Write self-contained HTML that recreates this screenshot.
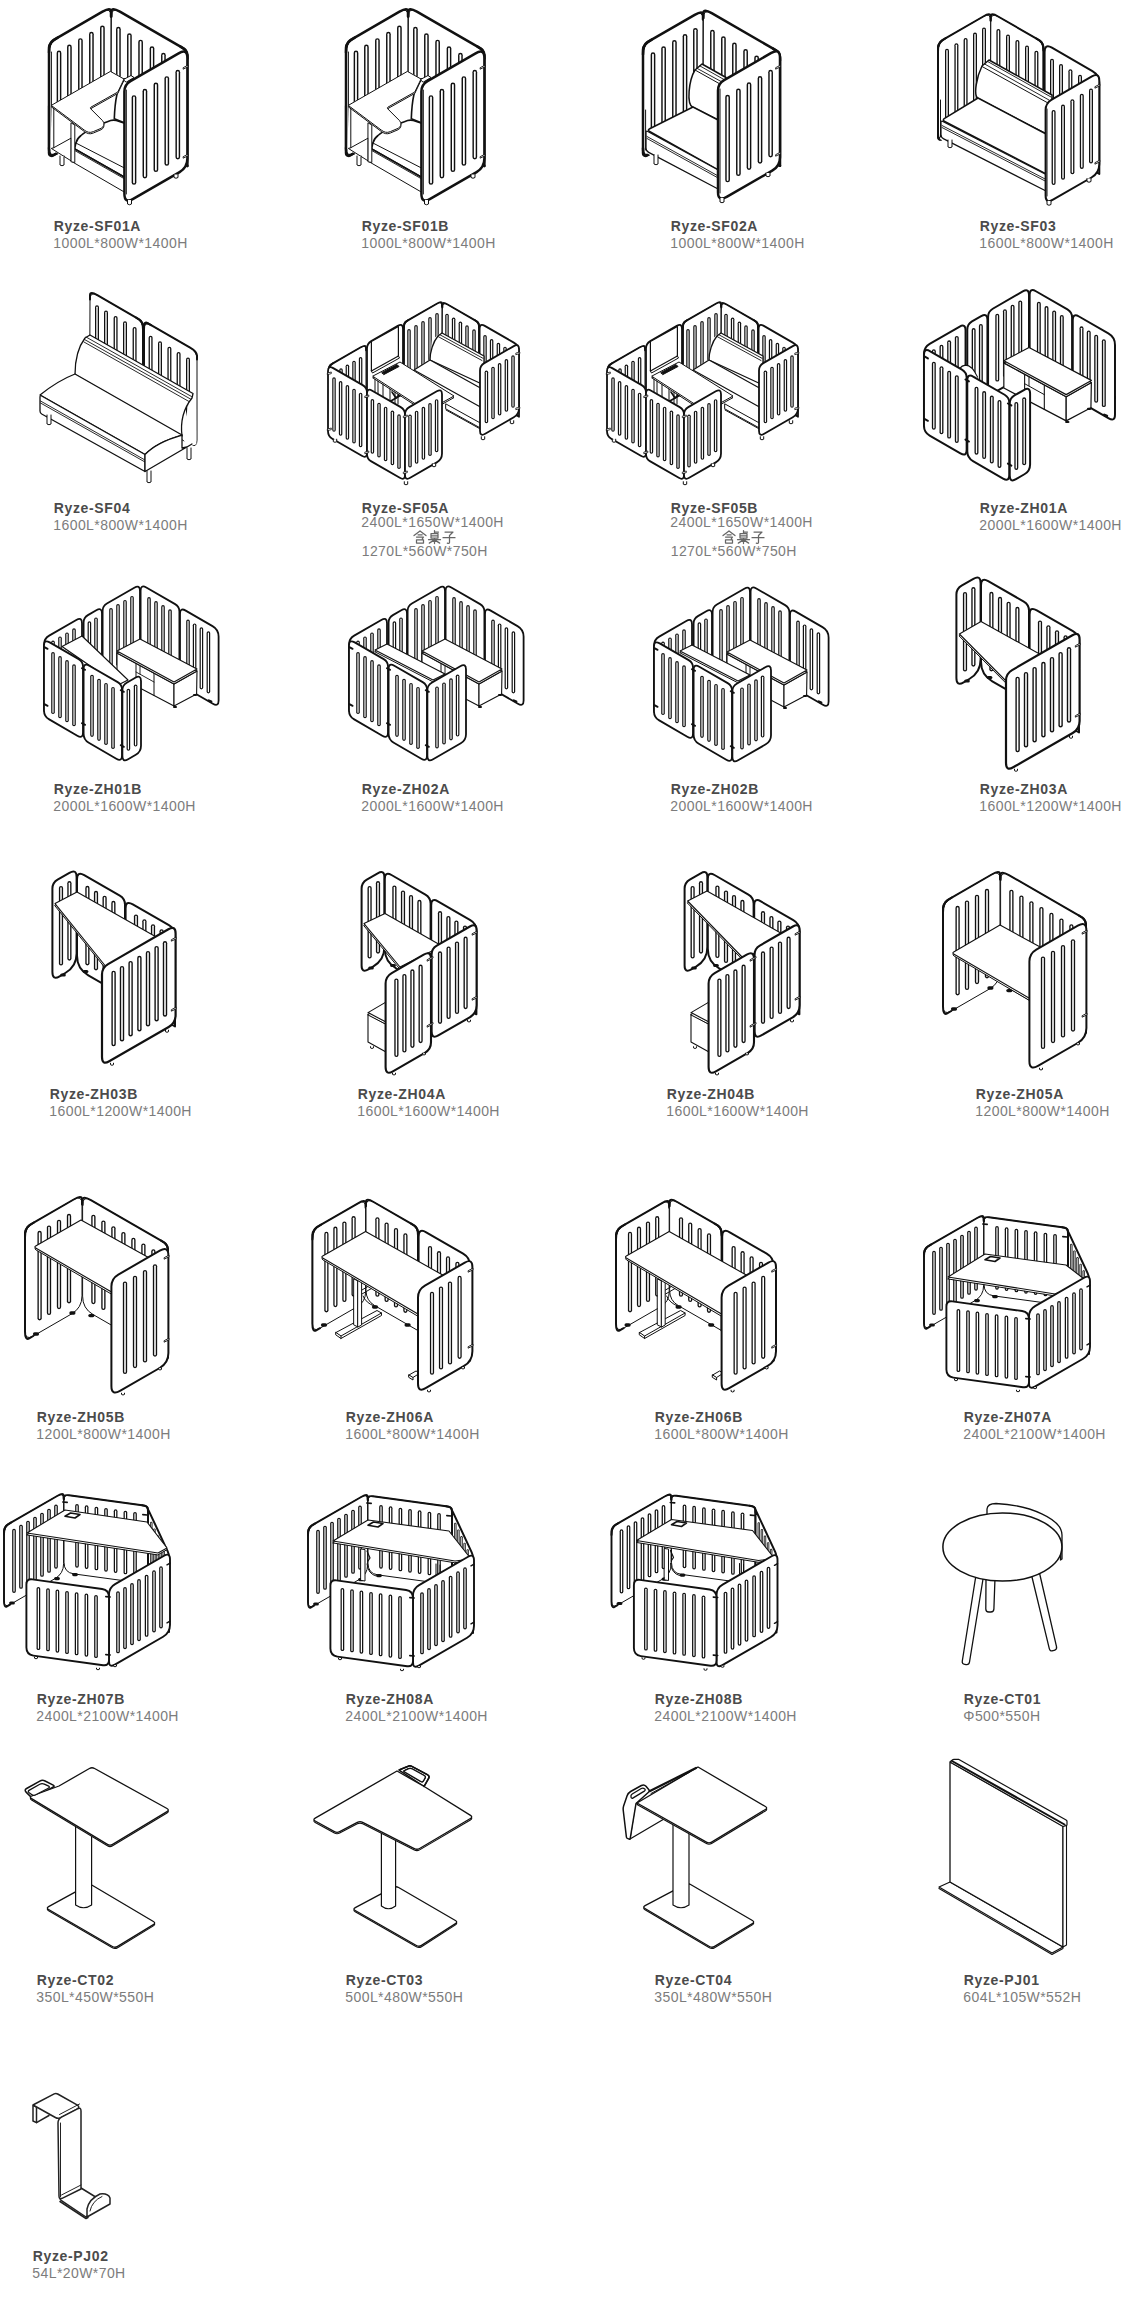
<!DOCTYPE html>
<html><head><meta charset="utf-8"><title>Ryze</title>
<style>
html,body{margin:0;padding:0;background:#fff}
body{width:1140px;height:2304px;overflow:hidden;font-family:"Liberation Sans",sans-serif}
svg{position:absolute;left:0;top:0;display:block}
path{stroke-linejoin:round;stroke-linecap:round}
.so{stroke:#111;fill:none}
.si{stroke:#fff;fill:none}
text{font-family:"Liberation Sans",sans-serif}
.n{font-size:14px;font-weight:bold;fill:#4b4b4b;letter-spacing:0.64px}
.d{font-size:14px;fill:#7c7c7c;letter-spacing:0.42px}
</style></head><body>
<svg width="1140" height="2304" viewBox="0 0 1140 2304">
<path d="M987 1515L987 1509Q987.5 1503.5 996 1503.5C1030 1505 1062 1519 1062 1535L1062 1559L1060.5 1560L1060.5 1540" fill="#fff" stroke="#111" stroke-width="1.3"/>
<path d="M986 1578L995 1578L993.9 1609Q993.8 1612 990.8 1612L988.8 1612Q985.8 1612 985.8 1609Z" fill="#fff" stroke="#111" stroke-width="1.3"/>
<path d="M976 1575L983.5 1576L969.5 1662Q969 1665 966 1664.6L964.8 1664.4Q961.8 1664 962.3 1661Z" fill="#fff" stroke="#111" stroke-width="1.3"/>
<path d="M1031.5 1575L1039.5 1573L1056.5 1646.6Q1057.2 1649.5 1054.3 1650.3L1052.9 1650.7Q1050 1651.5 1049.3 1648.6Z" fill="#fff" stroke="#111" stroke-width="1.3"/>
<ellipse cx="1002.4" cy="1547" rx="59.5" ry="34" fill="#fff" stroke="#111" stroke-width="1.5"/>
<text x="963.8" y="1703.5" class="n">Ryze-CT01</text>
<text x="963.3" y="1720.7" class="d">&#934;500*550H</text>
<path d="M48.6 1910.8Q46 1909.3 48.6 1907.9L87.4 1886.7Q90 1885.3 92.6 1886.8L153.4 1922.8Q156 1924.3 153.4 1925.9L117.6 1947.7Q115 1949.3 112.4 1947.8Z" fill="#fff" stroke="#111" stroke-width="1.1"/>
<path d="M48.6 1909.5Q46 1908 48.6 1906.6L87.4 1885.4Q90 1884 92.6 1885.5L153.4 1921.5Q156 1923 153.4 1924.6L117.6 1946.4Q115 1948 112.4 1946.5Z" fill="#fff" stroke="#111" stroke-width="1.3"/>
<path d="M75.6 1826V1905Q83.6 1910.5 91.6 1905V1834" fill="#fff" stroke="#111" stroke-width="1.2"/>
<path d="M31.6 1800Q29 1798.4 31.8 1797.4L59 1787.4L89.4 1769.9Q92 1768.4 94.6 1769.9L167 1809.9Q169.6 1811.4 167 1813L112.6 1845.8Q110 1847.4 107.4 1845.8Z" fill="#fff" stroke="#111" stroke-width="1.1"/>
<path d="M26.1 1792.1Q24 1790 26.6 1788.5L39.8 1781.1Q42.4 1779.6 45.1 1781L53.2 1785.1Q55 1786 53.3 1787L35.6 1797.5Q33 1799 30.9 1796.9Z" fill="#fff" stroke="#111" stroke-width="1.5"/>
<path d="M31.6 1798.6Q29 1797 31.8 1796L59 1786L89.4 1768.5Q92 1767 94.6 1768.5L167 1808.5Q169.6 1810 167 1811.6L112.6 1844.4Q110 1846 107.4 1844.4Z" fill="#fff" stroke="#111" stroke-width="1.3"/>
<path d="M29.2 1792.8Q27.2 1791.3 29.4 1790.1L39.8 1784.2Q42 1783 44.3 1784.1L48.2 1785.9Q50.5 1787 48.3 1788.2L35.8 1794.8Q33.6 1796 31.6 1794.5Z" fill="#fff" stroke="#111" stroke-width="1.3"/>
<text x="36.8" y="1985" class="n">Ryze-CT02</text>
<text x="36.3" y="2002.2" class="d">350L*450W*550H</text>
<path d="M355.2 1911.8Q352.6 1910.3 355.3 1908.9L393.3 1888.7Q396 1887.3 398.6 1888.8L455.4 1921.8Q458 1923.3 455.5 1924.9L421.5 1946.7Q419 1948.3 416.4 1946.8Z" fill="#fff" stroke="#111" stroke-width="1.1"/>
<path d="M355.2 1910.5Q352.6 1909 355.3 1907.6L393.3 1887.4Q396 1886 398.6 1887.5L455.4 1920.5Q458 1922 455.5 1923.6L421.5 1945.4Q419 1947 416.4 1945.5Z" fill="#fff" stroke="#111" stroke-width="1.3"/>
<path d="M381.4 1831V1906Q388.5 1911.5 395.6 1906V1839" fill="#fff" stroke="#111" stroke-width="1.2"/>
<path d="M399.8 1770.6Q399 1770 399.9 1769.6L408.2 1766.2Q410 1765.4 411.8 1766.3L427.3 1774.6Q430 1776 428.5 1778.6L425 1784.8Q424 1786.5 422.3 1785.4Z" fill="#fff" stroke="#111" stroke-width="1.5"/>
<path d="M404.7 1772Q403 1771 404.9 1770.3L408.7 1768.7Q410.6 1768 412.4 1769L424.2 1775.5Q426 1776.5 425 1778.2L423.5 1780.8Q422.5 1782.5 420.8 1781.5Z" fill="#fff" stroke="#111" stroke-width="1.3"/>
<path d="M315.2 1822.4Q312.6 1821 315.2 1819.5L397 1772.4L425 1788.4L470.5 1816.8Q473 1818.4 470.4 1819.9L419.6 1849.9Q417 1851.4 414.3 1850L362.7 1823.8Q360 1822.4 357.3 1823.8L339.7 1833Q337 1834.4 334.4 1833Z" fill="#fff" stroke="#111" stroke-width="1.1"/>
<path d="M315.2 1821Q312.6 1819.6 315.2 1818.1L397 1771L425 1787L470.5 1815.4Q473 1817 470.4 1818.5L419.6 1848.5Q417 1850 414.3 1848.6L362.7 1822.4Q360 1821 357.3 1822.4L339.7 1831.6Q337 1833 334.4 1831.6Z" fill="#fff" stroke="#111" stroke-width="1.3"/>
<path d="M404.7 1772Q403 1771 404.9 1770.3L408.7 1768.7Q410.6 1768 412.4 1769L424.2 1775.5Q426 1776.5 425 1778.2L423.5 1780.8Q422.5 1782.5 420.8 1781.5Z" fill="#fff" stroke="#111" stroke-width="1.3"/>
<path d="M399 1770L408.2 1766.2Q410 1765.4 411.8 1766.3L427.3 1774.6Q430 1776 428.5 1778.6L424 1786.5" fill="none" stroke="#111" stroke-width="1.5"/>
<text x="345.8" y="1985" class="n">Ryze-CT03</text>
<text x="345.3" y="2002.2" class="d">500L*480W*550H</text>
<path d="M645 1909.8Q642.4 1908.3 645.1 1906.9L685.3 1885.7Q688 1884.3 690.6 1885.8L752.4 1921.8Q755 1923.3 752.4 1924.9L714.6 1947.7Q712 1949.3 709.4 1947.8Z" fill="#fff" stroke="#111" stroke-width="1.1"/>
<path d="M645 1908.5Q642.4 1907 645.1 1905.6L685.3 1884.4Q688 1883 690.6 1884.5L752.4 1920.5Q755 1922 752.4 1923.6L714.6 1946.4Q712 1948 709.4 1946.5Z" fill="#fff" stroke="#111" stroke-width="1.3"/>
<path d="M673 1824V1905Q681 1910.5 689 1905V1832" fill="#fff" stroke="#111" stroke-width="1.2"/>
<path d="M635.5 1803L630 1839L664 1819L664 1800Z" fill="#fff" stroke="#111" stroke-width="1.3"/>
<path d="M630.6 1791.5Q628 1793 627.1 1795.8L623.6 1806.1Q623 1808 623.2 1810L626.4 1837Q626.5 1838 627.4 1838.4L629.1 1839.1Q630 1839.5 630.2 1838.5L636 1803.5L648.5 1792.3Q650 1791 648.7 1789.5L646 1786.3Q644 1784 641.4 1785.5Z" fill="#fff" stroke="#111" stroke-width="1.5"/>
<path d="M631 1796.9Q630.5 1795 632.2 1794L641.3 1788.5Q643 1787.5 644.5 1788.8L644.5 1788.8Q646 1790 644.3 1791.1L633.2 1797.9Q631.5 1799 631 1797.1Z" fill="#fff" stroke="#111" stroke-width="1.3"/>
<path d="M637 1804.4L698 1768.4L765.4 1807.9Q768 1809.4 765.4 1810.9L711.6 1843.5Q709 1845 706.4 1843.5Z" fill="#fff" stroke="#111" stroke-width="1.1"/>
<path d="M637 1803L698 1767L765.4 1806.5Q768 1808 765.4 1809.5L711.6 1842.1Q709 1843.6 706.4 1842.1Z" fill="#fff" stroke="#111" stroke-width="1.3"/>
<path d="M650 1791L696 1768" fill="none" stroke="#111" stroke-width="2.2"/>
<path d="M651 1793.5L690 1772" fill="none" stroke="#111" stroke-width="1"/>
<text x="654.8" y="1985" class="n">Ryze-CT04</text>
<text x="654.3" y="2002.2" class="d">350L*480W*550H</text>
<path d="M950 1882L939 1887L1052 1953L1063 1947Z" fill="#fff" stroke="#111" stroke-width="1.2"/>
<path d="M939 1888.4L1052 1954.4L1063 1948.4" fill="none" stroke="#111" stroke-width="1.1"/>
<path d="M950 1762L1063 1826L1063 1947L950 1882Z" fill="#fff" stroke="#111" stroke-width="1.3"/>
<path d="M1063 1826L1066.5 1824.5L1066.5 1945L1063 1947Z" fill="#fff" stroke="#111" stroke-width="1.1"/>
<path d="M950.9 1762.5Q950 1762 950.7 1761.3L952.3 1760Q953 1759.3 954 1759.3L958.5 1759.3L1066.1 1820Q1067 1820.5 1067 1821.5L1067 1824.5Q1067 1825.5 1066 1825.7L1063 1826.5Z" fill="#fff" stroke="#111" stroke-width="1.2"/>
<path d="M952 1761L1064.5 1824.5" fill="none" stroke="#111" stroke-width="2"/>
<text x="963.8" y="1985" class="n">Ryze-PJ01</text>
<text x="963.3" y="2002.2" class="d">604L*105W*552H</text>
<path d="M33 2105L36.5 2107L36.5 2122.6L33 2121Z" fill="#fff" stroke="#222" stroke-width="1.5"/>
<path d="M36.5 2122.6L49 2115.5" fill="none" stroke="#222" stroke-width="1.5"/>
<path d="M33.9 2105.5Q33 2105 33.9 2104.5L54.2 2093.9Q56 2093 57.7 2094L76.6 2104.6Q81 2107 76.6 2109.3L60.7 2117.6Q58 2119 55.4 2117.5Z" fill="#fff" stroke="#222" stroke-width="1.5"/>
<path d="M59.5 2114.5L79.5 2104" fill="none" stroke="#222" stroke-width="1"/>
<path d="M61.5 2200.7Q59 2199 61.7 2197.7L81 2188L107 2204L86 2217Z" fill="#fff" stroke="#222" stroke-width="1.5"/>
<path d="M58 2123Q58 2119 61.5 2117.1L77.5 2108.9Q81 2107 81 2111L81 2189L62.6 2198.2Q59 2200 59 2196Z" fill="#fff" stroke="#222" stroke-width="1.5"/>
<path d="M60.5 2123L60.5 2197" fill="none" stroke="#222" stroke-width="1"/>
<path d="M61.5 2195L81 2185" fill="none" stroke="#222" stroke-width="1"/>
<path d="M60 2201.5L86 2218.5L88 2217.5" fill="none" stroke="#222" stroke-width="1.5"/>
<path d="M87 2217L87 2209Q89 2199 100 2194Q108 2193 110 2198L110 2204Z" fill="#fff" stroke="#222" stroke-width="1.5"/>
<path d="M90 2211Q92 2201 102 2196.5" fill="none" stroke="#222" stroke-width="1"/>
<text x="32.8" y="2261" class="n">Ryze-PJ02</text>
<text x="32.3" y="2278.2" class="d">54L*20W*70H</text>
<path d="M924 1256.6Q924 1248.6 930.9 1244.6L977.6 1217.7Q983.6 1214.2 983.6 1221.1L983.6 1285.7Q983.6 1295.7 974.9 1300.7L930 1326.6Q924 1330 924 1323.1Z" fill="#fff" stroke="#111" stroke-width="1"/>
<path d="M924 1256.6L924 1252.6Q924 1248.6 930.9 1244.6L977.6 1217.7Q983.6 1214.2 983.6 1217.7L983.6 1221.1" fill="none" stroke="#111" stroke-width="1.9"/>
<path d="M930 1326.6L927 1328.3Q924 1330 924 1323.1L924 1256.6Q924 1248.6 927.5 1246.6L930.9 1244.6" fill="none" stroke="#111" stroke-width="1.9"/>
<path d="M934 1252.7L934 1313.1" class="so" stroke-width="3.7"/><path d="M934 1252.7L934 1313.1" class="si" stroke-width="1.2"/>
<path d="M941 1248.6L941 1309" class="so" stroke-width="3.7"/><path d="M941 1248.6L941 1309" class="si" stroke-width="1.2"/>
<path d="M948 1244.6L948 1305" class="so" stroke-width="3.7"/><path d="M948 1244.6L948 1305" class="si" stroke-width="1.2"/>
<path d="M955 1240.6L955 1301" class="so" stroke-width="3.7"/><path d="M955 1240.6L955 1301" class="si" stroke-width="1.2"/>
<path d="M962 1236.5L962 1296.9" class="so" stroke-width="3.7"/><path d="M962 1236.5L962 1296.9" class="si" stroke-width="1.2"/>
<path d="M969 1232.5L969 1292.9" class="so" stroke-width="3.7"/><path d="M969 1232.5L969 1292.9" class="si" stroke-width="1.2"/>
<path d="M976 1228.4L976 1288.8" class="so" stroke-width="3.7"/><path d="M976 1228.4L976 1288.8" class="si" stroke-width="1.2"/>
<path d="M984 1221.6Q984 1216.6 989 1217.3L1062.1 1227.2Q1068 1228 1068 1234L1068 1306L993.9 1295.9Q984 1294.6 984 1284.6Z" fill="#fff" stroke="#111" stroke-width="1"/>
<path d="M984 1221.6L984 1219.1Q984 1216.6 989 1217.3L1062.1 1227.2Q1068 1228 1068 1231L1068 1234" fill="none" stroke="#111" stroke-width="1.9"/>
<path d="M1062.1 1227.2L1065 1227.6Q1068 1228 1068 1234L1068 1306L1068 1306" fill="none" stroke="#111" stroke-width="1.9"/>
<path d="M997 1227.9L997 1287.8" class="so" stroke-width="3.7"/><path d="M997 1227.9L997 1287.8" class="si" stroke-width="1.2"/>
<path d="M1006.6 1229.2L1006.6 1289.1" class="so" stroke-width="3.7"/><path d="M1006.6 1229.2L1006.6 1289.1" class="si" stroke-width="1.2"/>
<path d="M1016.4 1230.5L1016.4 1290.4" class="so" stroke-width="3.7"/><path d="M1016.4 1230.5L1016.4 1290.4" class="si" stroke-width="1.2"/>
<path d="M1026 1231.8L1026 1291.8" class="so" stroke-width="3.7"/><path d="M1026 1231.8L1026 1291.8" class="si" stroke-width="1.2"/>
<path d="M1035.6 1233.2L1035.6 1293.1" class="so" stroke-width="3.7"/><path d="M1035.6 1233.2L1035.6 1293.1" class="si" stroke-width="1.2"/>
<path d="M1045.4 1234.5L1045.4 1294.4" class="so" stroke-width="3.7"/><path d="M1045.4 1234.5L1045.4 1294.4" class="si" stroke-width="1.2"/>
<path d="M1055 1235.8L1055 1295.7" class="so" stroke-width="3.7"/><path d="M1055 1235.8L1055 1295.7" class="si" stroke-width="1.2"/>
<path d="M1068 1233Q1068 1231 1068.8 1232.8L1087.7 1273.3Q1089 1276 1089 1279L1089 1354L1068 1309Z" fill="#fff" stroke="#111" stroke-width="2"/>
<path d="M1071.3 1245L1071.3 1309.2" class="so" stroke-width="2.4"/><path d="M1071.3 1245L1071.3 1309.2" class="si" stroke-width="0.7"/>
<path d="M1074.4 1251.6L1074.4 1315.8" class="so" stroke-width="2.4"/><path d="M1074.4 1251.6L1074.4 1315.8" class="si" stroke-width="0.7"/>
<path d="M1077.5 1258.3L1077.5 1322.5" class="so" stroke-width="2.4"/><path d="M1077.5 1258.3L1077.5 1322.5" class="si" stroke-width="0.7"/>
<path d="M1080.6 1264.9L1080.6 1329.1" class="so" stroke-width="2.4"/><path d="M1080.6 1264.9L1080.6 1329.1" class="si" stroke-width="0.7"/>
<path d="M1083.7 1271.5L1083.7 1335.7" class="so" stroke-width="2.4"/><path d="M1083.7 1271.5L1083.7 1335.7" class="si" stroke-width="0.7"/>
<path d="M1086.6 1277.8L1086.6 1342" class="so" stroke-width="2.4"/><path d="M1086.6 1277.8L1086.6 1342" class="si" stroke-width="0.7"/>
<path d="M930.7 1325L933.3 1325" fill="none" stroke="#111" stroke-width="3.2"/>
<path d="M975.7 1300.6L978.3 1300.6" fill="none" stroke="#111" stroke-width="3.2"/>
<path d="M993.7 1296.6L996.3 1296.6" fill="none" stroke="#111" stroke-width="3.2"/>
<path d="M948 1278.7L985 1255.7L1066 1266.7L1088 1283.7L1055 1295.7Z" fill="#fff" stroke="#111" stroke-width="1"/>
<path d="M948 1277L985 1254L1066 1265L1088 1282L1055 1294Z" fill="#fff" stroke="#111" stroke-width="1.1"/>
<path d="M985 1259.7L990.5 1256.5L1000 1258L995 1261.5Z" fill="#fff" stroke="#111" stroke-width="1.6"/>
<path d="M1029 1316.6Q1029 1309.6 1035.1 1306.1L1084.1 1277.8Q1090 1274.4 1090 1281.2L1090 1346.8Q1090 1354.8 1083.1 1358.8L1034.9 1386.6Q1029 1390 1029 1383.2Z" fill="#fff" stroke="#111" stroke-width="1.9"/>
<path d="M1038 1315L1038 1373.4" class="so" stroke-width="3.7"/><path d="M1038 1315L1038 1373.4" class="si" stroke-width="1.2"/>
<path d="M1045 1310.9L1045 1369.3" class="so" stroke-width="3.7"/><path d="M1045 1310.9L1045 1369.3" class="si" stroke-width="1.2"/>
<path d="M1052 1306.9L1052 1365.3" class="so" stroke-width="3.7"/><path d="M1052 1306.9L1052 1365.3" class="si" stroke-width="1.2"/>
<path d="M1059 1302.9L1059 1361.3" class="so" stroke-width="3.7"/><path d="M1059 1302.9L1059 1361.3" class="si" stroke-width="1.2"/>
<path d="M1066.6 1298.5L1066.6 1356.9" class="so" stroke-width="3.7"/><path d="M1066.6 1298.5L1066.6 1356.9" class="si" stroke-width="1.2"/>
<path d="M1074 1294.2L1074 1352.6" class="so" stroke-width="3.7"/><path d="M1074 1294.2L1074 1352.6" class="si" stroke-width="1.2"/>
<path d="M1081 1290.2L1081 1348.6" class="so" stroke-width="3.7"/><path d="M1081 1290.2L1081 1348.6" class="si" stroke-width="1.2"/>
<path d="M946.4 1306.6Q946.4 1300.6 952.3 1301.4L1022.1 1311Q1029 1312 1029 1319L1029 1382Q1029 1388 1023.1 1387.2L953.3 1377.6Q946.4 1376.6 946.4 1369.6Z" fill="#fff" stroke="#111" stroke-width="1.9"/>
<path d="M958.4 1310.8L958.4 1370.2" class="so" stroke-width="3.7"/><path d="M958.4 1310.8L958.4 1370.2" class="si" stroke-width="1.2"/>
<path d="M968 1312.1L968 1371.5" class="so" stroke-width="3.7"/><path d="M968 1312.1L968 1371.5" class="si" stroke-width="1.2"/>
<path d="M977.4 1313.4L977.4 1372.8" class="so" stroke-width="3.7"/><path d="M977.4 1313.4L977.4 1372.8" class="si" stroke-width="1.2"/>
<path d="M987 1314.8L987 1374.2" class="so" stroke-width="3.7"/><path d="M987 1314.8L987 1374.2" class="si" stroke-width="1.2"/>
<path d="M996.6 1316.1L996.6 1375.5" class="so" stroke-width="3.7"/><path d="M996.6 1316.1L996.6 1375.5" class="si" stroke-width="1.2"/>
<path d="M1006.4 1317.4L1006.4 1376.8" class="so" stroke-width="3.7"/><path d="M1006.4 1317.4L1006.4 1376.8" class="si" stroke-width="1.2"/>
<path d="M1016 1318.8L1016 1378.2" class="so" stroke-width="3.7"/><path d="M1016 1318.8L1016 1378.2" class="si" stroke-width="1.2"/>
<path d="M982.8 1224L987.2 1224.4" fill="none" stroke="#111" stroke-width="1.6"/>
<path d="M1062.8 1236.6L1067.2 1237" fill="none" stroke="#111" stroke-width="1.6"/>
<path d="M1025.8 1318.6L1030.2 1319" fill="none" stroke="#111" stroke-width="1.6"/>
<path d="M1025.8 1376.6L1030.2 1377" fill="none" stroke="#111" stroke-width="1.6"/>
<path d="M1087 1286.8L1090 1285.2" fill="none" stroke="#111" stroke-width="1.5"/>
<path d="M1087 1344.8L1090 1343.2" fill="none" stroke="#111" stroke-width="1.5"/>
<path d="M954.5 1379.2V1380.2Q956 1381.4 957.5 1380.2V1379.2" fill="#fff" stroke="#111" stroke-width="1"/>
<path d="M1016.5 1390.2V1391.2Q1018 1392.4 1019.5 1391.2V1390.2" fill="#fff" stroke="#111" stroke-width="1"/>
<path d="M1033.5 1387.2V1388.2Q1035 1389.4 1036.5 1388.2V1387.2" fill="#fff" stroke="#111" stroke-width="1"/>
<text x="963.8" y="1421.5" class="n">Ryze-ZH07A</text>
<text x="963.3" y="1438.7" class="d">2400L*2100W*1400H</text>
<g transform="translate(-920,278)">
<path d="M924 1256.6Q924 1248.6 930.9 1244.6L977.6 1217.7Q983.6 1214.2 983.6 1221.1L983.6 1285.7Q983.6 1295.7 974.9 1300.7L930 1326.6Q924 1330 924 1323.1Z" fill="#fff" stroke="#111" stroke-width="1"/>
<path d="M924 1256.6L924 1252.6Q924 1248.6 930.9 1244.6L977.6 1217.7Q983.6 1214.2 983.6 1217.7L983.6 1221.1" fill="none" stroke="#111" stroke-width="1.9"/>
<path d="M930 1326.6L927 1328.3Q924 1330 924 1323.1L924 1256.6Q924 1248.6 927.5 1246.6L930.9 1244.6" fill="none" stroke="#111" stroke-width="1.9"/>
<path d="M934 1252.7L934 1313.1" class="so" stroke-width="3.7"/><path d="M934 1252.7L934 1313.1" class="si" stroke-width="1.2"/>
<path d="M941 1248.6L941 1309" class="so" stroke-width="3.7"/><path d="M941 1248.6L941 1309" class="si" stroke-width="1.2"/>
<path d="M948 1244.6L948 1305" class="so" stroke-width="3.7"/><path d="M948 1244.6L948 1305" class="si" stroke-width="1.2"/>
<path d="M955 1240.6L955 1301" class="so" stroke-width="3.7"/><path d="M955 1240.6L955 1301" class="si" stroke-width="1.2"/>
<path d="M962 1236.5L962 1296.9" class="so" stroke-width="3.7"/><path d="M962 1236.5L962 1296.9" class="si" stroke-width="1.2"/>
<path d="M969 1232.5L969 1292.9" class="so" stroke-width="3.7"/><path d="M969 1232.5L969 1292.9" class="si" stroke-width="1.2"/>
<path d="M976 1228.4L976 1288.8" class="so" stroke-width="3.7"/><path d="M976 1228.4L976 1288.8" class="si" stroke-width="1.2"/>
<path d="M984 1221.6Q984 1216.6 989 1217.3L1062.1 1227.2Q1068 1228 1068 1234L1068 1306L993.9 1295.9Q984 1294.6 984 1284.6Z" fill="#fff" stroke="#111" stroke-width="1"/>
<path d="M984 1221.6L984 1219.1Q984 1216.6 989 1217.3L1062.1 1227.2Q1068 1228 1068 1231L1068 1234" fill="none" stroke="#111" stroke-width="1.9"/>
<path d="M1062.1 1227.2L1065 1227.6Q1068 1228 1068 1234L1068 1306L1068 1306" fill="none" stroke="#111" stroke-width="1.9"/>
<path d="M997 1227.9L997 1287.8" class="so" stroke-width="3.7"/><path d="M997 1227.9L997 1287.8" class="si" stroke-width="1.2"/>
<path d="M1006.6 1229.2L1006.6 1289.1" class="so" stroke-width="3.7"/><path d="M1006.6 1229.2L1006.6 1289.1" class="si" stroke-width="1.2"/>
<path d="M1016.4 1230.5L1016.4 1290.4" class="so" stroke-width="3.7"/><path d="M1016.4 1230.5L1016.4 1290.4" class="si" stroke-width="1.2"/>
<path d="M1026 1231.8L1026 1291.8" class="so" stroke-width="3.7"/><path d="M1026 1231.8L1026 1291.8" class="si" stroke-width="1.2"/>
<path d="M1035.6 1233.2L1035.6 1293.1" class="so" stroke-width="3.7"/><path d="M1035.6 1233.2L1035.6 1293.1" class="si" stroke-width="1.2"/>
<path d="M1045.4 1234.5L1045.4 1294.4" class="so" stroke-width="3.7"/><path d="M1045.4 1234.5L1045.4 1294.4" class="si" stroke-width="1.2"/>
<path d="M1055 1235.8L1055 1295.7" class="so" stroke-width="3.7"/><path d="M1055 1235.8L1055 1295.7" class="si" stroke-width="1.2"/>
<path d="M1068 1233Q1068 1231 1068.8 1232.8L1087.7 1273.3Q1089 1276 1089 1279L1089 1354L1068 1309Z" fill="#fff" stroke="#111" stroke-width="2"/>
<path d="M1071.3 1245L1071.3 1309.2" class="so" stroke-width="2.4"/><path d="M1071.3 1245L1071.3 1309.2" class="si" stroke-width="0.7"/>
<path d="M1074.4 1251.6L1074.4 1315.8" class="so" stroke-width="2.4"/><path d="M1074.4 1251.6L1074.4 1315.8" class="si" stroke-width="0.7"/>
<path d="M1077.5 1258.3L1077.5 1322.5" class="so" stroke-width="2.4"/><path d="M1077.5 1258.3L1077.5 1322.5" class="si" stroke-width="0.7"/>
<path d="M1080.6 1264.9L1080.6 1329.1" class="so" stroke-width="2.4"/><path d="M1080.6 1264.9L1080.6 1329.1" class="si" stroke-width="0.7"/>
<path d="M1083.7 1271.5L1083.7 1335.7" class="so" stroke-width="2.4"/><path d="M1083.7 1271.5L1083.7 1335.7" class="si" stroke-width="0.7"/>
<path d="M1086.6 1277.8L1086.6 1342" class="so" stroke-width="2.4"/><path d="M1086.6 1277.8L1086.6 1342" class="si" stroke-width="0.7"/>
<path d="M930.7 1325L933.3 1325" fill="none" stroke="#111" stroke-width="3.2"/>
<path d="M975.7 1300.6L978.3 1300.6" fill="none" stroke="#111" stroke-width="3.2"/>
<path d="M993.7 1296.6L996.3 1296.6" fill="none" stroke="#111" stroke-width="3.2"/>
<path d="M947 1256.7L985 1233.7L1067 1245.7L1087 1271.7L1078 1276.7Z" fill="#fff" stroke="#111" stroke-width="1"/>
<path d="M947 1255L985 1232L1067 1244L1087 1270L1078 1275Z" fill="#fff" stroke="#111" stroke-width="1.1"/>
<path d="M985 1238.2L990.5 1235L1000 1236.5L995 1240Z" fill="#fff" stroke="#111" stroke-width="1.6"/>
<path d="M1029 1316.6Q1029 1309.6 1035.1 1306.1L1084.1 1277.8Q1090 1274.4 1090 1281.2L1090 1346.8Q1090 1354.8 1083.1 1358.8L1034.9 1386.6Q1029 1390 1029 1383.2Z" fill="#fff" stroke="#111" stroke-width="1.9"/>
<path d="M1038 1315L1038 1373.4" class="so" stroke-width="3.7"/><path d="M1038 1315L1038 1373.4" class="si" stroke-width="1.2"/>
<path d="M1045 1310.9L1045 1369.3" class="so" stroke-width="3.7"/><path d="M1045 1310.9L1045 1369.3" class="si" stroke-width="1.2"/>
<path d="M1052 1306.9L1052 1365.3" class="so" stroke-width="3.7"/><path d="M1052 1306.9L1052 1365.3" class="si" stroke-width="1.2"/>
<path d="M1059 1302.9L1059 1361.3" class="so" stroke-width="3.7"/><path d="M1059 1302.9L1059 1361.3" class="si" stroke-width="1.2"/>
<path d="M1066.6 1298.5L1066.6 1356.9" class="so" stroke-width="3.7"/><path d="M1066.6 1298.5L1066.6 1356.9" class="si" stroke-width="1.2"/>
<path d="M1074 1294.2L1074 1352.6" class="so" stroke-width="3.7"/><path d="M1074 1294.2L1074 1352.6" class="si" stroke-width="1.2"/>
<path d="M1081 1290.2L1081 1348.6" class="so" stroke-width="3.7"/><path d="M1081 1290.2L1081 1348.6" class="si" stroke-width="1.2"/>
<path d="M946.4 1306.6Q946.4 1300.6 952.3 1301.4L1022.1 1311Q1029 1312 1029 1319L1029 1382Q1029 1388 1023.1 1387.2L953.3 1377.6Q946.4 1376.6 946.4 1369.6Z" fill="#fff" stroke="#111" stroke-width="1.9"/>
<path d="M958.4 1310.8L958.4 1370.2" class="so" stroke-width="3.7"/><path d="M958.4 1310.8L958.4 1370.2" class="si" stroke-width="1.2"/>
<path d="M968 1312.1L968 1371.5" class="so" stroke-width="3.7"/><path d="M968 1312.1L968 1371.5" class="si" stroke-width="1.2"/>
<path d="M977.4 1313.4L977.4 1372.8" class="so" stroke-width="3.7"/><path d="M977.4 1313.4L977.4 1372.8" class="si" stroke-width="1.2"/>
<path d="M987 1314.8L987 1374.2" class="so" stroke-width="3.7"/><path d="M987 1314.8L987 1374.2" class="si" stroke-width="1.2"/>
<path d="M996.6 1316.1L996.6 1375.5" class="so" stroke-width="3.7"/><path d="M996.6 1316.1L996.6 1375.5" class="si" stroke-width="1.2"/>
<path d="M1006.4 1317.4L1006.4 1376.8" class="so" stroke-width="3.7"/><path d="M1006.4 1317.4L1006.4 1376.8" class="si" stroke-width="1.2"/>
<path d="M1016 1318.8L1016 1378.2" class="so" stroke-width="3.7"/><path d="M1016 1318.8L1016 1378.2" class="si" stroke-width="1.2"/>
<path d="M982.8 1224L987.2 1224.4" fill="none" stroke="#111" stroke-width="1.6"/>
<path d="M1062.8 1236.6L1067.2 1237" fill="none" stroke="#111" stroke-width="1.6"/>
<path d="M1025.8 1318.6L1030.2 1319" fill="none" stroke="#111" stroke-width="1.6"/>
<path d="M1025.8 1376.6L1030.2 1377" fill="none" stroke="#111" stroke-width="1.6"/>
<path d="M1087 1286.8L1090 1285.2" fill="none" stroke="#111" stroke-width="1.5"/>
<path d="M1087 1344.8L1090 1343.2" fill="none" stroke="#111" stroke-width="1.5"/>
<path d="M954.5 1379.2V1380.2Q956 1381.4 957.5 1380.2V1379.2" fill="#fff" stroke="#111" stroke-width="1"/>
<path d="M1016.5 1390.2V1391.2Q1018 1392.4 1019.5 1391.2V1390.2" fill="#fff" stroke="#111" stroke-width="1"/>
<path d="M1033.5 1387.2V1388.2Q1035 1389.4 1036.5 1388.2V1387.2" fill="#fff" stroke="#111" stroke-width="1"/>
</g>
<text x="36.8" y="1703.5" class="n">Ryze-ZH07B</text>
<text x="36.3" y="1720.7" class="d">2400L*2100W*1400H</text>
<g transform="translate(-616,279)">
<path d="M924 1256.6Q924 1248.6 930.9 1244.6L977.6 1217.7Q983.6 1214.2 983.6 1221.1L983.6 1285.7Q983.6 1295.7 974.9 1300.7L930 1326.6Q924 1330 924 1323.1Z" fill="#fff" stroke="#111" stroke-width="1"/>
<path d="M924 1256.6L924 1252.6Q924 1248.6 930.9 1244.6L977.6 1217.7Q983.6 1214.2 983.6 1217.7L983.6 1221.1" fill="none" stroke="#111" stroke-width="1.9"/>
<path d="M930 1326.6L927 1328.3Q924 1330 924 1323.1L924 1256.6Q924 1248.6 927.5 1246.6L930.9 1244.6" fill="none" stroke="#111" stroke-width="1.9"/>
<path d="M934 1252.7L934 1313.1" class="so" stroke-width="3.7"/><path d="M934 1252.7L934 1313.1" class="si" stroke-width="1.2"/>
<path d="M941 1248.6L941 1309" class="so" stroke-width="3.7"/><path d="M941 1248.6L941 1309" class="si" stroke-width="1.2"/>
<path d="M948 1244.6L948 1305" class="so" stroke-width="3.7"/><path d="M948 1244.6L948 1305" class="si" stroke-width="1.2"/>
<path d="M955 1240.6L955 1301" class="so" stroke-width="3.7"/><path d="M955 1240.6L955 1301" class="si" stroke-width="1.2"/>
<path d="M962 1236.5L962 1296.9" class="so" stroke-width="3.7"/><path d="M962 1236.5L962 1296.9" class="si" stroke-width="1.2"/>
<path d="M969 1232.5L969 1292.9" class="so" stroke-width="3.7"/><path d="M969 1232.5L969 1292.9" class="si" stroke-width="1.2"/>
<path d="M976 1228.4L976 1288.8" class="so" stroke-width="3.7"/><path d="M976 1228.4L976 1288.8" class="si" stroke-width="1.2"/>
<path d="M984 1221.6Q984 1216.6 989 1217.3L1062.1 1227.2Q1068 1228 1068 1234L1068 1306L993.9 1295.9Q984 1294.6 984 1284.6Z" fill="#fff" stroke="#111" stroke-width="1"/>
<path d="M984 1221.6L984 1219.1Q984 1216.6 989 1217.3L1062.1 1227.2Q1068 1228 1068 1231L1068 1234" fill="none" stroke="#111" stroke-width="1.9"/>
<path d="M1062.1 1227.2L1065 1227.6Q1068 1228 1068 1234L1068 1306L1068 1306" fill="none" stroke="#111" stroke-width="1.9"/>
<path d="M997 1227.9L997 1287.8" class="so" stroke-width="3.7"/><path d="M997 1227.9L997 1287.8" class="si" stroke-width="1.2"/>
<path d="M1006.6 1229.2L1006.6 1289.1" class="so" stroke-width="3.7"/><path d="M1006.6 1229.2L1006.6 1289.1" class="si" stroke-width="1.2"/>
<path d="M1016.4 1230.5L1016.4 1290.4" class="so" stroke-width="3.7"/><path d="M1016.4 1230.5L1016.4 1290.4" class="si" stroke-width="1.2"/>
<path d="M1026 1231.8L1026 1291.8" class="so" stroke-width="3.7"/><path d="M1026 1231.8L1026 1291.8" class="si" stroke-width="1.2"/>
<path d="M1035.6 1233.2L1035.6 1293.1" class="so" stroke-width="3.7"/><path d="M1035.6 1233.2L1035.6 1293.1" class="si" stroke-width="1.2"/>
<path d="M1045.4 1234.5L1045.4 1294.4" class="so" stroke-width="3.7"/><path d="M1045.4 1234.5L1045.4 1294.4" class="si" stroke-width="1.2"/>
<path d="M1055 1235.8L1055 1295.7" class="so" stroke-width="3.7"/><path d="M1055 1235.8L1055 1295.7" class="si" stroke-width="1.2"/>
<path d="M1068 1233Q1068 1231 1068.8 1232.8L1087.7 1273.3Q1089 1276 1089 1279L1089 1354L1068 1309Z" fill="#fff" stroke="#111" stroke-width="2"/>
<path d="M1071.3 1245L1071.3 1309.2" class="so" stroke-width="2.4"/><path d="M1071.3 1245L1071.3 1309.2" class="si" stroke-width="0.7"/>
<path d="M1074.4 1251.6L1074.4 1315.8" class="so" stroke-width="2.4"/><path d="M1074.4 1251.6L1074.4 1315.8" class="si" stroke-width="0.7"/>
<path d="M1077.5 1258.3L1077.5 1322.5" class="so" stroke-width="2.4"/><path d="M1077.5 1258.3L1077.5 1322.5" class="si" stroke-width="0.7"/>
<path d="M1080.6 1264.9L1080.6 1329.1" class="so" stroke-width="2.4"/><path d="M1080.6 1264.9L1080.6 1329.1" class="si" stroke-width="0.7"/>
<path d="M1083.7 1271.5L1083.7 1335.7" class="so" stroke-width="2.4"/><path d="M1083.7 1271.5L1083.7 1335.7" class="si" stroke-width="0.7"/>
<path d="M1086.6 1277.8L1086.6 1342" class="so" stroke-width="2.4"/><path d="M1086.6 1277.8L1086.6 1342" class="si" stroke-width="0.7"/>
<path d="M930.7 1325L933.3 1325" fill="none" stroke="#111" stroke-width="3.2"/>
<path d="M975.7 1300.6L978.3 1300.6" fill="none" stroke="#111" stroke-width="3.2"/>
<path d="M993.7 1296.6L996.3 1296.6" fill="none" stroke="#111" stroke-width="3.2"/>
<path d="M977 1270L981 1270.6L981 1302L977 1301.4Z" fill="#fff" stroke="#111" stroke-width="1"/>
<path d="M983 1272L986 1279L984 1282" fill="none" stroke="#111" stroke-width="1.2"/>
<path d="M983 1285Q984 1295 992 1297" fill="none" stroke="#111" stroke-width="1"/>
<path d="M1052 1285L1052 1296" fill="none" stroke="#111" stroke-width="1"/>
<path d="M1056 1286L1056 1294" fill="none" stroke="#111" stroke-width="1"/>
<path d="M949 1263.7L984 1242.7L1065 1253.7L1087 1281.7L1071 1283.7Z" fill="#fff" stroke="#111" stroke-width="1"/>
<path d="M949 1262L984 1241L1065 1252L1087 1280L1071 1282Z" fill="#fff" stroke="#111" stroke-width="1.1"/>
<path d="M984 1246.2L989.5 1243L999 1244.5L994 1248Z" fill="#fff" stroke="#111" stroke-width="1.6"/>
<path d="M1029 1316.6Q1029 1309.6 1035.1 1306.1L1084.1 1277.8Q1090 1274.4 1090 1281.2L1090 1346.8Q1090 1354.8 1083.1 1358.8L1034.9 1386.6Q1029 1390 1029 1383.2Z" fill="#fff" stroke="#111" stroke-width="1.9"/>
<path d="M1038 1315L1038 1373.4" class="so" stroke-width="3.7"/><path d="M1038 1315L1038 1373.4" class="si" stroke-width="1.2"/>
<path d="M1045 1310.9L1045 1369.3" class="so" stroke-width="3.7"/><path d="M1045 1310.9L1045 1369.3" class="si" stroke-width="1.2"/>
<path d="M1052 1306.9L1052 1365.3" class="so" stroke-width="3.7"/><path d="M1052 1306.9L1052 1365.3" class="si" stroke-width="1.2"/>
<path d="M1059 1302.9L1059 1361.3" class="so" stroke-width="3.7"/><path d="M1059 1302.9L1059 1361.3" class="si" stroke-width="1.2"/>
<path d="M1066.6 1298.5L1066.6 1356.9" class="so" stroke-width="3.7"/><path d="M1066.6 1298.5L1066.6 1356.9" class="si" stroke-width="1.2"/>
<path d="M1074 1294.2L1074 1352.6" class="so" stroke-width="3.7"/><path d="M1074 1294.2L1074 1352.6" class="si" stroke-width="1.2"/>
<path d="M1081 1290.2L1081 1348.6" class="so" stroke-width="3.7"/><path d="M1081 1290.2L1081 1348.6" class="si" stroke-width="1.2"/>
<path d="M946.4 1306.6Q946.4 1300.6 952.3 1301.4L1022.1 1311Q1029 1312 1029 1319L1029 1382Q1029 1388 1023.1 1387.2L953.3 1377.6Q946.4 1376.6 946.4 1369.6Z" fill="#fff" stroke="#111" stroke-width="1.9"/>
<path d="M958.4 1310.8L958.4 1370.2" class="so" stroke-width="3.7"/><path d="M958.4 1310.8L958.4 1370.2" class="si" stroke-width="1.2"/>
<path d="M968 1312.1L968 1371.5" class="so" stroke-width="3.7"/><path d="M968 1312.1L968 1371.5" class="si" stroke-width="1.2"/>
<path d="M977.4 1313.4L977.4 1372.8" class="so" stroke-width="3.7"/><path d="M977.4 1313.4L977.4 1372.8" class="si" stroke-width="1.2"/>
<path d="M987 1314.8L987 1374.2" class="so" stroke-width="3.7"/><path d="M987 1314.8L987 1374.2" class="si" stroke-width="1.2"/>
<path d="M996.6 1316.1L996.6 1375.5" class="so" stroke-width="3.7"/><path d="M996.6 1316.1L996.6 1375.5" class="si" stroke-width="1.2"/>
<path d="M1006.4 1317.4L1006.4 1376.8" class="so" stroke-width="3.7"/><path d="M1006.4 1317.4L1006.4 1376.8" class="si" stroke-width="1.2"/>
<path d="M1016 1318.8L1016 1378.2" class="so" stroke-width="3.7"/><path d="M1016 1318.8L1016 1378.2" class="si" stroke-width="1.2"/>
<path d="M982.8 1224L987.2 1224.4" fill="none" stroke="#111" stroke-width="1.6"/>
<path d="M1062.8 1236.6L1067.2 1237" fill="none" stroke="#111" stroke-width="1.6"/>
<path d="M1025.8 1318.6L1030.2 1319" fill="none" stroke="#111" stroke-width="1.6"/>
<path d="M1025.8 1376.6L1030.2 1377" fill="none" stroke="#111" stroke-width="1.6"/>
<path d="M1087 1286.8L1090 1285.2" fill="none" stroke="#111" stroke-width="1.5"/>
<path d="M1087 1344.8L1090 1343.2" fill="none" stroke="#111" stroke-width="1.5"/>
<path d="M954.5 1379.2V1380.2Q956 1381.4 957.5 1380.2V1379.2" fill="#fff" stroke="#111" stroke-width="1"/>
<path d="M1016.5 1390.2V1391.2Q1018 1392.4 1019.5 1391.2V1390.2" fill="#fff" stroke="#111" stroke-width="1"/>
<path d="M1033.5 1387.2V1388.2Q1035 1389.4 1036.5 1388.2V1387.2" fill="#fff" stroke="#111" stroke-width="1"/>
</g>
<text x="345.8" y="1703.5" class="n">Ryze-ZH08A</text>
<text x="345.3" y="1720.7" class="d">2400L*2100W*1400H</text>
<g transform="translate(-312.5,278.5)">
<path d="M924 1256.6Q924 1248.6 930.9 1244.6L977.6 1217.7Q983.6 1214.2 983.6 1221.1L983.6 1285.7Q983.6 1295.7 974.9 1300.7L930 1326.6Q924 1330 924 1323.1Z" fill="#fff" stroke="#111" stroke-width="1"/>
<path d="M924 1256.6L924 1252.6Q924 1248.6 930.9 1244.6L977.6 1217.7Q983.6 1214.2 983.6 1217.7L983.6 1221.1" fill="none" stroke="#111" stroke-width="1.9"/>
<path d="M930 1326.6L927 1328.3Q924 1330 924 1323.1L924 1256.6Q924 1248.6 927.5 1246.6L930.9 1244.6" fill="none" stroke="#111" stroke-width="1.9"/>
<path d="M934 1252.7L934 1313.1" class="so" stroke-width="3.7"/><path d="M934 1252.7L934 1313.1" class="si" stroke-width="1.2"/>
<path d="M941 1248.6L941 1309" class="so" stroke-width="3.7"/><path d="M941 1248.6L941 1309" class="si" stroke-width="1.2"/>
<path d="M948 1244.6L948 1305" class="so" stroke-width="3.7"/><path d="M948 1244.6L948 1305" class="si" stroke-width="1.2"/>
<path d="M955 1240.6L955 1301" class="so" stroke-width="3.7"/><path d="M955 1240.6L955 1301" class="si" stroke-width="1.2"/>
<path d="M962 1236.5L962 1296.9" class="so" stroke-width="3.7"/><path d="M962 1236.5L962 1296.9" class="si" stroke-width="1.2"/>
<path d="M969 1232.5L969 1292.9" class="so" stroke-width="3.7"/><path d="M969 1232.5L969 1292.9" class="si" stroke-width="1.2"/>
<path d="M976 1228.4L976 1288.8" class="so" stroke-width="3.7"/><path d="M976 1228.4L976 1288.8" class="si" stroke-width="1.2"/>
<path d="M984 1221.6Q984 1216.6 989 1217.3L1062.1 1227.2Q1068 1228 1068 1234L1068 1306L993.9 1295.9Q984 1294.6 984 1284.6Z" fill="#fff" stroke="#111" stroke-width="1"/>
<path d="M984 1221.6L984 1219.1Q984 1216.6 989 1217.3L1062.1 1227.2Q1068 1228 1068 1231L1068 1234" fill="none" stroke="#111" stroke-width="1.9"/>
<path d="M1062.1 1227.2L1065 1227.6Q1068 1228 1068 1234L1068 1306L1068 1306" fill="none" stroke="#111" stroke-width="1.9"/>
<path d="M997 1227.9L997 1287.8" class="so" stroke-width="3.7"/><path d="M997 1227.9L997 1287.8" class="si" stroke-width="1.2"/>
<path d="M1006.6 1229.2L1006.6 1289.1" class="so" stroke-width="3.7"/><path d="M1006.6 1229.2L1006.6 1289.1" class="si" stroke-width="1.2"/>
<path d="M1016.4 1230.5L1016.4 1290.4" class="so" stroke-width="3.7"/><path d="M1016.4 1230.5L1016.4 1290.4" class="si" stroke-width="1.2"/>
<path d="M1026 1231.8L1026 1291.8" class="so" stroke-width="3.7"/><path d="M1026 1231.8L1026 1291.8" class="si" stroke-width="1.2"/>
<path d="M1035.6 1233.2L1035.6 1293.1" class="so" stroke-width="3.7"/><path d="M1035.6 1233.2L1035.6 1293.1" class="si" stroke-width="1.2"/>
<path d="M1045.4 1234.5L1045.4 1294.4" class="so" stroke-width="3.7"/><path d="M1045.4 1234.5L1045.4 1294.4" class="si" stroke-width="1.2"/>
<path d="M1055 1235.8L1055 1295.7" class="so" stroke-width="3.7"/><path d="M1055 1235.8L1055 1295.7" class="si" stroke-width="1.2"/>
<path d="M1068 1233Q1068 1231 1068.8 1232.8L1087.7 1273.3Q1089 1276 1089 1279L1089 1354L1068 1309Z" fill="#fff" stroke="#111" stroke-width="2"/>
<path d="M1071.3 1245L1071.3 1309.2" class="so" stroke-width="2.4"/><path d="M1071.3 1245L1071.3 1309.2" class="si" stroke-width="0.7"/>
<path d="M1074.4 1251.6L1074.4 1315.8" class="so" stroke-width="2.4"/><path d="M1074.4 1251.6L1074.4 1315.8" class="si" stroke-width="0.7"/>
<path d="M1077.5 1258.3L1077.5 1322.5" class="so" stroke-width="2.4"/><path d="M1077.5 1258.3L1077.5 1322.5" class="si" stroke-width="0.7"/>
<path d="M1080.6 1264.9L1080.6 1329.1" class="so" stroke-width="2.4"/><path d="M1080.6 1264.9L1080.6 1329.1" class="si" stroke-width="0.7"/>
<path d="M1083.7 1271.5L1083.7 1335.7" class="so" stroke-width="2.4"/><path d="M1083.7 1271.5L1083.7 1335.7" class="si" stroke-width="0.7"/>
<path d="M1086.6 1277.8L1086.6 1342" class="so" stroke-width="2.4"/><path d="M1086.6 1277.8L1086.6 1342" class="si" stroke-width="0.7"/>
<path d="M930.7 1325L933.3 1325" fill="none" stroke="#111" stroke-width="3.2"/>
<path d="M975.7 1300.6L978.3 1300.6" fill="none" stroke="#111" stroke-width="3.2"/>
<path d="M993.7 1296.6L996.3 1296.6" fill="none" stroke="#111" stroke-width="3.2"/>
<path d="M977 1270L981 1270.6L981 1302L977 1301.4Z" fill="#fff" stroke="#111" stroke-width="1"/>
<path d="M983 1272L986 1279L984 1282" fill="none" stroke="#111" stroke-width="1.2"/>
<path d="M983 1285Q984 1295 992 1297" fill="none" stroke="#111" stroke-width="1"/>
<path d="M1052 1285L1052 1296" fill="none" stroke="#111" stroke-width="1"/>
<path d="M1056 1286L1056 1294" fill="none" stroke="#111" stroke-width="1"/>
<path d="M949 1263.7L984 1242.7L1065 1253.7L1087 1281.7L1071 1283.7Z" fill="#fff" stroke="#111" stroke-width="1"/>
<path d="M949 1262L984 1241L1065 1252L1087 1280L1071 1282Z" fill="#fff" stroke="#111" stroke-width="1.1"/>
<path d="M984 1246.2L989.5 1243L999 1244.5L994 1248Z" fill="#fff" stroke="#111" stroke-width="1.6"/>
<path d="M1029 1316.6Q1029 1309.6 1035.1 1306.1L1084.1 1277.8Q1090 1274.4 1090 1281.2L1090 1346.8Q1090 1354.8 1083.1 1358.8L1034.9 1386.6Q1029 1390 1029 1383.2Z" fill="#fff" stroke="#111" stroke-width="1.9"/>
<path d="M1038 1315L1038 1373.4" class="so" stroke-width="3.7"/><path d="M1038 1315L1038 1373.4" class="si" stroke-width="1.2"/>
<path d="M1045 1310.9L1045 1369.3" class="so" stroke-width="3.7"/><path d="M1045 1310.9L1045 1369.3" class="si" stroke-width="1.2"/>
<path d="M1052 1306.9L1052 1365.3" class="so" stroke-width="3.7"/><path d="M1052 1306.9L1052 1365.3" class="si" stroke-width="1.2"/>
<path d="M1059 1302.9L1059 1361.3" class="so" stroke-width="3.7"/><path d="M1059 1302.9L1059 1361.3" class="si" stroke-width="1.2"/>
<path d="M1066.6 1298.5L1066.6 1356.9" class="so" stroke-width="3.7"/><path d="M1066.6 1298.5L1066.6 1356.9" class="si" stroke-width="1.2"/>
<path d="M1074 1294.2L1074 1352.6" class="so" stroke-width="3.7"/><path d="M1074 1294.2L1074 1352.6" class="si" stroke-width="1.2"/>
<path d="M1081 1290.2L1081 1348.6" class="so" stroke-width="3.7"/><path d="M1081 1290.2L1081 1348.6" class="si" stroke-width="1.2"/>
<path d="M946.4 1306.6Q946.4 1300.6 952.3 1301.4L1022.1 1311Q1029 1312 1029 1319L1029 1382Q1029 1388 1023.1 1387.2L953.3 1377.6Q946.4 1376.6 946.4 1369.6Z" fill="#fff" stroke="#111" stroke-width="1.9"/>
<path d="M958.4 1310.8L958.4 1370.2" class="so" stroke-width="3.7"/><path d="M958.4 1310.8L958.4 1370.2" class="si" stroke-width="1.2"/>
<path d="M968 1312.1L968 1371.5" class="so" stroke-width="3.7"/><path d="M968 1312.1L968 1371.5" class="si" stroke-width="1.2"/>
<path d="M977.4 1313.4L977.4 1372.8" class="so" stroke-width="3.7"/><path d="M977.4 1313.4L977.4 1372.8" class="si" stroke-width="1.2"/>
<path d="M987 1314.8L987 1374.2" class="so" stroke-width="3.7"/><path d="M987 1314.8L987 1374.2" class="si" stroke-width="1.2"/>
<path d="M996.6 1316.1L996.6 1375.5" class="so" stroke-width="3.7"/><path d="M996.6 1316.1L996.6 1375.5" class="si" stroke-width="1.2"/>
<path d="M1006.4 1317.4L1006.4 1376.8" class="so" stroke-width="3.7"/><path d="M1006.4 1317.4L1006.4 1376.8" class="si" stroke-width="1.2"/>
<path d="M1016 1318.8L1016 1378.2" class="so" stroke-width="3.7"/><path d="M1016 1318.8L1016 1378.2" class="si" stroke-width="1.2"/>
<path d="M982.8 1224L987.2 1224.4" fill="none" stroke="#111" stroke-width="1.6"/>
<path d="M1062.8 1236.6L1067.2 1237" fill="none" stroke="#111" stroke-width="1.6"/>
<path d="M1025.8 1318.6L1030.2 1319" fill="none" stroke="#111" stroke-width="1.6"/>
<path d="M1025.8 1376.6L1030.2 1377" fill="none" stroke="#111" stroke-width="1.6"/>
<path d="M1087 1286.8L1090 1285.2" fill="none" stroke="#111" stroke-width="1.5"/>
<path d="M1087 1344.8L1090 1343.2" fill="none" stroke="#111" stroke-width="1.5"/>
<path d="M954.5 1379.2V1380.2Q956 1381.4 957.5 1380.2V1379.2" fill="#fff" stroke="#111" stroke-width="1"/>
<path d="M1016.5 1390.2V1391.2Q1018 1392.4 1019.5 1391.2V1390.2" fill="#fff" stroke="#111" stroke-width="1"/>
<path d="M1033.5 1387.2V1388.2Q1035 1389.4 1036.5 1388.2V1387.2" fill="#fff" stroke="#111" stroke-width="1"/>
</g>
<text x="654.8" y="1703.5" class="n">Ryze-ZH08B</text>
<text x="654.3" y="1720.7" class="d">2400L*2100W*1400H</text>
<path d="M312.4 1239.6Q312.4 1229.6 321.1 1224.6L358 1203.3Q365.6 1198.9 365.6 1207.7L365.6 1291.9Q365.6 1301.9 356.9 1306.9L320 1328.2Q312.4 1332.6 312.4 1323.8Z" fill="#fff" stroke="#111" stroke-width="1"/>
<path d="M312.4 1239.6L312.4 1234.6Q312.4 1229.6 321.1 1224.6L358 1203.3Q365.6 1198.9 365.6 1203.3L365.6 1207.7" fill="none" stroke="#111" stroke-width="2"/>
<path d="M320 1328.2L316.2 1330.4Q312.4 1332.6 312.4 1323.8L312.4 1239.6Q312.4 1229.6 316.7 1227.1L321.1 1224.6" fill="none" stroke="#111" stroke-width="2"/>
<path d="M326.4 1233.9L326.4 1310.3" class="so" stroke-width="4.2"/><path d="M326.4 1233.9L326.4 1310.3" class="si" stroke-width="1.6"/>
<path d="M335.4 1228.7L335.4 1305.1" class="so" stroke-width="4.2"/><path d="M335.4 1228.7L335.4 1305.1" class="si" stroke-width="1.6"/>
<path d="M344.4 1223.5L344.4 1299.9" class="so" stroke-width="4.2"/><path d="M344.4 1223.5L344.4 1299.9" class="si" stroke-width="1.6"/>
<path d="M353.6 1218.2L353.6 1294.6" class="so" stroke-width="4.2"/><path d="M353.6 1218.2L353.6 1294.6" class="si" stroke-width="1.6"/>
<path d="M366 1206.3Q366 1197.6 373.6 1202L411.1 1223.6Q418 1227.6 418 1235.6L418 1330.6L374.7 1305.6Q366 1300.6 366 1290.6Z" fill="#fff" stroke="#111" stroke-width="1"/>
<path d="M366 1206.3L366 1202Q366 1197.6 373.6 1202L411.1 1223.6Q418 1227.6 418 1231.6L418 1235.6" fill="none" stroke="#111" stroke-width="2"/>
<path d="M411.1 1223.6L414.5 1225.6Q418 1227.6 418 1235.6L418 1330.6L418 1330.6" fill="none" stroke="#111" stroke-width="2"/>
<path d="M377.4 1219.3L377.4 1294.7" class="so" stroke-width="4.2"/><path d="M377.4 1219.3L377.4 1294.7" class="si" stroke-width="1.6"/>
<path d="M386.6 1224.6L386.6 1300" class="so" stroke-width="4.2"/><path d="M386.6 1224.6L386.6 1300" class="si" stroke-width="1.6"/>
<path d="M396 1230L396 1305.4" class="so" stroke-width="4.2"/><path d="M396 1230L396 1305.4" class="si" stroke-width="1.6"/>
<path d="M405.4 1235.4L405.4 1310.8" class="so" stroke-width="4.2"/><path d="M405.4 1235.4L405.4 1310.8" class="si" stroke-width="1.6"/>
<path d="M418.6 1236.7Q418.6 1227.9 426.2 1232.3L463.1 1253.6Q470 1257.6 470 1265.6L470 1360.6L418.6 1330.9Z" fill="#fff" stroke="#111" stroke-width="2"/>
<path d="M430 1248L430 1324.4" class="so" stroke-width="4.2"/><path d="M430 1248L430 1324.4" class="si" stroke-width="1.6"/>
<path d="M439 1253.2L439 1329.6" class="so" stroke-width="4.2"/><path d="M439 1253.2L439 1329.6" class="si" stroke-width="1.6"/>
<path d="M448 1258.4L448 1334.8" class="so" stroke-width="4.2"/><path d="M448 1258.4L448 1334.8" class="si" stroke-width="1.6"/>
<path d="M457.4 1263.8L457.4 1340.2" class="so" stroke-width="4.2"/><path d="M457.4 1263.8L457.4 1340.2" class="si" stroke-width="1.6"/>
<path d="M322.6 1325L325.4 1325" fill="none" stroke="#111" stroke-width="3.4"/>
<path d="M373.6 1307L376.4 1307" fill="none" stroke="#111" stroke-width="3.4"/>
<path d="M406.2 1325L409 1325" fill="none" stroke="#111" stroke-width="3.4"/>
<path d="M336 1332.5L377 1310.5L381.5 1313L341 1336Z" fill="#fff" stroke="#111" stroke-width="1"/>
<path d="M336 1332.5L341 1336L341 1338.5L336 1335Z" fill="#fff" stroke="#111" stroke-width="1"/>
<path d="M341 1338.5L381.5 1315.5L381.5 1313" fill="none" stroke="#111" stroke-width="1"/>
<path d="M354 1279L358 1281L358 1327L354 1325Z" fill="#fff" stroke="#111" stroke-width="1"/>
<path d="M358 1281L361.6 1279L361.6 1325L358 1327Z" fill="#fff" stroke="#111" stroke-width="1"/>
<path d="M362 1290L372 1284" fill="none" stroke="#111" stroke-width="1"/>
<path d="M362 1294L374 1287" fill="none" stroke="#111" stroke-width="1"/>
<path d="M363 1296Q366 1303 374 1306" fill="none" stroke="#111" stroke-width="1"/>
<path d="M409 1375L416 1371L420 1373L413 1377.5Z" fill="#fff" stroke="#111" stroke-width="1"/>
<path d="M409 1375L413 1377.5L413 1380L409 1377.5Z" fill="#fff" stroke="#111" stroke-width="1"/>
<path d="M322.7 1259.8Q321 1258.8 322.7 1257.8L365.6 1233.4L448 1279.8L423 1318.8Z" fill="#fff" stroke="#111" stroke-width="1"/>
<path d="M322.7 1258Q321 1257 322.7 1256L365.6 1231.6L448 1278L423 1317Z" fill="#fff" stroke="#111" stroke-width="1.1"/>
<path d="M418 1297.6Q418 1289.6 424.9 1285.6L464.8 1262.6Q472.4 1258.2 472.4 1267L472.4 1351.2Q472.4 1361.2 463.7 1366.2L425.6 1388.2Q418 1392.6 418 1383.8Z" fill="#fff" stroke="#111" stroke-width="2"/>
<path d="M432 1293.8L432 1372.7" class="so" stroke-width="4.2"/><path d="M432 1293.8L432 1372.7" class="si" stroke-width="1.6"/>
<path d="M441 1288.6L441 1367.5" class="so" stroke-width="4.2"/><path d="M441 1288.6L441 1367.5" class="si" stroke-width="1.6"/>
<path d="M450 1283.5L450 1362.4" class="so" stroke-width="4.2"/><path d="M450 1283.5L450 1362.4" class="si" stroke-width="1.6"/>
<path d="M459.6 1277.9L459.6 1356.8" class="so" stroke-width="4.2"/><path d="M459.6 1277.9L459.6 1356.8" class="si" stroke-width="1.6"/>
<path d="M468.5 1270.5L473 1268.2L473 1269.8L468.5 1272Z" fill="#fff" stroke="#111" stroke-width="0.9"/>
<path d="M468.5 1346.5L473 1344.2L473 1345.8L468.5 1348Z" fill="#fff" stroke="#111" stroke-width="0.9"/>
<path d="M427.5 1390.2V1391.4Q429 1392.6 430.5 1391.4V1390.2" fill="#fff" stroke="#111" stroke-width="1"/>
<path d="M461.5 1367.2V1368.4Q463 1369.6 464.5 1368.4V1367.2" fill="#fff" stroke="#111" stroke-width="1"/>
<text x="345.8" y="1421.5" class="n">Ryze-ZH06A</text>
<text x="345.3" y="1438.7" class="d">1600L*800W*1400H</text>
<g transform="translate(303.6,0)">
<path d="M312.4 1239.6Q312.4 1229.6 321.1 1224.6L358 1203.3Q365.6 1198.9 365.6 1207.7L365.6 1291.9Q365.6 1301.9 356.9 1306.9L320 1328.2Q312.4 1332.6 312.4 1323.8Z" fill="#fff" stroke="#111" stroke-width="1"/>
<path d="M312.4 1239.6L312.4 1234.6Q312.4 1229.6 321.1 1224.6L358 1203.3Q365.6 1198.9 365.6 1203.3L365.6 1207.7" fill="none" stroke="#111" stroke-width="2"/>
<path d="M320 1328.2L316.2 1330.4Q312.4 1332.6 312.4 1323.8L312.4 1239.6Q312.4 1229.6 316.7 1227.1L321.1 1224.6" fill="none" stroke="#111" stroke-width="2"/>
<path d="M326.4 1233.9L326.4 1310.3" class="so" stroke-width="4.2"/><path d="M326.4 1233.9L326.4 1310.3" class="si" stroke-width="1.6"/>
<path d="M335.4 1228.7L335.4 1305.1" class="so" stroke-width="4.2"/><path d="M335.4 1228.7L335.4 1305.1" class="si" stroke-width="1.6"/>
<path d="M344.4 1223.5L344.4 1299.9" class="so" stroke-width="4.2"/><path d="M344.4 1223.5L344.4 1299.9" class="si" stroke-width="1.6"/>
<path d="M353.6 1218.2L353.6 1294.6" class="so" stroke-width="4.2"/><path d="M353.6 1218.2L353.6 1294.6" class="si" stroke-width="1.6"/>
<path d="M366 1206.3Q366 1197.6 373.6 1202L411.1 1223.6Q418 1227.6 418 1235.6L418 1330.6L374.7 1305.6Q366 1300.6 366 1290.6Z" fill="#fff" stroke="#111" stroke-width="1"/>
<path d="M366 1206.3L366 1202Q366 1197.6 373.6 1202L411.1 1223.6Q418 1227.6 418 1231.6L418 1235.6" fill="none" stroke="#111" stroke-width="2"/>
<path d="M411.1 1223.6L414.5 1225.6Q418 1227.6 418 1235.6L418 1330.6L418 1330.6" fill="none" stroke="#111" stroke-width="2"/>
<path d="M377.4 1219.3L377.4 1294.7" class="so" stroke-width="4.2"/><path d="M377.4 1219.3L377.4 1294.7" class="si" stroke-width="1.6"/>
<path d="M386.6 1224.6L386.6 1300" class="so" stroke-width="4.2"/><path d="M386.6 1224.6L386.6 1300" class="si" stroke-width="1.6"/>
<path d="M396 1230L396 1305.4" class="so" stroke-width="4.2"/><path d="M396 1230L396 1305.4" class="si" stroke-width="1.6"/>
<path d="M405.4 1235.4L405.4 1310.8" class="so" stroke-width="4.2"/><path d="M405.4 1235.4L405.4 1310.8" class="si" stroke-width="1.6"/>
<path d="M418.6 1236.7Q418.6 1227.9 426.2 1232.3L463.1 1253.6Q470 1257.6 470 1265.6L470 1360.6L418.6 1330.9Z" fill="#fff" stroke="#111" stroke-width="2"/>
<path d="M430 1248L430 1324.4" class="so" stroke-width="4.2"/><path d="M430 1248L430 1324.4" class="si" stroke-width="1.6"/>
<path d="M439 1253.2L439 1329.6" class="so" stroke-width="4.2"/><path d="M439 1253.2L439 1329.6" class="si" stroke-width="1.6"/>
<path d="M448 1258.4L448 1334.8" class="so" stroke-width="4.2"/><path d="M448 1258.4L448 1334.8" class="si" stroke-width="1.6"/>
<path d="M457.4 1263.8L457.4 1340.2" class="so" stroke-width="4.2"/><path d="M457.4 1263.8L457.4 1340.2" class="si" stroke-width="1.6"/>
<path d="M322.6 1325L325.4 1325" fill="none" stroke="#111" stroke-width="3.4"/>
<path d="M373.6 1307L376.4 1307" fill="none" stroke="#111" stroke-width="3.4"/>
<path d="M406.2 1325L409 1325" fill="none" stroke="#111" stroke-width="3.4"/>
<path d="M336 1332.5L377 1310.5L381.5 1313L341 1336Z" fill="#fff" stroke="#111" stroke-width="1"/>
<path d="M336 1332.5L341 1336L341 1338.5L336 1335Z" fill="#fff" stroke="#111" stroke-width="1"/>
<path d="M341 1338.5L381.5 1315.5L381.5 1313" fill="none" stroke="#111" stroke-width="1"/>
<path d="M354 1279L358 1281L358 1327L354 1325Z" fill="#fff" stroke="#111" stroke-width="1"/>
<path d="M358 1281L361.6 1279L361.6 1325L358 1327Z" fill="#fff" stroke="#111" stroke-width="1"/>
<path d="M362 1290L372 1284" fill="none" stroke="#111" stroke-width="1"/>
<path d="M362 1294L374 1287" fill="none" stroke="#111" stroke-width="1"/>
<path d="M363 1296Q366 1303 374 1306" fill="none" stroke="#111" stroke-width="1"/>
<path d="M409 1375L416 1371L420 1373L413 1377.5Z" fill="#fff" stroke="#111" stroke-width="1"/>
<path d="M409 1375L413 1377.5L413 1380L409 1377.5Z" fill="#fff" stroke="#111" stroke-width="1"/>
<path d="M322.7 1259.8Q321 1258.8 322.7 1257.8L365.6 1233.4L448 1279.8L423 1318.8Z" fill="#fff" stroke="#111" stroke-width="1"/>
<path d="M322.7 1258Q321 1257 322.7 1256L365.6 1231.6L448 1278L423 1317Z" fill="#fff" stroke="#111" stroke-width="1.1"/>
<path d="M418 1297.6Q418 1289.6 424.9 1285.6L464.8 1262.6Q472.4 1258.2 472.4 1267L472.4 1351.2Q472.4 1361.2 463.7 1366.2L425.6 1388.2Q418 1392.6 418 1383.8Z" fill="#fff" stroke="#111" stroke-width="2"/>
<path d="M432 1293.8L432 1372.7" class="so" stroke-width="4.2"/><path d="M432 1293.8L432 1372.7" class="si" stroke-width="1.6"/>
<path d="M441 1288.6L441 1367.5" class="so" stroke-width="4.2"/><path d="M441 1288.6L441 1367.5" class="si" stroke-width="1.6"/>
<path d="M450 1283.5L450 1362.4" class="so" stroke-width="4.2"/><path d="M450 1283.5L450 1362.4" class="si" stroke-width="1.6"/>
<path d="M459.6 1277.9L459.6 1356.8" class="so" stroke-width="4.2"/><path d="M459.6 1277.9L459.6 1356.8" class="si" stroke-width="1.6"/>
<path d="M468.5 1270.5L473 1268.2L473 1269.8L468.5 1272Z" fill="#fff" stroke="#111" stroke-width="0.9"/>
<path d="M468.5 1346.5L473 1344.2L473 1345.8L468.5 1348Z" fill="#fff" stroke="#111" stroke-width="0.9"/>
<path d="M427.5 1390.2V1391.4Q429 1392.6 430.5 1391.4V1390.2" fill="#fff" stroke="#111" stroke-width="1"/>
<path d="M461.5 1367.2V1368.4Q463 1369.6 464.5 1368.4V1367.2" fill="#fff" stroke="#111" stroke-width="1"/>
</g>
<text x="654.8" y="1421.5" class="n">Ryze-ZH06B</text>
<text x="654.3" y="1438.7" class="d">1600L*800W*1400H</text>
<path d="M943 912.6Q943 902.6 951.7 897.6L991.7 874.5Q1000 869.7 1000 879.3L1000 970.9Q1000 982.9 989.6 988.9L951.3 1011Q943 1015.8 943 1006.2Z" fill="#fff" stroke="#111" stroke-width="1"/>
<path d="M943 912.6L943 907.6Q943 902.6 951.7 897.6L991.7 874.5Q1000 869.7 1000 874.5L1000 879.3" fill="none" stroke="#111" stroke-width="2"/>
<path d="M951.3 1011L947.2 1013.4Q943 1015.8 943 1006.2L943 912.6Q943 902.6 947.3 900.1L951.7 897.6" fill="none" stroke="#111" stroke-width="2"/>
<path d="M957.6 908L957.6 993.3" class="so" stroke-width="4.3"/><path d="M957.6 908L957.6 993.3" class="si" stroke-width="1.6"/>
<path d="M967 902.6L967 987.9" class="so" stroke-width="4.3"/><path d="M967 902.6L967 987.9" class="si" stroke-width="1.6"/>
<path d="M977 896.8L977 982.1" class="so" stroke-width="4.3"/><path d="M977 896.8L977 982.1" class="si" stroke-width="1.6"/>
<path d="M987 891L987 976.3" class="so" stroke-width="4.3"/><path d="M987 891L987 976.3" class="si" stroke-width="1.6"/>
<path d="M1000.6 879.9Q1000.6 870.3 1008.9 875.1L1079.1 915.6Q1086 919.6 1086 927.6L1086 1032.8L1011 989.5Q1000.6 983.5 1000.6 971.5Z" fill="#fff" stroke="#111" stroke-width="1"/>
<path d="M1000.6 879.9L1000.6 875.1Q1000.6 870.3 1008.9 875.1L1079.1 915.6Q1086 919.6 1086 923.6L1086 927.6" fill="none" stroke="#111" stroke-width="2"/>
<path d="M1079.1 915.6L1082.5 917.6Q1086 919.6 1086 927.6L1086 1032.8L1086 1032.8" fill="none" stroke="#111" stroke-width="2"/>
<path d="M1011.4 891.8L1011.4 977.1" class="so" stroke-width="4.3"/><path d="M1011.4 891.8L1011.4 977.1" class="si" stroke-width="1.6"/>
<path d="M1021.4 897.6L1021.4 982.9" class="so" stroke-width="4.3"/><path d="M1021.4 897.6L1021.4 982.9" class="si" stroke-width="1.6"/>
<path d="M1031.4 903.3L1031.4 988.6" class="so" stroke-width="4.3"/><path d="M1031.4 903.3L1031.4 988.6" class="si" stroke-width="1.6"/>
<path d="M1041.4 909.1L1041.4 994.4" class="so" stroke-width="4.3"/><path d="M1041.4 909.1L1041.4 994.4" class="si" stroke-width="1.6"/>
<path d="M1051.4 914.9L1051.4 1000.2" class="so" stroke-width="4.3"/><path d="M1051.4 914.9L1051.4 1000.2" class="si" stroke-width="1.6"/>
<path d="M1061.4 920.6L1061.4 1005.9" class="so" stroke-width="4.3"/><path d="M1061.4 920.6L1061.4 1005.9" class="si" stroke-width="1.6"/>
<path d="M1071.4 926.4L1071.4 1011.7" class="so" stroke-width="4.3"/><path d="M1071.4 926.4L1071.4 1011.7" class="si" stroke-width="1.6"/>
<path d="M952.6 1009L955.4 1009" fill="none" stroke="#111" stroke-width="3.4"/>
<path d="M989 988L991.8 988" fill="none" stroke="#111" stroke-width="3.4"/>
<path d="M1008 990.6L1010.8 990.6" fill="none" stroke="#111" stroke-width="3.4"/>
<path d="M953.7 955.8Q952 954.8 953.7 953.8L1000 926.8L1042 949.8L1034 1002.8Z" fill="#fff" stroke="#111" stroke-width="1"/>
<path d="M953.7 954Q952 953 953.7 952L1000 925L1042 948L1034 1001Z" fill="#fff" stroke="#111" stroke-width="1.1"/>
<path d="M1029.4 961.6Q1029.4 953.6 1036.3 949.6L1077.8 925.7Q1086.4 920.7 1086.4 930.7L1086.4 1028Q1086.4 1038 1077.7 1043L1038 1065.9Q1029.4 1070.9 1029.4 1061Z" fill="#fff" stroke="#111" stroke-width="2"/>
<path d="M1043 958.6L1043 1046.9" class="so" stroke-width="4.3"/><path d="M1043 958.6L1043 1046.9" class="si" stroke-width="1.6"/>
<path d="M1053 952.8L1053 1041.1" class="so" stroke-width="4.3"/><path d="M1053 952.8L1053 1041.1" class="si" stroke-width="1.6"/>
<path d="M1063 947.1L1063 1035.4" class="so" stroke-width="4.3"/><path d="M1063 947.1L1063 1035.4" class="si" stroke-width="1.6"/>
<path d="M1073 941.3L1073 1029.6" class="so" stroke-width="4.3"/><path d="M1073 941.3L1073 1029.6" class="si" stroke-width="1.6"/>
<path d="M1082.5 932.5L1087 930.2L1087 931.8L1082.5 934Z" fill="#fff" stroke="#111" stroke-width="0.9"/>
<path d="M1082.5 1015.5L1087 1013.2L1087 1014.8L1082.5 1017Z" fill="#fff" stroke="#111" stroke-width="0.9"/>
<path d="M1039.5 1068.2V1069.4Q1041 1070.6 1042.5 1069.4V1068.2" fill="#fff" stroke="#111" stroke-width="1"/>
<path d="M1076.5 1043.2V1044.4Q1078 1045.6 1079.5 1044.4V1043.2" fill="#fff" stroke="#111" stroke-width="1"/>
<text x="975.8" y="1098.5" class="n">Ryze-ZH05A</text>
<text x="975.3" y="1115.7" class="d">1200L*800W*1400H</text>
<g transform="translate(-918,325)">
<path d="M943 912.6Q943 902.6 951.7 897.6L991.7 874.5Q1000 869.7 1000 879.3L1000 970.9Q1000 982.9 989.6 988.9L951.3 1011Q943 1015.8 943 1006.2Z" fill="#fff" stroke="#111" stroke-width="1"/>
<path d="M943 912.6L943 907.6Q943 902.6 951.7 897.6L991.7 874.5Q1000 869.7 1000 874.5L1000 879.3" fill="none" stroke="#111" stroke-width="2"/>
<path d="M951.3 1011L947.2 1013.4Q943 1015.8 943 1006.2L943 912.6Q943 902.6 947.3 900.1L951.7 897.6" fill="none" stroke="#111" stroke-width="2"/>
<path d="M957.6 908L957.6 993.3" class="so" stroke-width="4.3"/><path d="M957.6 908L957.6 993.3" class="si" stroke-width="1.6"/>
<path d="M967 902.6L967 987.9" class="so" stroke-width="4.3"/><path d="M967 902.6L967 987.9" class="si" stroke-width="1.6"/>
<path d="M977 896.8L977 982.1" class="so" stroke-width="4.3"/><path d="M977 896.8L977 982.1" class="si" stroke-width="1.6"/>
<path d="M987 891L987 976.3" class="so" stroke-width="4.3"/><path d="M987 891L987 976.3" class="si" stroke-width="1.6"/>
<path d="M1000.6 879.9Q1000.6 870.3 1008.9 875.1L1079.1 915.6Q1086 919.6 1086 927.6L1086 1032.8L1011 989.5Q1000.6 983.5 1000.6 971.5Z" fill="#fff" stroke="#111" stroke-width="1"/>
<path d="M1000.6 879.9L1000.6 875.1Q1000.6 870.3 1008.9 875.1L1079.1 915.6Q1086 919.6 1086 923.6L1086 927.6" fill="none" stroke="#111" stroke-width="2"/>
<path d="M1079.1 915.6L1082.5 917.6Q1086 919.6 1086 927.6L1086 1032.8L1086 1032.8" fill="none" stroke="#111" stroke-width="2"/>
<path d="M1011.4 891.8L1011.4 977.1" class="so" stroke-width="4.3"/><path d="M1011.4 891.8L1011.4 977.1" class="si" stroke-width="1.6"/>
<path d="M1021.4 897.6L1021.4 982.9" class="so" stroke-width="4.3"/><path d="M1021.4 897.6L1021.4 982.9" class="si" stroke-width="1.6"/>
<path d="M1031.4 903.3L1031.4 988.6" class="so" stroke-width="4.3"/><path d="M1031.4 903.3L1031.4 988.6" class="si" stroke-width="1.6"/>
<path d="M1041.4 909.1L1041.4 994.4" class="so" stroke-width="4.3"/><path d="M1041.4 909.1L1041.4 994.4" class="si" stroke-width="1.6"/>
<path d="M1051.4 914.9L1051.4 1000.2" class="so" stroke-width="4.3"/><path d="M1051.4 914.9L1051.4 1000.2" class="si" stroke-width="1.6"/>
<path d="M1061.4 920.6L1061.4 1005.9" class="so" stroke-width="4.3"/><path d="M1061.4 920.6L1061.4 1005.9" class="si" stroke-width="1.6"/>
<path d="M1071.4 926.4L1071.4 1011.7" class="so" stroke-width="4.3"/><path d="M1071.4 926.4L1071.4 1011.7" class="si" stroke-width="1.6"/>
<path d="M952.6 1009L955.4 1009" fill="none" stroke="#111" stroke-width="3.4"/>
<path d="M989 988L991.8 988" fill="none" stroke="#111" stroke-width="3.4"/>
<path d="M1008 990.6L1010.8 990.6" fill="none" stroke="#111" stroke-width="3.4"/>
<path d="M953.7 924.8Q952 923.8 953.7 922.8L999 896.8L1080 941.8L1033 970.8Z" fill="#fff" stroke="#111" stroke-width="1"/>
<path d="M953.7 923Q952 922 953.7 921L999 895L1080 940L1033 969Z" fill="#fff" stroke="#111" stroke-width="1.1"/>
<path d="M1029.4 961.6Q1029.4 953.6 1036.3 949.6L1077.8 925.7Q1086.4 920.7 1086.4 930.7L1086.4 1028Q1086.4 1038 1077.7 1043L1038 1065.9Q1029.4 1070.9 1029.4 1061Z" fill="#fff" stroke="#111" stroke-width="2"/>
<path d="M1043 958.6L1043 1046.9" class="so" stroke-width="4.3"/><path d="M1043 958.6L1043 1046.9" class="si" stroke-width="1.6"/>
<path d="M1053 952.8L1053 1041.1" class="so" stroke-width="4.3"/><path d="M1053 952.8L1053 1041.1" class="si" stroke-width="1.6"/>
<path d="M1063 947.1L1063 1035.4" class="so" stroke-width="4.3"/><path d="M1063 947.1L1063 1035.4" class="si" stroke-width="1.6"/>
<path d="M1073 941.3L1073 1029.6" class="so" stroke-width="4.3"/><path d="M1073 941.3L1073 1029.6" class="si" stroke-width="1.6"/>
<path d="M1082.5 932.5L1087 930.2L1087 931.8L1082.5 934Z" fill="#fff" stroke="#111" stroke-width="0.9"/>
<path d="M1082.5 1015.5L1087 1013.2L1087 1014.8L1082.5 1017Z" fill="#fff" stroke="#111" stroke-width="0.9"/>
<path d="M1039.5 1068.2V1069.4Q1041 1070.6 1042.5 1069.4V1068.2" fill="#fff" stroke="#111" stroke-width="1"/>
<path d="M1076.5 1043.2V1044.4Q1078 1045.6 1079.5 1044.4V1043.2" fill="#fff" stroke="#111" stroke-width="1"/>
</g>
<text x="36.8" y="1421.5" class="n">Ryze-ZH05B</text>
<text x="36.3" y="1438.7" class="d">1200L*800W*1400H</text>
<path d="M361.6 888.6Q361.6 882.6 366.8 879.6L377.7 873.3Q384.4 869.4 384.4 877.2L384.4 947.1Q384.4 960.1 373.1 966.6L368.3 969.4Q361.6 973.3 361.6 965.6Z" fill="#fff" stroke="#111" stroke-width="2"/>
<path d="M369.6 888.1L369.6 956.5" class="so" stroke-width="4.2"/><path d="M369.6 888.1L369.6 956.5" class="si" stroke-width="1.5"/>
<path d="M378 883.2L378 951.6" class="so" stroke-width="4.2"/><path d="M378 883.2L378 951.6" class="si" stroke-width="1.5"/>
<path d="M384.8 878.9Q384.8 871.2 391.5 875L425.4 894.6Q430.6 897.6 430.6 903.6L430.6 988.3L396.1 968.3Q384.8 961.8 384.8 948.8Z" fill="#fff" stroke="#111" stroke-width="2"/>
<path d="M394.4 887.5L394.4 955.9" class="so" stroke-width="4.2"/><path d="M394.4 887.5L394.4 955.9" class="si" stroke-width="1.5"/>
<path d="M403 892.5L403 960.9" class="so" stroke-width="4.2"/><path d="M403 892.5L403 960.9" class="si" stroke-width="1.5"/>
<path d="M411 897.1L411 965.5" class="so" stroke-width="4.2"/><path d="M411 897.1L411 965.5" class="si" stroke-width="1.5"/>
<path d="M419.4 901.9L419.4 970.3" class="so" stroke-width="4.2"/><path d="M419.4 901.9L419.4 970.3" class="si" stroke-width="1.5"/>
<path d="M431.2 905.2Q431.2 897.5 437.9 901.4L470.3 920.1Q476.4 923.6 476.4 930.6L476.4 1014.3L431.2 988.2Z" fill="#fff" stroke="#111" stroke-width="2"/>
<path d="M440 913.2L440 981.6" class="so" stroke-width="4.2"/><path d="M440 913.2L440 981.6" class="si" stroke-width="1.5"/>
<path d="M448.4 918L448.4 986.4" class="so" stroke-width="4.2"/><path d="M448.4 918L448.4 986.4" class="si" stroke-width="1.5"/>
<path d="M456.4 922.6L456.4 991" class="so" stroke-width="4.2"/><path d="M456.4 922.6L456.4 991" class="si" stroke-width="1.5"/>
<path d="M465 927.6L465 996" class="so" stroke-width="4.2"/><path d="M465 927.6L465 996" class="si" stroke-width="1.5"/>
<path d="M369.7 968L372.3 968" fill="none" stroke="#111" stroke-width="3"/>
<path d="M391.7 965.6L394.3 965.6" fill="none" stroke="#111" stroke-width="3"/>
<path d="M364 925.3L385 915.3L442 947.7L400 968.7Z" fill="#fff" stroke="#111" stroke-width="1"/>
<path d="M364 923.6L385 913.6L442 946L400 967Z" fill="#fff" stroke="#111" stroke-width="1.1"/>
<path d="M368 1014L386 1024L386 1052L368 1042Z" fill="#fff" stroke="#111" stroke-width="1.1"/>
<path d="M368 1014.6L385 1004.6L402 1014L386 1024Z" fill="#fff" stroke="#111" stroke-width="1"/>
<path d="M368 1012.6L385 1002.6L402 1012L386 1022Z" fill="#fff" stroke="#111" stroke-width="1.1"/>
<path d="M370.5 1046.7V1047.9Q372 1049.1 373.5 1047.9V1046.7" fill="#fff" stroke="#111" stroke-width="1"/>
<path d="M431.6 954.6Q431.6 948.6 436.8 945.6L469.9 926.5Q476.6 922.6 476.6 930.3L476.6 1005.3Q476.6 1013.3 469.7 1017.3L438.3 1035.4Q431.6 1039.3 431.6 1031.6Z" fill="#fff" stroke="#111" stroke-width="2.1"/>
<path d="M440 953.4L440 1021.8" class="so" stroke-width="4.2"/><path d="M440 953.4L440 1021.8" class="si" stroke-width="1.5"/>
<path d="M448.6 948.5L448.6 1016.9" class="so" stroke-width="4.2"/><path d="M448.6 948.5L448.6 1016.9" class="si" stroke-width="1.5"/>
<path d="M457 943.6L457 1012" class="so" stroke-width="4.2"/><path d="M457 943.6L457 1012" class="si" stroke-width="1.5"/>
<path d="M465.6 938.7L465.6 1007.1" class="so" stroke-width="4.2"/><path d="M465.6 938.7L465.6 1007.1" class="si" stroke-width="1.5"/>
<path d="M385.6 983.6Q385.6 976.6 391.7 973.1L423.7 954.6Q431 950.4 431 958.8L431 1042.3Q431 1049.3 424.9 1052.8L392.9 1071.3Q385.6 1075.5 385.6 1067.1Z" fill="#fff" stroke="#111" stroke-width="2.1"/>
<path d="M396.4 980.6L396.4 1055" class="so" stroke-width="4.2"/><path d="M396.4 980.6L396.4 1055" class="si" stroke-width="1.5"/>
<path d="M404.4 976L404.4 1050.4" class="so" stroke-width="4.2"/><path d="M404.4 976L404.4 1050.4" class="si" stroke-width="1.5"/>
<path d="M412.4 971.4L412.4 1045.8" class="so" stroke-width="4.2"/><path d="M412.4 971.4L412.4 1045.8" class="si" stroke-width="1.5"/>
<path d="M420.6 966.7L420.6 1041.1" class="so" stroke-width="4.2"/><path d="M420.6 966.7L420.6 1041.1" class="si" stroke-width="1.5"/>
<path d="M427.5 959.5L433 956.5L433 958L427.5 961Z" fill="#fff" stroke="#111" stroke-width="0.9"/>
<path d="M427.5 1025.5L433 1022.5L433 1024L427.5 1027Z" fill="#fff" stroke="#111" stroke-width="0.9"/>
<path d="M472.5 933.5L477 931.2L477 932.8L472.5 935Z" fill="#fff" stroke="#111" stroke-width="0.9"/>
<path d="M472.5 998.5L477 996.2L477 997.8L472.5 1000Z" fill="#fff" stroke="#111" stroke-width="0.9"/>
<path d="M392.5 1073.2V1074.4Q394 1075.6 395.5 1074.4V1073.2" fill="#fff" stroke="#111" stroke-width="1"/>
<path d="M422.5 1053.2V1054.4Q424 1055.6 425.5 1054.4V1053.2" fill="#fff" stroke="#111" stroke-width="1"/>
<path d="M467.5 1020.2V1021.4Q469 1022.6 470.5 1021.4V1020.2" fill="#fff" stroke="#111" stroke-width="1"/>
<text x="357.8" y="1098.5" class="n">Ryze-ZH04A</text>
<text x="357.3" y="1115.7" class="d">1600L*1600W*1400H</text>
<g transform="translate(323,0)">
<path d="M361.6 888.6Q361.6 882.6 366.8 879.6L377.7 873.3Q384.4 869.4 384.4 877.2L384.4 947.1Q384.4 960.1 373.1 966.6L368.3 969.4Q361.6 973.3 361.6 965.6Z" fill="#fff" stroke="#111" stroke-width="2"/>
<path d="M369.6 888.1L369.6 956.5" class="so" stroke-width="4.2"/><path d="M369.6 888.1L369.6 956.5" class="si" stroke-width="1.5"/>
<path d="M378 883.2L378 951.6" class="so" stroke-width="4.2"/><path d="M378 883.2L378 951.6" class="si" stroke-width="1.5"/>
<path d="M384.8 878.9Q384.8 871.2 391.5 875L425.4 894.6Q430.6 897.6 430.6 903.6L430.6 988.3L396.1 968.3Q384.8 961.8 384.8 948.8Z" fill="#fff" stroke="#111" stroke-width="2"/>
<path d="M394.4 887.5L394.4 955.9" class="so" stroke-width="4.2"/><path d="M394.4 887.5L394.4 955.9" class="si" stroke-width="1.5"/>
<path d="M403 892.5L403 960.9" class="so" stroke-width="4.2"/><path d="M403 892.5L403 960.9" class="si" stroke-width="1.5"/>
<path d="M411 897.1L411 965.5" class="so" stroke-width="4.2"/><path d="M411 897.1L411 965.5" class="si" stroke-width="1.5"/>
<path d="M419.4 901.9L419.4 970.3" class="so" stroke-width="4.2"/><path d="M419.4 901.9L419.4 970.3" class="si" stroke-width="1.5"/>
<path d="M431.2 905.2Q431.2 897.5 437.9 901.4L470.3 920.1Q476.4 923.6 476.4 930.6L476.4 1014.3L431.2 988.2Z" fill="#fff" stroke="#111" stroke-width="2"/>
<path d="M440 913.2L440 981.6" class="so" stroke-width="4.2"/><path d="M440 913.2L440 981.6" class="si" stroke-width="1.5"/>
<path d="M448.4 918L448.4 986.4" class="so" stroke-width="4.2"/><path d="M448.4 918L448.4 986.4" class="si" stroke-width="1.5"/>
<path d="M456.4 922.6L456.4 991" class="so" stroke-width="4.2"/><path d="M456.4 922.6L456.4 991" class="si" stroke-width="1.5"/>
<path d="M465 927.6L465 996" class="so" stroke-width="4.2"/><path d="M465 927.6L465 996" class="si" stroke-width="1.5"/>
<path d="M369.7 968L372.3 968" fill="none" stroke="#111" stroke-width="3"/>
<path d="M391.7 965.6L394.3 965.6" fill="none" stroke="#111" stroke-width="3"/>
<path d="M364.6 902.7L384 892.7L463 937.7L421 960.7Z" fill="#fff" stroke="#111" stroke-width="1"/>
<path d="M364.6 901L384 891L463 936L421 959Z" fill="#fff" stroke="#111" stroke-width="1.1"/>
<path d="M368 1014L386 1024L386 1052L368 1042Z" fill="#fff" stroke="#111" stroke-width="1.1"/>
<path d="M368 1014.6L385 1004.6L402 1014L386 1024Z" fill="#fff" stroke="#111" stroke-width="1"/>
<path d="M368 1012.6L385 1002.6L402 1012L386 1022Z" fill="#fff" stroke="#111" stroke-width="1.1"/>
<path d="M370.5 1046.7V1047.9Q372 1049.1 373.5 1047.9V1046.7" fill="#fff" stroke="#111" stroke-width="1"/>
<path d="M431.6 954.6Q431.6 948.6 436.8 945.6L469.9 926.5Q476.6 922.6 476.6 930.3L476.6 1005.3Q476.6 1013.3 469.7 1017.3L438.3 1035.4Q431.6 1039.3 431.6 1031.6Z" fill="#fff" stroke="#111" stroke-width="2.1"/>
<path d="M440 953.4L440 1021.8" class="so" stroke-width="4.2"/><path d="M440 953.4L440 1021.8" class="si" stroke-width="1.5"/>
<path d="M448.6 948.5L448.6 1016.9" class="so" stroke-width="4.2"/><path d="M448.6 948.5L448.6 1016.9" class="si" stroke-width="1.5"/>
<path d="M457 943.6L457 1012" class="so" stroke-width="4.2"/><path d="M457 943.6L457 1012" class="si" stroke-width="1.5"/>
<path d="M465.6 938.7L465.6 1007.1" class="so" stroke-width="4.2"/><path d="M465.6 938.7L465.6 1007.1" class="si" stroke-width="1.5"/>
<path d="M385.6 983.6Q385.6 976.6 391.7 973.1L423.7 954.6Q431 950.4 431 958.8L431 1042.3Q431 1049.3 424.9 1052.8L392.9 1071.3Q385.6 1075.5 385.6 1067.1Z" fill="#fff" stroke="#111" stroke-width="2.1"/>
<path d="M396.4 980.6L396.4 1055" class="so" stroke-width="4.2"/><path d="M396.4 980.6L396.4 1055" class="si" stroke-width="1.5"/>
<path d="M404.4 976L404.4 1050.4" class="so" stroke-width="4.2"/><path d="M404.4 976L404.4 1050.4" class="si" stroke-width="1.5"/>
<path d="M412.4 971.4L412.4 1045.8" class="so" stroke-width="4.2"/><path d="M412.4 971.4L412.4 1045.8" class="si" stroke-width="1.5"/>
<path d="M420.6 966.7L420.6 1041.1" class="so" stroke-width="4.2"/><path d="M420.6 966.7L420.6 1041.1" class="si" stroke-width="1.5"/>
<path d="M427.5 959.5L433 956.5L433 958L427.5 961Z" fill="#fff" stroke="#111" stroke-width="0.9"/>
<path d="M427.5 1025.5L433 1022.5L433 1024L427.5 1027Z" fill="#fff" stroke="#111" stroke-width="0.9"/>
<path d="M472.5 933.5L477 931.2L477 932.8L472.5 935Z" fill="#fff" stroke="#111" stroke-width="0.9"/>
<path d="M472.5 998.5L477 996.2L477 997.8L472.5 1000Z" fill="#fff" stroke="#111" stroke-width="0.9"/>
<path d="M392.5 1073.2V1074.4Q394 1075.6 395.5 1074.4V1073.2" fill="#fff" stroke="#111" stroke-width="1"/>
<path d="M422.5 1053.2V1054.4Q424 1055.6 425.5 1054.4V1053.2" fill="#fff" stroke="#111" stroke-width="1"/>
<path d="M467.5 1020.2V1021.4Q469 1022.6 470.5 1021.4V1020.2" fill="#fff" stroke="#111" stroke-width="1"/>
</g>
<text x="666.8" y="1098.5" class="n">Ryze-ZH04B</text>
<text x="666.3" y="1115.7" class="d">1600L*1600W*1400H</text>
<g transform="translate(904,-294)">
<path d="M52.4 888.6Q52.4 882.6 57.6 879.6L69.4 872.8Q76.6 868.6 76.6 877L76.6 953.5Q76.6 966.5 65.3 973L59.6 976.3Q52.4 980.5 52.4 972.1Z" fill="#fff" stroke="#111" stroke-width="2"/>
<path d="M61 888L61 963.4" class="so" stroke-width="4.2"/><path d="M61 888L61 963.4" class="si" stroke-width="1.5"/>
<path d="M69.4 883.2L69.4 958.6" class="so" stroke-width="4.2"/><path d="M69.4 883.2L69.4 958.6" class="si" stroke-width="1.5"/>
<path d="M77 879.2Q77 870.9 84.2 875.1L119.8 895.6Q125 898.6 125 904.6L125 996.5L88.3 975.3Q77 968.8 77 955.8Z" fill="#fff" stroke="#111" stroke-width="2"/>
<path d="M87.4 887.9L87.4 963.3" class="so" stroke-width="4.2"/><path d="M87.4 887.9L87.4 963.3" class="si" stroke-width="1.5"/>
<path d="M96 892.9L96 968.3" class="so" stroke-width="4.2"/><path d="M96 892.9L96 968.3" class="si" stroke-width="1.5"/>
<path d="M104.6 897.8L104.6 973.2" class="so" stroke-width="4.2"/><path d="M104.6 897.8L104.6 973.2" class="si" stroke-width="1.5"/>
<path d="M113.4 902.9L113.4 978.3" class="so" stroke-width="4.2"/><path d="M113.4 902.9L113.4 978.3" class="si" stroke-width="1.5"/>
<path d="M125.6 908.4Q125.6 900.1 132.8 904.3L168.9 925.1Q175 928.6 175 935.6L175 1026.5L125.6 997.9Z" fill="#fff" stroke="#111" stroke-width="2"/>
<path d="M136 916.5L136 991.9" class="so" stroke-width="4.2"/><path d="M136 916.5L136 991.9" class="si" stroke-width="1.5"/>
<path d="M144.4 921.3L144.4 996.7" class="so" stroke-width="4.2"/><path d="M144.4 921.3L144.4 996.7" class="si" stroke-width="1.5"/>
<path d="M153 926.3L153 1001.7" class="so" stroke-width="4.2"/><path d="M153 926.3L153 1001.7" class="si" stroke-width="1.5"/>
<path d="M161.6 931.3L161.6 1006.7" class="so" stroke-width="4.2"/><path d="M161.6 931.3L161.6 1006.7" class="si" stroke-width="1.5"/>
<path d="M61.7 975L64.3 975" fill="none" stroke="#111" stroke-width="3"/>
<path d="M84.3 971.5L86.9 971.5" fill="none" stroke="#111" stroke-width="3"/>
<path d="M55.4 929.7L77 917.3L150 957.7L104 978.7Z" fill="#fff" stroke="#111" stroke-width="1"/>
<path d="M55.4 928L77 915.6L150 956L104 977Z" fill="#fff" stroke="#111" stroke-width="1.1"/>
<path d="M102 974.6Q102 967.6 108.1 964.1L168.4 929.3Q175.6 925.1 175.6 933.5L175.6 1015Q175.6 1023 168.7 1027L109.2 1061.3Q102 1065.5 102 1057.1Z" fill="#fff" stroke="#111" stroke-width="2.2"/>
<path d="M113.6 972.9L113.6 1044.1" class="so" stroke-width="4.4"/><path d="M113.6 972.9L113.6 1044.1" class="si" stroke-width="1.6"/>
<path d="M122 968.1L122 1039.3" class="so" stroke-width="4.4"/><path d="M122 968.1L122 1039.3" class="si" stroke-width="1.6"/>
<path d="M130.6 963.1L130.6 1034.3" class="so" stroke-width="4.4"/><path d="M130.6 963.1L130.6 1034.3" class="si" stroke-width="1.6"/>
<path d="M139.4 958L139.4 1029.2" class="so" stroke-width="4.4"/><path d="M139.4 958L139.4 1029.2" class="si" stroke-width="1.6"/>
<path d="M148 953.1L148 1024.3" class="so" stroke-width="4.4"/><path d="M148 953.1L148 1024.3" class="si" stroke-width="1.6"/>
<path d="M156.6 948.1L156.6 1019.3" class="so" stroke-width="4.4"/><path d="M156.6 948.1L156.6 1019.3" class="si" stroke-width="1.6"/>
<path d="M165 943.3L165 1014.5" class="so" stroke-width="4.4"/><path d="M165 943.3L165 1014.5" class="si" stroke-width="1.6"/>
<path d="M171.7 939.5L176.2 937.2L176.2 938.8L171.7 941Z" fill="#fff" stroke="#111" stroke-width="0.9"/>
<path d="M171.7 1009.5L176.2 1007.2L176.2 1008.8L171.7 1011Z" fill="#fff" stroke="#111" stroke-width="0.9"/>
<path d="M110.5 1063.2V1064.7Q112 1065.9 113.5 1064.7V1063.2" fill="#fff" stroke="#111" stroke-width="1"/>
<path d="M165.5 1030.2V1031.7Q167 1032.9 168.5 1031.7V1030.2" fill="#fff" stroke="#111" stroke-width="1"/>
</g>
<text x="979.8" y="793.5" class="n">Ryze-ZH03A</text>
<text x="979.3" y="810.7" class="d">1600L*1200W*1400H</text>
<path d="M52.4 888.6Q52.4 882.6 57.6 879.6L69.4 872.8Q76.6 868.6 76.6 877L76.6 953.5Q76.6 966.5 65.3 973L59.6 976.3Q52.4 980.5 52.4 972.1Z" fill="#fff" stroke="#111" stroke-width="2"/>
<path d="M61 888L61 963.4" class="so" stroke-width="4.2"/><path d="M61 888L61 963.4" class="si" stroke-width="1.5"/>
<path d="M69.4 883.2L69.4 958.6" class="so" stroke-width="4.2"/><path d="M69.4 883.2L69.4 958.6" class="si" stroke-width="1.5"/>
<path d="M77 879.2Q77 870.9 84.2 875.1L119.8 895.6Q125 898.6 125 904.6L125 996.5L88.3 975.3Q77 968.8 77 955.8Z" fill="#fff" stroke="#111" stroke-width="2"/>
<path d="M87.4 887.9L87.4 963.3" class="so" stroke-width="4.2"/><path d="M87.4 887.9L87.4 963.3" class="si" stroke-width="1.5"/>
<path d="M96 892.9L96 968.3" class="so" stroke-width="4.2"/><path d="M96 892.9L96 968.3" class="si" stroke-width="1.5"/>
<path d="M104.6 897.8L104.6 973.2" class="so" stroke-width="4.2"/><path d="M104.6 897.8L104.6 973.2" class="si" stroke-width="1.5"/>
<path d="M113.4 902.9L113.4 978.3" class="so" stroke-width="4.2"/><path d="M113.4 902.9L113.4 978.3" class="si" stroke-width="1.5"/>
<path d="M125.6 908.4Q125.6 900.1 132.8 904.3L168.9 925.1Q175 928.6 175 935.6L175 1026.5L125.6 997.9Z" fill="#fff" stroke="#111" stroke-width="2"/>
<path d="M136 916.5L136 991.9" class="so" stroke-width="4.2"/><path d="M136 916.5L136 991.9" class="si" stroke-width="1.5"/>
<path d="M144.4 921.3L144.4 996.7" class="so" stroke-width="4.2"/><path d="M144.4 921.3L144.4 996.7" class="si" stroke-width="1.5"/>
<path d="M153 926.3L153 1001.7" class="so" stroke-width="4.2"/><path d="M153 926.3L153 1001.7" class="si" stroke-width="1.5"/>
<path d="M161.6 931.3L161.6 1006.7" class="so" stroke-width="4.2"/><path d="M161.6 931.3L161.6 1006.7" class="si" stroke-width="1.5"/>
<path d="M61.7 975L64.3 975" fill="none" stroke="#111" stroke-width="3"/>
<path d="M84.3 971.5L86.9 971.5" fill="none" stroke="#111" stroke-width="3"/>
<path d="M55 905.3L77 893.7L158 939.7L107 969.7Z" fill="#fff" stroke="#111" stroke-width="1"/>
<path d="M55 903.6L77 892L158 938L107 968Z" fill="#fff" stroke="#111" stroke-width="1.1"/>
<path d="M102 974.6Q102 967.6 108.1 964.1L168.4 929.3Q175.6 925.1 175.6 933.5L175.6 1015Q175.6 1023 168.7 1027L109.2 1061.3Q102 1065.5 102 1057.1Z" fill="#fff" stroke="#111" stroke-width="2.2"/>
<path d="M113.6 972.9L113.6 1044.1" class="so" stroke-width="4.4"/><path d="M113.6 972.9L113.6 1044.1" class="si" stroke-width="1.6"/>
<path d="M122 968.1L122 1039.3" class="so" stroke-width="4.4"/><path d="M122 968.1L122 1039.3" class="si" stroke-width="1.6"/>
<path d="M130.6 963.1L130.6 1034.3" class="so" stroke-width="4.4"/><path d="M130.6 963.1L130.6 1034.3" class="si" stroke-width="1.6"/>
<path d="M139.4 958L139.4 1029.2" class="so" stroke-width="4.4"/><path d="M139.4 958L139.4 1029.2" class="si" stroke-width="1.6"/>
<path d="M148 953.1L148 1024.3" class="so" stroke-width="4.4"/><path d="M148 953.1L148 1024.3" class="si" stroke-width="1.6"/>
<path d="M156.6 948.1L156.6 1019.3" class="so" stroke-width="4.4"/><path d="M156.6 948.1L156.6 1019.3" class="si" stroke-width="1.6"/>
<path d="M165 943.3L165 1014.5" class="so" stroke-width="4.4"/><path d="M165 943.3L165 1014.5" class="si" stroke-width="1.6"/>
<path d="M171.7 939.5L176.2 937.2L176.2 938.8L171.7 941Z" fill="#fff" stroke="#111" stroke-width="0.9"/>
<path d="M171.7 1009.5L176.2 1007.2L176.2 1008.8L171.7 1011Z" fill="#fff" stroke="#111" stroke-width="0.9"/>
<path d="M110.5 1063.2V1064.7Q112 1065.9 113.5 1064.7V1063.2" fill="#fff" stroke="#111" stroke-width="1"/>
<path d="M165.5 1030.2V1031.7Q167 1032.9 168.5 1031.7V1030.2" fill="#fff" stroke="#111" stroke-width="1"/>
<text x="49.8" y="1098.5" class="n">Ryze-ZH03B</text>
<text x="49.3" y="1115.7" class="d">1600L*1200W*1400H</text>
<g transform="translate(1029,289.6) scale(1.094) translate(-140,-586)">
<path d="M44 644.6Q44 638.6 49.2 635.6L76.3 620Q82 616.7 82 623.2L82 694L50.9 712Q44 716 44 708Z" fill="#fff" stroke="#111" stroke-width="1.8"/>
<path d="M53 642.3L53 700.8" class="so" stroke-width="3.6"/><path d="M53 642.3L53 700.8" class="si" stroke-width="1.2"/>
<path d="M60 638.2L60 696.7" class="so" stroke-width="3.6"/><path d="M60 638.2L60 696.7" class="si" stroke-width="1.2"/>
<path d="M67 634.2L67 692.7" class="so" stroke-width="3.6"/><path d="M67 634.2L67 692.7" class="si" stroke-width="1.2"/>
<path d="M74 630.1L74 688.6" class="so" stroke-width="3.6"/><path d="M74 630.1L74 688.6" class="si" stroke-width="1.2"/>
<path d="M83.6 622.6Q83.6 617.6 87.9 615.1L96.3 610.3Q102 607 102 613.6L102 684.3L83.6 695Z" fill="#fff" stroke="#111" stroke-width="1.8"/>
<path d="M89.4 623L89.4 681.5" class="so" stroke-width="3.6"/><path d="M89.4 623L89.4 681.5" class="si" stroke-width="1.2"/>
<path d="M96 619.2L96 677.7" class="so" stroke-width="3.6"/><path d="M96 619.2L96 677.7" class="si" stroke-width="1.2"/>
<path d="M102.6 611Q102.6 606 106.9 603.5L134.3 587.7Q140 584.4 140 591L140 661.8L102.6 683.4Z" fill="#fff" stroke="#111" stroke-width="1.8"/>
<path d="M111 609.8L111 668.3" class="so" stroke-width="3.6"/><path d="M111 609.8L111 668.3" class="si" stroke-width="1.2"/>
<path d="M118 605.8L118 664.3" class="so" stroke-width="3.6"/><path d="M118 605.8L118 664.3" class="si" stroke-width="1.2"/>
<path d="M125 601.7L125 660.2" class="so" stroke-width="3.6"/><path d="M125 601.7L125 660.2" class="si" stroke-width="1.2"/>
<path d="M132 597.7L132 656.2" class="so" stroke-width="3.6"/><path d="M132 597.7L132 656.2" class="si" stroke-width="1.2"/>
<path d="M140.6 590.8Q140.6 584.2 146.3 587.5L175.1 604.1Q179.4 606.6 179.4 611.6L179.4 684L140.6 661.6Z" fill="#fff" stroke="#111" stroke-width="1.8"/>
<path d="M149 598.9L149 657.4" class="so" stroke-width="3.6"/><path d="M149 598.9L149 657.4" class="si" stroke-width="1.2"/>
<path d="M156 602.9L156 661.4" class="so" stroke-width="3.6"/><path d="M156 602.9L156 661.4" class="si" stroke-width="1.2"/>
<path d="M163 606.9L163 665.4" class="so" stroke-width="3.6"/><path d="M163 606.9L163 665.4" class="si" stroke-width="1.2"/>
<path d="M170 611L170 669.5" class="so" stroke-width="3.6"/><path d="M170 611L170 669.5" class="si" stroke-width="1.2"/>
<path d="M180 613.9Q180 607.3 185.7 610.6L212.5 626.1Q218.6 629.6 218.6 636.6L218.6 700.4Q218.6 707 212.9 703.7L180 684.7Z" fill="#fff" stroke="#111" stroke-width="1.8"/>
<path d="M188 621.4L188 679.9" class="so" stroke-width="3.6"/><path d="M188 621.4L188 679.9" class="si" stroke-width="1.2"/>
<path d="M194.6 625.2L194.6 683.7" class="so" stroke-width="3.6"/><path d="M194.6 625.2L194.6 683.7" class="si" stroke-width="1.2"/>
<path d="M201.4 629.1L201.4 687.6" class="so" stroke-width="3.6"/><path d="M201.4 629.1L201.4 687.6" class="si" stroke-width="1.2"/>
<path d="M208.4 633.1L208.4 691.6" class="so" stroke-width="3.6"/><path d="M208.4 633.1L208.4 691.6" class="si" stroke-width="1.2"/>
<path d="M117 653L174 684L174 706L117 676Z" fill="#fff" stroke="#111" stroke-width="1.1"/>
<path d="M174 684L197 671L196.6 694L174 706Z" fill="#fff" stroke="#111" stroke-width="1.1"/>
<path d="M136 663.5L136 686" fill="none" stroke="#111" stroke-width="1"/>
<path d="M154 673L154 695.5" fill="none" stroke="#111" stroke-width="1"/>
<path d="M136 672L154 682" fill="none" stroke="#111" stroke-width="0.9"/>
<path d="M140 666L140 674" fill="none" stroke="#111" stroke-width="0.9"/>
<path d="M117 653L140 641L197 671L174 684Z" fill="#fff" stroke="#111" stroke-width="1.1"/>
<path d="M117 651L140 639L197 669L174 682Z" fill="#fff" stroke="#111" stroke-width="1.1"/>
<path d="M174 707L176 707" fill="none" stroke="#111" stroke-width="2"/>
<path d="M194 695L196 695" fill="none" stroke="#111" stroke-width="2"/>
<path d="M76 664Q75 656 82 655Q88 655 93 666" fill="#fff" stroke="#111" stroke-width="1"/>
<path d="M44 645.7Q44 639.1 49.7 642.4L78.7 659.1Q83 661.6 83 666.6L83 732.4Q83 739 77.3 735.7L49.2 719.4Q44 716.4 44 710.4Z" fill="#fff" stroke="#111" stroke-width="1.8"/>
<path d="M53 653.8L53 712.3" class="so" stroke-width="3.6"/><path d="M53 653.8L53 712.3" class="si" stroke-width="1.2"/>
<path d="M60 657.9L60 716.4" class="so" stroke-width="3.6"/><path d="M60 657.9L60 716.4" class="si" stroke-width="1.2"/>
<path d="M67 661.9L67 720.4" class="so" stroke-width="3.6"/><path d="M67 661.9L67 720.4" class="si" stroke-width="1.2"/>
<path d="M74 666L74 724.5" class="so" stroke-width="3.6"/><path d="M74 666L74 724.5" class="si" stroke-width="1.2"/>
<path d="M83.6 669Q83.6 662.4 89.3 665.7L117.7 682.1Q122 684.6 122 689.6L122 755.4Q122 762 116.3 758.7L88.8 742.8Q83.6 739.8 83.6 733.8Z" fill="#fff" stroke="#111" stroke-width="1.8"/>
<path d="M92 676.6L92 735.1" class="so" stroke-width="3.6"/><path d="M92 676.6L92 735.1" class="si" stroke-width="1.2"/>
<path d="M99 680.6L99 739.1" class="so" stroke-width="3.6"/><path d="M99 680.6L99 739.1" class="si" stroke-width="1.2"/>
<path d="M106 684.7L106 743.2" class="so" stroke-width="3.6"/><path d="M106 684.7L106 743.2" class="si" stroke-width="1.2"/>
<path d="M113 688.7L113 747.2" class="so" stroke-width="3.6"/><path d="M113 688.7L113 747.2" class="si" stroke-width="1.2"/>
<path d="M122.4 690.2Q122.4 685.2 126.7 682.7L135.3 677.8Q141 674.5 141 681L141 745.8Q141 751.8 135.8 754.8L128.1 759.3Q122.4 762.6 122.4 756Z" fill="#fff" stroke="#111" stroke-width="1.8"/>
<path d="M128.4 690.5L128.4 749" class="so" stroke-width="3.6"/><path d="M128.4 690.5L128.4 749" class="si" stroke-width="1.2"/>
<path d="M135.6 686.3L135.6 744.8" class="so" stroke-width="3.6"/><path d="M135.6 686.3L135.6 744.8" class="si" stroke-width="1.2"/>
<path d="M81.9 668.1L85.1 669.9" fill="none" stroke="#111" stroke-width="1.8"/>
<path d="M81.9 723.1L85.1 724.9" fill="none" stroke="#111" stroke-width="1.8"/>
<path d="M120.7 690.1L123.9 691.9" fill="none" stroke="#111" stroke-width="1.8"/>
<path d="M120.7 745.1L123.9 746.9" fill="none" stroke="#111" stroke-width="1.8"/>
<path d="M44.4 647.1L47.6 648.9" fill="none" stroke="#111" stroke-width="1.8"/>
<path d="M44.4 704.1L47.6 705.9" fill="none" stroke="#111" stroke-width="1.8"/>
<path d="M208.8 700.5L211.2 701.5" fill="none" stroke="#111" stroke-width="2.4"/>
</g>
<text x="979.8" y="512.5" class="n">Ryze-ZH01A</text>
<text x="979.3" y="529.7" class="d">2000L*1600W*1400H</text>
<path d="M44 644.6Q44 638.6 49.2 635.6L76.3 620Q82 616.7 82 623.2L82 694L50.9 712Q44 716 44 708Z" fill="#fff" stroke="#111" stroke-width="1.8"/>
<path d="M53 642.3L53 700.8" class="so" stroke-width="3.6"/><path d="M53 642.3L53 700.8" class="si" stroke-width="1.2"/>
<path d="M60 638.2L60 696.7" class="so" stroke-width="3.6"/><path d="M60 638.2L60 696.7" class="si" stroke-width="1.2"/>
<path d="M67 634.2L67 692.7" class="so" stroke-width="3.6"/><path d="M67 634.2L67 692.7" class="si" stroke-width="1.2"/>
<path d="M74 630.1L74 688.6" class="so" stroke-width="3.6"/><path d="M74 630.1L74 688.6" class="si" stroke-width="1.2"/>
<path d="M83.6 622.6Q83.6 617.6 87.9 615.1L96.3 610.3Q102 607 102 613.6L102 684.3L83.6 695Z" fill="#fff" stroke="#111" stroke-width="1.8"/>
<path d="M89.4 623L89.4 681.5" class="so" stroke-width="3.6"/><path d="M89.4 623L89.4 681.5" class="si" stroke-width="1.2"/>
<path d="M96 619.2L96 677.7" class="so" stroke-width="3.6"/><path d="M96 619.2L96 677.7" class="si" stroke-width="1.2"/>
<path d="M102.6 611Q102.6 606 106.9 603.5L134.3 587.7Q140 584.4 140 591L140 661.8L102.6 683.4Z" fill="#fff" stroke="#111" stroke-width="1.8"/>
<path d="M111 609.8L111 668.3" class="so" stroke-width="3.6"/><path d="M111 609.8L111 668.3" class="si" stroke-width="1.2"/>
<path d="M118 605.8L118 664.3" class="so" stroke-width="3.6"/><path d="M118 605.8L118 664.3" class="si" stroke-width="1.2"/>
<path d="M125 601.7L125 660.2" class="so" stroke-width="3.6"/><path d="M125 601.7L125 660.2" class="si" stroke-width="1.2"/>
<path d="M132 597.7L132 656.2" class="so" stroke-width="3.6"/><path d="M132 597.7L132 656.2" class="si" stroke-width="1.2"/>
<path d="M140.6 590.8Q140.6 584.2 146.3 587.5L175.1 604.1Q179.4 606.6 179.4 611.6L179.4 684L140.6 661.6Z" fill="#fff" stroke="#111" stroke-width="1.8"/>
<path d="M149 598.9L149 657.4" class="so" stroke-width="3.6"/><path d="M149 598.9L149 657.4" class="si" stroke-width="1.2"/>
<path d="M156 602.9L156 661.4" class="so" stroke-width="3.6"/><path d="M156 602.9L156 661.4" class="si" stroke-width="1.2"/>
<path d="M163 606.9L163 665.4" class="so" stroke-width="3.6"/><path d="M163 606.9L163 665.4" class="si" stroke-width="1.2"/>
<path d="M170 611L170 669.5" class="so" stroke-width="3.6"/><path d="M170 611L170 669.5" class="si" stroke-width="1.2"/>
<path d="M180 613.9Q180 607.3 185.7 610.6L212.5 626.1Q218.6 629.6 218.6 636.6L218.6 700.4Q218.6 707 212.9 703.7L180 684.7Z" fill="#fff" stroke="#111" stroke-width="1.8"/>
<path d="M188 621.4L188 679.9" class="so" stroke-width="3.6"/><path d="M188 621.4L188 679.9" class="si" stroke-width="1.2"/>
<path d="M194.6 625.2L194.6 683.7" class="so" stroke-width="3.6"/><path d="M194.6 625.2L194.6 683.7" class="si" stroke-width="1.2"/>
<path d="M201.4 629.1L201.4 687.6" class="so" stroke-width="3.6"/><path d="M201.4 629.1L201.4 687.6" class="si" stroke-width="1.2"/>
<path d="M208.4 633.1L208.4 691.6" class="so" stroke-width="3.6"/><path d="M208.4 633.1L208.4 691.6" class="si" stroke-width="1.2"/>
<path d="M117 653L174 684L174 706L117 676Z" fill="#fff" stroke="#111" stroke-width="1.1"/>
<path d="M174 684L197 671L196.6 694L174 706Z" fill="#fff" stroke="#111" stroke-width="1.1"/>
<path d="M136 663.5L136 686" fill="none" stroke="#111" stroke-width="1"/>
<path d="M154 673L154 695.5" fill="none" stroke="#111" stroke-width="1"/>
<path d="M136 672L154 682" fill="none" stroke="#111" stroke-width="0.9"/>
<path d="M140 666L140 674" fill="none" stroke="#111" stroke-width="0.9"/>
<path d="M117 653L140 641L197 671L174 684Z" fill="#fff" stroke="#111" stroke-width="1.1"/>
<path d="M117 651L140 639L197 669L174 682Z" fill="#fff" stroke="#111" stroke-width="1.1"/>
<path d="M174 707L176 707" fill="none" stroke="#111" stroke-width="2"/>
<path d="M194 695L196 695" fill="none" stroke="#111" stroke-width="2"/>
<path d="M62 647L118 685L128 680L128 700L62 700Z" fill="#fff" stroke="none" stroke-width="0"/>
<path d="M62 646.5L82 636L128 680L118 685Z" fill="#fff" stroke="#111" stroke-width="1.1"/>
<path d="M44 645.7Q44 639.1 49.7 642.4L78.7 659.1Q83 661.6 83 666.6L83 732.4Q83 739 77.3 735.7L49.2 719.4Q44 716.4 44 710.4Z" fill="#fff" stroke="#111" stroke-width="1.8"/>
<path d="M53 653.8L53 712.3" class="so" stroke-width="3.6"/><path d="M53 653.8L53 712.3" class="si" stroke-width="1.2"/>
<path d="M60 657.9L60 716.4" class="so" stroke-width="3.6"/><path d="M60 657.9L60 716.4" class="si" stroke-width="1.2"/>
<path d="M67 661.9L67 720.4" class="so" stroke-width="3.6"/><path d="M67 661.9L67 720.4" class="si" stroke-width="1.2"/>
<path d="M74 666L74 724.5" class="so" stroke-width="3.6"/><path d="M74 666L74 724.5" class="si" stroke-width="1.2"/>
<path d="M83.6 669Q83.6 662.4 89.3 665.7L117.7 682.1Q122 684.6 122 689.6L122 755.4Q122 762 116.3 758.7L88.8 742.8Q83.6 739.8 83.6 733.8Z" fill="#fff" stroke="#111" stroke-width="1.8"/>
<path d="M92 676.6L92 735.1" class="so" stroke-width="3.6"/><path d="M92 676.6L92 735.1" class="si" stroke-width="1.2"/>
<path d="M99 680.6L99 739.1" class="so" stroke-width="3.6"/><path d="M99 680.6L99 739.1" class="si" stroke-width="1.2"/>
<path d="M106 684.7L106 743.2" class="so" stroke-width="3.6"/><path d="M106 684.7L106 743.2" class="si" stroke-width="1.2"/>
<path d="M113 688.7L113 747.2" class="so" stroke-width="3.6"/><path d="M113 688.7L113 747.2" class="si" stroke-width="1.2"/>
<path d="M122.4 690.2Q122.4 685.2 126.7 682.7L135.3 677.8Q141 674.5 141 681L141 745.8Q141 751.8 135.8 754.8L128.1 759.3Q122.4 762.6 122.4 756Z" fill="#fff" stroke="#111" stroke-width="1.8"/>
<path d="M128.4 690.5L128.4 749" class="so" stroke-width="3.6"/><path d="M128.4 690.5L128.4 749" class="si" stroke-width="1.2"/>
<path d="M135.6 686.3L135.6 744.8" class="so" stroke-width="3.6"/><path d="M135.6 686.3L135.6 744.8" class="si" stroke-width="1.2"/>
<path d="M81.9 668.1L85.1 669.9" fill="none" stroke="#111" stroke-width="1.8"/>
<path d="M81.9 723.1L85.1 724.9" fill="none" stroke="#111" stroke-width="1.8"/>
<path d="M120.7 690.1L123.9 691.9" fill="none" stroke="#111" stroke-width="1.8"/>
<path d="M120.7 745.1L123.9 746.9" fill="none" stroke="#111" stroke-width="1.8"/>
<path d="M44.4 647.1L47.6 648.9" fill="none" stroke="#111" stroke-width="1.8"/>
<path d="M44.4 704.1L47.6 705.9" fill="none" stroke="#111" stroke-width="1.8"/>
<path d="M208.8 700.5L211.2 701.5" fill="none" stroke="#111" stroke-width="2.4"/>
<text x="53.8" y="793.5" class="n">Ryze-ZH01B</text>
<text x="53.3" y="810.7" class="d">2000L*1600W*1400H</text>
<g transform="translate(305,0)">
<path d="M44 644.6Q44 638.6 49.2 635.6L76.3 620Q82 616.7 82 623.2L82 694L50.9 712Q44 716 44 708Z" fill="#fff" stroke="#111" stroke-width="1.8"/>
<path d="M53 642.3L53 700.8" class="so" stroke-width="3.6"/><path d="M53 642.3L53 700.8" class="si" stroke-width="1.2"/>
<path d="M60 638.2L60 696.7" class="so" stroke-width="3.6"/><path d="M60 638.2L60 696.7" class="si" stroke-width="1.2"/>
<path d="M67 634.2L67 692.7" class="so" stroke-width="3.6"/><path d="M67 634.2L67 692.7" class="si" stroke-width="1.2"/>
<path d="M74 630.1L74 688.6" class="so" stroke-width="3.6"/><path d="M74 630.1L74 688.6" class="si" stroke-width="1.2"/>
<path d="M83.6 622.6Q83.6 617.6 87.9 615.1L96.3 610.3Q102 607 102 613.6L102 684.3L83.6 695Z" fill="#fff" stroke="#111" stroke-width="1.8"/>
<path d="M89.4 623L89.4 681.5" class="so" stroke-width="3.6"/><path d="M89.4 623L89.4 681.5" class="si" stroke-width="1.2"/>
<path d="M96 619.2L96 677.7" class="so" stroke-width="3.6"/><path d="M96 619.2L96 677.7" class="si" stroke-width="1.2"/>
<path d="M102.6 611Q102.6 606 106.9 603.5L134.3 587.7Q140 584.4 140 591L140 661.8L102.6 683.4Z" fill="#fff" stroke="#111" stroke-width="1.8"/>
<path d="M111 609.8L111 668.3" class="so" stroke-width="3.6"/><path d="M111 609.8L111 668.3" class="si" stroke-width="1.2"/>
<path d="M118 605.8L118 664.3" class="so" stroke-width="3.6"/><path d="M118 605.8L118 664.3" class="si" stroke-width="1.2"/>
<path d="M125 601.7L125 660.2" class="so" stroke-width="3.6"/><path d="M125 601.7L125 660.2" class="si" stroke-width="1.2"/>
<path d="M132 597.7L132 656.2" class="so" stroke-width="3.6"/><path d="M132 597.7L132 656.2" class="si" stroke-width="1.2"/>
<path d="M140.6 590.8Q140.6 584.2 146.3 587.5L175.1 604.1Q179.4 606.6 179.4 611.6L179.4 684L140.6 661.6Z" fill="#fff" stroke="#111" stroke-width="1.8"/>
<path d="M149 598.9L149 657.4" class="so" stroke-width="3.6"/><path d="M149 598.9L149 657.4" class="si" stroke-width="1.2"/>
<path d="M156 602.9L156 661.4" class="so" stroke-width="3.6"/><path d="M156 602.9L156 661.4" class="si" stroke-width="1.2"/>
<path d="M163 606.9L163 665.4" class="so" stroke-width="3.6"/><path d="M163 606.9L163 665.4" class="si" stroke-width="1.2"/>
<path d="M170 611L170 669.5" class="so" stroke-width="3.6"/><path d="M170 611L170 669.5" class="si" stroke-width="1.2"/>
<path d="M180 613.9Q180 607.3 185.7 610.6L212.5 626.1Q218.6 629.6 218.6 636.6L218.6 700.4Q218.6 707 212.9 703.7L180 684.7Z" fill="#fff" stroke="#111" stroke-width="1.8"/>
<path d="M188 621.4L188 679.9" class="so" stroke-width="3.6"/><path d="M188 621.4L188 679.9" class="si" stroke-width="1.2"/>
<path d="M194.6 625.2L194.6 683.7" class="so" stroke-width="3.6"/><path d="M194.6 625.2L194.6 683.7" class="si" stroke-width="1.2"/>
<path d="M201.4 629.1L201.4 687.6" class="so" stroke-width="3.6"/><path d="M201.4 629.1L201.4 687.6" class="si" stroke-width="1.2"/>
<path d="M208.4 633.1L208.4 691.6" class="so" stroke-width="3.6"/><path d="M208.4 633.1L208.4 691.6" class="si" stroke-width="1.2"/>
<path d="M117 653L174 684L174 706L117 676Z" fill="#fff" stroke="#111" stroke-width="1.1"/>
<path d="M174 684L197 671L196.6 694L174 706Z" fill="#fff" stroke="#111" stroke-width="1.1"/>
<path d="M136 663.5L136 686" fill="none" stroke="#111" stroke-width="1"/>
<path d="M154 673L154 695.5" fill="none" stroke="#111" stroke-width="1"/>
<path d="M136 672L154 682" fill="none" stroke="#111" stroke-width="0.9"/>
<path d="M140 666L140 674" fill="none" stroke="#111" stroke-width="0.9"/>
<path d="M117 653L140 641L197 671L174 684Z" fill="#fff" stroke="#111" stroke-width="1.1"/>
<path d="M117 651L140 639L197 669L174 682Z" fill="#fff" stroke="#111" stroke-width="1.1"/>
<path d="M174 707L176 707" fill="none" stroke="#111" stroke-width="2"/>
<path d="M194 695L196 695" fill="none" stroke="#111" stroke-width="2"/>
<path d="M70 651L128 681L140 675L140 700L70 700Z" fill="#fff" stroke="none" stroke-width="0"/>
<path d="M70 651.5L82 645.5L140 675.5L128 681.5Z" fill="#fff" stroke="#111" stroke-width="1"/>
<path d="M70 650L82 644L140 674L128 680Z" fill="#fff" stroke="#111" stroke-width="1.1"/>
<path d="M44 645.7Q44 639.1 49.7 642.4L78.7 659.1Q83 661.6 83 666.6L83 732.4Q83 739 77.3 735.7L49.2 719.4Q44 716.4 44 710.4Z" fill="#fff" stroke="#111" stroke-width="1.8"/>
<path d="M53 653.8L53 712.3" class="so" stroke-width="3.6"/><path d="M53 653.8L53 712.3" class="si" stroke-width="1.2"/>
<path d="M60 657.9L60 716.4" class="so" stroke-width="3.6"/><path d="M60 657.9L60 716.4" class="si" stroke-width="1.2"/>
<path d="M67 661.9L67 720.4" class="so" stroke-width="3.6"/><path d="M67 661.9L67 720.4" class="si" stroke-width="1.2"/>
<path d="M74 666L74 724.5" class="so" stroke-width="3.6"/><path d="M74 666L74 724.5" class="si" stroke-width="1.2"/>
<path d="M83.6 669Q83.6 662.4 89.3 665.7L117.7 682.1Q122 684.6 122 689.6L122 755.4Q122 762 116.3 758.7L88.8 742.8Q83.6 739.8 83.6 733.8Z" fill="#fff" stroke="#111" stroke-width="1.8"/>
<path d="M92 676.6L92 735.1" class="so" stroke-width="3.6"/><path d="M92 676.6L92 735.1" class="si" stroke-width="1.2"/>
<path d="M99 680.6L99 739.1" class="so" stroke-width="3.6"/><path d="M99 680.6L99 739.1" class="si" stroke-width="1.2"/>
<path d="M106 684.7L106 743.2" class="so" stroke-width="3.6"/><path d="M106 684.7L106 743.2" class="si" stroke-width="1.2"/>
<path d="M113 688.7L113 747.2" class="so" stroke-width="3.6"/><path d="M113 688.7L113 747.2" class="si" stroke-width="1.2"/>
<path d="M122.4 690.2Q122.4 685.2 126.7 682.7L155.3 666.2Q161 662.9 161 669.5L161 734.3Q161 740.3 155.8 743.3L128.1 759.3Q122.4 762.6 122.4 756Z" fill="#fff" stroke="#111" stroke-width="1.8"/>
<path d="M132 688.2L132 746.7" class="so" stroke-width="3.6"/><path d="M132 688.2L132 746.7" class="si" stroke-width="1.2"/>
<path d="M139 684.2L139 742.7" class="so" stroke-width="3.6"/><path d="M139 684.2L139 742.7" class="si" stroke-width="1.2"/>
<path d="M146 680.1L146 738.6" class="so" stroke-width="3.6"/><path d="M146 680.1L146 738.6" class="si" stroke-width="1.2"/>
<path d="M152.6 676.3L152.6 734.8" class="so" stroke-width="3.6"/><path d="M152.6 676.3L152.6 734.8" class="si" stroke-width="1.2"/>
<path d="M81.9 668.1L85.1 669.9" fill="none" stroke="#111" stroke-width="1.8"/>
<path d="M81.9 723.1L85.1 724.9" fill="none" stroke="#111" stroke-width="1.8"/>
<path d="M120.7 690.1L123.9 691.9" fill="none" stroke="#111" stroke-width="1.8"/>
<path d="M120.7 745.1L123.9 746.9" fill="none" stroke="#111" stroke-width="1.8"/>
<path d="M44.4 647.1L47.6 648.9" fill="none" stroke="#111" stroke-width="1.8"/>
<path d="M44.4 704.1L47.6 705.9" fill="none" stroke="#111" stroke-width="1.8"/>
<path d="M208.8 700.5L211.2 701.5" fill="none" stroke="#111" stroke-width="2.4"/>
</g>
<text x="361.8" y="793.5" class="n">Ryze-ZH02A</text>
<text x="361.3" y="810.7" class="d">2000L*1600W*1400H</text>
<g transform="translate(610,1)">
<path d="M44 644.6Q44 638.6 49.2 635.6L76.3 620Q82 616.7 82 623.2L82 694L50.9 712Q44 716 44 708Z" fill="#fff" stroke="#111" stroke-width="1.8"/>
<path d="M53 642.3L53 700.8" class="so" stroke-width="3.6"/><path d="M53 642.3L53 700.8" class="si" stroke-width="1.2"/>
<path d="M60 638.2L60 696.7" class="so" stroke-width="3.6"/><path d="M60 638.2L60 696.7" class="si" stroke-width="1.2"/>
<path d="M67 634.2L67 692.7" class="so" stroke-width="3.6"/><path d="M67 634.2L67 692.7" class="si" stroke-width="1.2"/>
<path d="M74 630.1L74 688.6" class="so" stroke-width="3.6"/><path d="M74 630.1L74 688.6" class="si" stroke-width="1.2"/>
<path d="M83.6 622.6Q83.6 617.6 87.9 615.1L96.3 610.3Q102 607 102 613.6L102 684.3L83.6 695Z" fill="#fff" stroke="#111" stroke-width="1.8"/>
<path d="M89.4 623L89.4 681.5" class="so" stroke-width="3.6"/><path d="M89.4 623L89.4 681.5" class="si" stroke-width="1.2"/>
<path d="M96 619.2L96 677.7" class="so" stroke-width="3.6"/><path d="M96 619.2L96 677.7" class="si" stroke-width="1.2"/>
<path d="M102.6 611Q102.6 606 106.9 603.5L134.3 587.7Q140 584.4 140 591L140 661.8L102.6 683.4Z" fill="#fff" stroke="#111" stroke-width="1.8"/>
<path d="M111 609.8L111 668.3" class="so" stroke-width="3.6"/><path d="M111 609.8L111 668.3" class="si" stroke-width="1.2"/>
<path d="M118 605.8L118 664.3" class="so" stroke-width="3.6"/><path d="M118 605.8L118 664.3" class="si" stroke-width="1.2"/>
<path d="M125 601.7L125 660.2" class="so" stroke-width="3.6"/><path d="M125 601.7L125 660.2" class="si" stroke-width="1.2"/>
<path d="M132 597.7L132 656.2" class="so" stroke-width="3.6"/><path d="M132 597.7L132 656.2" class="si" stroke-width="1.2"/>
<path d="M140.6 590.8Q140.6 584.2 146.3 587.5L175.1 604.1Q179.4 606.6 179.4 611.6L179.4 684L140.6 661.6Z" fill="#fff" stroke="#111" stroke-width="1.8"/>
<path d="M149 598.9L149 657.4" class="so" stroke-width="3.6"/><path d="M149 598.9L149 657.4" class="si" stroke-width="1.2"/>
<path d="M156 602.9L156 661.4" class="so" stroke-width="3.6"/><path d="M156 602.9L156 661.4" class="si" stroke-width="1.2"/>
<path d="M163 606.9L163 665.4" class="so" stroke-width="3.6"/><path d="M163 606.9L163 665.4" class="si" stroke-width="1.2"/>
<path d="M170 611L170 669.5" class="so" stroke-width="3.6"/><path d="M170 611L170 669.5" class="si" stroke-width="1.2"/>
<path d="M180 613.9Q180 607.3 185.7 610.6L212.5 626.1Q218.6 629.6 218.6 636.6L218.6 700.4Q218.6 707 212.9 703.7L180 684.7Z" fill="#fff" stroke="#111" stroke-width="1.8"/>
<path d="M188 621.4L188 679.9" class="so" stroke-width="3.6"/><path d="M188 621.4L188 679.9" class="si" stroke-width="1.2"/>
<path d="M194.6 625.2L194.6 683.7" class="so" stroke-width="3.6"/><path d="M194.6 625.2L194.6 683.7" class="si" stroke-width="1.2"/>
<path d="M201.4 629.1L201.4 687.6" class="so" stroke-width="3.6"/><path d="M201.4 629.1L201.4 687.6" class="si" stroke-width="1.2"/>
<path d="M208.4 633.1L208.4 691.6" class="so" stroke-width="3.6"/><path d="M208.4 633.1L208.4 691.6" class="si" stroke-width="1.2"/>
<path d="M117 653L174 684L174 706L117 676Z" fill="#fff" stroke="#111" stroke-width="1.1"/>
<path d="M174 684L197 671L196.6 694L174 706Z" fill="#fff" stroke="#111" stroke-width="1.1"/>
<path d="M136 663.5L136 686" fill="none" stroke="#111" stroke-width="1"/>
<path d="M154 673L154 695.5" fill="none" stroke="#111" stroke-width="1"/>
<path d="M136 672L154 682" fill="none" stroke="#111" stroke-width="0.9"/>
<path d="M140 666L140 674" fill="none" stroke="#111" stroke-width="0.9"/>
<path d="M117 653L140 641L197 671L174 684Z" fill="#fff" stroke="#111" stroke-width="1.1"/>
<path d="M117 651L140 639L197 669L174 682Z" fill="#fff" stroke="#111" stroke-width="1.1"/>
<path d="M174 707L176 707" fill="none" stroke="#111" stroke-width="2"/>
<path d="M194 695L196 695" fill="none" stroke="#111" stroke-width="2"/>
<path d="M70 651L128 681L140 675L140 700L70 700Z" fill="#fff" stroke="none" stroke-width="0"/>
<path d="M70 651.5L82 645.5L140 675.5L128 681.5Z" fill="#fff" stroke="#111" stroke-width="1"/>
<path d="M70 650L82 644L140 674L128 680Z" fill="#fff" stroke="#111" stroke-width="1.1"/>
<path d="M44 645.7Q44 639.1 49.7 642.4L78.7 659.1Q83 661.6 83 666.6L83 732.4Q83 739 77.3 735.7L49.2 719.4Q44 716.4 44 710.4Z" fill="#fff" stroke="#111" stroke-width="1.8"/>
<path d="M53 653.8L53 712.3" class="so" stroke-width="3.6"/><path d="M53 653.8L53 712.3" class="si" stroke-width="1.2"/>
<path d="M60 657.9L60 716.4" class="so" stroke-width="3.6"/><path d="M60 657.9L60 716.4" class="si" stroke-width="1.2"/>
<path d="M67 661.9L67 720.4" class="so" stroke-width="3.6"/><path d="M67 661.9L67 720.4" class="si" stroke-width="1.2"/>
<path d="M74 666L74 724.5" class="so" stroke-width="3.6"/><path d="M74 666L74 724.5" class="si" stroke-width="1.2"/>
<path d="M83.6 669Q83.6 662.4 89.3 665.7L117.7 682.1Q122 684.6 122 689.6L122 755.4Q122 762 116.3 758.7L88.8 742.8Q83.6 739.8 83.6 733.8Z" fill="#fff" stroke="#111" stroke-width="1.8"/>
<path d="M92 676.6L92 735.1" class="so" stroke-width="3.6"/><path d="M92 676.6L92 735.1" class="si" stroke-width="1.2"/>
<path d="M99 680.6L99 739.1" class="so" stroke-width="3.6"/><path d="M99 680.6L99 739.1" class="si" stroke-width="1.2"/>
<path d="M106 684.7L106 743.2" class="so" stroke-width="3.6"/><path d="M106 684.7L106 743.2" class="si" stroke-width="1.2"/>
<path d="M113 688.7L113 747.2" class="so" stroke-width="3.6"/><path d="M113 688.7L113 747.2" class="si" stroke-width="1.2"/>
<path d="M122.4 690.2Q122.4 685.2 126.7 682.7L155.3 666.2Q161 662.9 161 669.5L161 734.3Q161 740.3 155.8 743.3L128.1 759.3Q122.4 762.6 122.4 756Z" fill="#fff" stroke="#111" stroke-width="1.8"/>
<path d="M132 688.2L132 746.7" class="so" stroke-width="3.6"/><path d="M132 688.2L132 746.7" class="si" stroke-width="1.2"/>
<path d="M139 684.2L139 742.7" class="so" stroke-width="3.6"/><path d="M139 684.2L139 742.7" class="si" stroke-width="1.2"/>
<path d="M146 680.1L146 738.6" class="so" stroke-width="3.6"/><path d="M146 680.1L146 738.6" class="si" stroke-width="1.2"/>
<path d="M152.6 676.3L152.6 734.8" class="so" stroke-width="3.6"/><path d="M152.6 676.3L152.6 734.8" class="si" stroke-width="1.2"/>
<path d="M81.9 668.1L85.1 669.9" fill="none" stroke="#111" stroke-width="1.8"/>
<path d="M81.9 723.1L85.1 724.9" fill="none" stroke="#111" stroke-width="1.8"/>
<path d="M120.7 690.1L123.9 691.9" fill="none" stroke="#111" stroke-width="1.8"/>
<path d="M120.7 745.1L123.9 746.9" fill="none" stroke="#111" stroke-width="1.8"/>
<path d="M44.4 647.1L47.6 648.9" fill="none" stroke="#111" stroke-width="1.8"/>
<path d="M44.4 704.1L47.6 705.9" fill="none" stroke="#111" stroke-width="1.8"/>
<path d="M208.8 700.5L211.2 701.5" fill="none" stroke="#111" stroke-width="2.4"/>
</g>
<text x="670.8" y="793.5" class="n">Ryze-ZH02B</text>
<text x="670.3" y="810.7" class="d">2000L*1600W*1400H</text>
<path d="M404 327.6Q404 322.6 408.3 320.1L436.8 303.7Q442 300.7 442 306.7L442 371.9L404 393.8Z" fill="#fff" stroke="#111" stroke-width="1"/>
<path d="M404 327.6L404 325.1Q404 322.6 408.3 320.1L436.8 303.7Q442 300.7 442 303.7L442 306.7" fill="none" stroke="#111" stroke-width="1.8"/>
<path d="M442 371.9L442 371.9L404 393.8L404 393.8" fill="none" stroke="#111" stroke-width="1.8"/>
<path d="M404 393.8L404 393.8L404 327.6Q404 322.6 406.2 321.4L408.3 320.1" fill="none" stroke="#111" stroke-width="1.8"/>
<path d="M409 330.8L409 379.9" class="so" stroke-width="3.5"/><path d="M409 330.8L409 379.9" class="si" stroke-width="1.1"/>
<path d="M416 326.8L416 375.9" class="so" stroke-width="3.5"/><path d="M416 326.8L416 375.9" class="si" stroke-width="1.1"/>
<path d="M423 322.7L423 371.8" class="so" stroke-width="3.5"/><path d="M423 322.7L423 371.8" class="si" stroke-width="1.1"/>
<path d="M430 318.7L430 367.8" class="so" stroke-width="3.5"/><path d="M430 318.7L430 367.8" class="si" stroke-width="1.1"/>
<path d="M437 314.7L437 363.8" class="so" stroke-width="3.5"/><path d="M437 314.7L437 363.8" class="si" stroke-width="1.1"/>
<path d="M442.4 307.5Q442.4 301.5 447.6 304.5L474.7 320.1Q479 322.6 479 327.6L479 393.8L442.4 372.7Z" fill="#fff" stroke="#111" stroke-width="1"/>
<path d="M442.4 307.5L442.4 304.5Q442.4 301.5 447.6 304.5L474.7 320.1Q479 322.6 479 325.1L479 327.6" fill="none" stroke="#111" stroke-width="1.8"/>
<path d="M474.7 320.1L476.8 321.4Q479 322.6 479 327.6L479 393.8L479 393.8" fill="none" stroke="#111" stroke-width="1.8"/>
<path d="M479 393.8L479 393.8L442.4 372.7L442.4 372.7" fill="none" stroke="#111" stroke-width="1.8"/>
<path d="M447 315.5L447 365.6" class="so" stroke-width="3.5"/><path d="M447 315.5L447 365.6" class="si" stroke-width="1.1"/>
<path d="M453.6 319.3L453.6 369.4" class="so" stroke-width="3.5"/><path d="M453.6 319.3L453.6 369.4" class="si" stroke-width="1.1"/>
<path d="M460.4 323.2L460.4 373.3" class="so" stroke-width="3.5"/><path d="M460.4 323.2L460.4 373.3" class="si" stroke-width="1.1"/>
<path d="M467 327L467 377.1" class="so" stroke-width="3.5"/><path d="M467 327L467 377.1" class="si" stroke-width="1.1"/>
<path d="M474 331.1L474 381.2" class="so" stroke-width="3.5"/><path d="M474 331.1L474 381.2" class="si" stroke-width="1.1"/>
<path d="M479.6 328.9Q479.6 322.9 484.8 325.9L513.8 342.6Q519 345.6 519 351.6L519 416.8L479.6 394.1Z" fill="#fff" stroke="#111" stroke-width="1.8"/>
<path d="M485 336.8L485 387.9" class="so" stroke-width="3.5"/><path d="M485 336.8L485 387.9" class="si" stroke-width="1.1"/>
<path d="M491.6 340.7L491.6 391.8" class="so" stroke-width="3.5"/><path d="M491.6 340.7L491.6 391.8" class="si" stroke-width="1.1"/>
<path d="M498.4 344.6L498.4 395.7" class="so" stroke-width="3.5"/><path d="M498.4 344.6L498.4 395.7" class="si" stroke-width="1.1"/>
<path d="M505 348.4L505 399.5" class="so" stroke-width="3.5"/><path d="M505 348.4L505 399.5" class="si" stroke-width="1.1"/>
<path d="M511.6 352.2L511.6 403.3" class="so" stroke-width="3.5"/><path d="M511.6 352.2L511.6 403.3" class="si" stroke-width="1.1"/>
<path d="M414 370L430 359L432 340L438 335L442 333L484 356L484 430L414 392Z" fill="#fff" stroke="none" stroke-width="0"/>
<path d="M438 336L442 333L484 356L484 385L430 360C430 352 433 342 438 336Z" fill="#fff" stroke="#111" stroke-width="1.3"/>
<path d="M438 336.5L482 360.5" fill="none" stroke="#111" stroke-width="0.9"/>
<path d="M440 334.8L483 358.3" fill="none" stroke="#111" stroke-width="0.9"/>
<path d="M414 370L430 360L484 390L484 409Z" fill="#fff" stroke="#111" stroke-width="1.2"/>
<path d="M446 404L484 425L484 430L446 409Z" fill="#fff" stroke="#111" stroke-width="1"/>
<path d="M446 410L484 431" fill="none" stroke="#111" stroke-width="1"/>
<path d="M329 370.6Q329 365.6 333.3 363.1L360.8 347.3Q366 344.3 366 350.3L366 415.5L335.1 433.3Q329 436.8 329 429.8Z" fill="#fff" stroke="#111" stroke-width="1"/>
<path d="M329 370.6L329 368.1Q329 365.6 333.3 363.1L360.8 347.3Q366 344.3 366 347.3L366 350.3" fill="none" stroke="#111" stroke-width="1.8"/>
<path d="M366 415.5L366 415.5L335.1 433.3Q329 436.8 329 433.3L329 429.8" fill="none" stroke="#111" stroke-width="1.8"/>
<path d="M335.1 433.3L332 435.1Q329 436.8 329 429.8L329 370.6Q329 365.6 331.2 364.4L333.3 363.1" fill="none" stroke="#111" stroke-width="1.8"/>
<path d="M341 370L341 419.1" class="so" stroke-width="3.5"/><path d="M341 370L341 419.1" class="si" stroke-width="1.1"/>
<path d="M347.4 366.3L347.4 415.4" class="so" stroke-width="3.5"/><path d="M347.4 366.3L347.4 415.4" class="si" stroke-width="1.1"/>
<path d="M354 362.5L354 411.6" class="so" stroke-width="3.5"/><path d="M354 362.5L354 411.6" class="si" stroke-width="1.1"/>
<path d="M360.6 358.7L360.6 407.8" class="so" stroke-width="3.5"/><path d="M360.6 358.7L360.6 407.8" class="si" stroke-width="1.1"/>
<path d="M367 348.6Q367 343.6 371.3 341.1L397.8 325.9Q403 322.8 403 328.9L403 394L367 414.8Z" fill="#fff" stroke="#111" stroke-width="1.8"/>
<path d="M371.4 341.6L398.4 326.6L398.4 356L371.4 371Z" fill="#fff" stroke="#111" stroke-width="1.2"/>
<path d="M371.4 371L372.5 373L399.5 358L398.4 356" fill="none" stroke="#111" stroke-width="1"/>
<path d="M375 378L375 400" fill="none" stroke="#111" stroke-width="1"/>
<path d="M378 380L378 402" fill="none" stroke="#111" stroke-width="1"/>
<path d="M383 382L383 410" fill="none" stroke="#111" stroke-width="1"/>
<path d="M390 386L390 410" fill="none" stroke="#111" stroke-width="1"/>
<path d="M395 388L395 405" fill="none" stroke="#111" stroke-width="1"/>
<path d="M398 390L398 404" fill="none" stroke="#111" stroke-width="1"/>
<path d="M392 392L396 398L402 392" fill="none" stroke="#111" stroke-width="1.6"/>
<path d="M373 377.6L400 363.6L454 397.6L427 412.6Z" fill="#fff" stroke="#111" stroke-width="1"/>
<path d="M373 376L400 362L454 396L427 411Z" fill="#fff" stroke="#111" stroke-width="1"/>
<path d="M382 372.5L397 364.5L399 366.5L384 374.5Z" fill="#111" stroke="#111" stroke-width="1"/>
<path d="M480 370.6Q480 365.6 484.3 363.1L513.8 346.1Q519 343.1 519 349.1L519 408.3Q519 414.3 513.8 417.3L485.2 433.8Q480 436.8 480 430.7Z" fill="#fff" stroke="#111" stroke-width="1.8"/>
<path d="M486.4 372.3L486.4 421.4" class="so" stroke-width="3.5"/><path d="M486.4 372.3L486.4 421.4" class="si" stroke-width="1.1"/>
<path d="M493 368.5L493 417.6" class="so" stroke-width="3.5"/><path d="M493 368.5L493 417.6" class="si" stroke-width="1.1"/>
<path d="M499.6 364.7L499.6 413.8" class="so" stroke-width="3.5"/><path d="M499.6 364.7L499.6 413.8" class="si" stroke-width="1.1"/>
<path d="M506.4 360.8L506.4 409.9" class="so" stroke-width="3.5"/><path d="M506.4 360.8L506.4 409.9" class="si" stroke-width="1.1"/>
<path d="M513 357L513 406.1" class="so" stroke-width="3.5"/><path d="M513 357L513 406.1" class="si" stroke-width="1.1"/>
<path d="M328 371.1Q328 365.1 333.2 368.1L362.7 385.1Q367 387.6 367 392.6L367 452.7Q367 458.8 361.8 455.8L332.3 438.8Q328 436.3 328 431.3Z" fill="#fff" stroke="#111" stroke-width="1.8"/>
<path d="M334 379L334 430.1" class="so" stroke-width="3.5"/><path d="M334 379L334 430.1" class="si" stroke-width="1.1"/>
<path d="M340.6 382.8L340.6 433.9" class="so" stroke-width="3.5"/><path d="M340.6 382.8L340.6 433.9" class="si" stroke-width="1.1"/>
<path d="M347.4 386.8L347.4 437.9" class="so" stroke-width="3.5"/><path d="M347.4 386.8L347.4 437.9" class="si" stroke-width="1.1"/>
<path d="M354 390.6L354 441.7" class="so" stroke-width="3.5"/><path d="M354 390.6L354 441.7" class="si" stroke-width="1.1"/>
<path d="M360.6 394.4L360.6 445.5" class="so" stroke-width="3.5"/><path d="M360.6 394.4L360.6 445.5" class="si" stroke-width="1.1"/>
<path d="M367 393.7Q367 387.7 372.2 390.7L400.7 407.1Q405 409.6 405 414.6L405 474.7Q405 480.8 399.8 477.8L371.3 461.4Q367 458.9 367 453.9Z" fill="#fff" stroke="#111" stroke-width="1.8"/>
<path d="M372.4 400.8L372.4 451.9" class="so" stroke-width="3.5"/><path d="M372.4 400.8L372.4 451.9" class="si" stroke-width="1.1"/>
<path d="M379 404.6L379 455.7" class="so" stroke-width="3.5"/><path d="M379 404.6L379 455.7" class="si" stroke-width="1.1"/>
<path d="M385.6 408.4L385.6 459.5" class="so" stroke-width="3.5"/><path d="M385.6 408.4L385.6 459.5" class="si" stroke-width="1.1"/>
<path d="M392.4 412.3L392.4 463.4" class="so" stroke-width="3.5"/><path d="M392.4 412.3L392.4 463.4" class="si" stroke-width="1.1"/>
<path d="M399 416.1L399 467.2" class="so" stroke-width="3.5"/><path d="M399 416.1L399 467.2" class="si" stroke-width="1.1"/>
<path d="M405 414.6Q405 409.6 409.3 407.1L436.8 391.3Q442 388.3 442 394.3L442 453.5Q442 459.5 436.8 462.4L410.2 477.8Q405 480.8 405 474.7Z" fill="#fff" stroke="#111" stroke-width="1.8"/>
<path d="M410 416.2L410 465.8" class="so" stroke-width="3.5"/><path d="M410 416.2L410 465.8" class="si" stroke-width="1.1"/>
<path d="M416.6 412.4L416.6 462" class="so" stroke-width="3.5"/><path d="M416.6 412.4L416.6 462" class="si" stroke-width="1.1"/>
<path d="M423.4 408.5L423.4 458.1" class="so" stroke-width="3.5"/><path d="M423.4 408.5L423.4 458.1" class="si" stroke-width="1.1"/>
<path d="M430 404.7L430 454.3" class="so" stroke-width="3.5"/><path d="M430 404.7L430 454.3" class="si" stroke-width="1.1"/>
<path d="M436.6 400.9L436.6 450.5" class="so" stroke-width="3.5"/><path d="M436.6 400.9L436.6 450.5" class="si" stroke-width="1.1"/>
<path d="M333.3 439.2V441.7Q335 442.9 336.7 441.7V439.2" fill="#fff" stroke="#111" stroke-width="1"/>
<path d="M404.3 481.7V484.2Q406 485.4 407.7 484.2V481.7" fill="#fff" stroke="#111" stroke-width="1"/>
<path d="M432.3 463.7V466.2Q434 467.4 435.7 466.2V463.7" fill="#fff" stroke="#111" stroke-width="1"/>
<path d="M481.3 436.7V439.2Q483 440.4 484.7 439.2V436.7" fill="#fff" stroke="#111" stroke-width="1"/>
<path d="M510.3 420.7V423.2Q512 424.4 513.7 423.2V420.7" fill="#fff" stroke="#111" stroke-width="1"/>
<path d="M327.7 373L331.3 372L331.3 373.6L327.7 374.6Z" fill="#fff" stroke="#111" stroke-width="0.8"/>
<path d="M327.7 429L331.3 428L331.3 429.6L327.7 430.6Z" fill="#fff" stroke="#111" stroke-width="0.8"/>
<path d="M365.2 396L368.8 395L368.8 396.6L365.2 397.6Z" fill="#fff" stroke="#111" stroke-width="0.8"/>
<path d="M365.2 452L368.8 451L368.8 452.6L365.2 453.6Z" fill="#fff" stroke="#111" stroke-width="0.8"/>
<path d="M403.7 416L407.3 415L407.3 416.6L403.7 417.6Z" fill="#fff" stroke="#111" stroke-width="0.8"/>
<path d="M403.7 472L407.3 471L407.3 472.6L403.7 473.6Z" fill="#fff" stroke="#111" stroke-width="0.8"/>
<path d="M516.2 353L519.8 352L519.8 353.6L516.2 354.6Z" fill="#fff" stroke="#111" stroke-width="0.8"/>
<path d="M516.2 408L519.8 407L519.8 408.6L516.2 409.6Z" fill="#fff" stroke="#111" stroke-width="0.8"/>
<text x="361.8" y="512.5" class="n">Ryze-SF05A</text>
<text x="361.3" y="526.5" class="d">2400L*1650W*1400H</text>
<g transform="translate(413,530.5)" fill="none" stroke="#666" stroke-width="1.25"><path d="M7 0.5L1 5M7 0.5L13 5M5 4.3H9.2M3.5 6.5H10.5L9.3 8.3M3.5 9.3H10.5V12.5H3.5Z"/><path transform="translate(14.5,0)" d="M7 0V3M7 1.5H11M3.5 3H10.5V7.6H3.5ZM3.5 5.3H10.5M1 9.2H13M7 7.6V13M6.5 9.6L1.8 12.6M7.5 9.6L12.2 12.6"/><path transform="translate(29,0)" d="M3 1.5H11L7.5 5V12Q7.5 13.2 5.3 12.6M1 7.2H13"/></g>
<text x="361.7" y="556.2" class="d">1270L*560W*750H</text>
<path d="M683 327.6Q683 322.6 687.3 320.1L715.8 303.7Q721 300.7 721 306.7L721 371.9L683 393.8Z" fill="#fff" stroke="#111" stroke-width="1"/>
<path d="M683 327.6L683 325.1Q683 322.6 687.3 320.1L715.8 303.7Q721 300.7 721 303.7L721 306.7" fill="none" stroke="#111" stroke-width="1.8"/>
<path d="M721 371.9L721 371.9L683 393.8L683 393.8" fill="none" stroke="#111" stroke-width="1.8"/>
<path d="M683 393.8L683 393.8L683 327.6Q683 322.6 685.2 321.4L687.3 320.1" fill="none" stroke="#111" stroke-width="1.8"/>
<path d="M688 330.8L688 379.9" class="so" stroke-width="3.5"/><path d="M688 330.8L688 379.9" class="si" stroke-width="1.1"/>
<path d="M695 326.8L695 375.9" class="so" stroke-width="3.5"/><path d="M695 326.8L695 375.9" class="si" stroke-width="1.1"/>
<path d="M702 322.7L702 371.8" class="so" stroke-width="3.5"/><path d="M702 322.7L702 371.8" class="si" stroke-width="1.1"/>
<path d="M709 318.7L709 367.8" class="so" stroke-width="3.5"/><path d="M709 318.7L709 367.8" class="si" stroke-width="1.1"/>
<path d="M716 314.7L716 363.8" class="so" stroke-width="3.5"/><path d="M716 314.7L716 363.8" class="si" stroke-width="1.1"/>
<path d="M721.4 307.5Q721.4 301.5 726.6 304.5L753.7 320.1Q758 322.6 758 327.6L758 393.8L721.4 372.7Z" fill="#fff" stroke="#111" stroke-width="1"/>
<path d="M721.4 307.5L721.4 304.5Q721.4 301.5 726.6 304.5L753.7 320.1Q758 322.6 758 325.1L758 327.6" fill="none" stroke="#111" stroke-width="1.8"/>
<path d="M753.7 320.1L755.8 321.4Q758 322.6 758 327.6L758 393.8L758 393.8" fill="none" stroke="#111" stroke-width="1.8"/>
<path d="M758 393.8L758 393.8L721.4 372.7L721.4 372.7" fill="none" stroke="#111" stroke-width="1.8"/>
<path d="M726 315.5L726 365.6" class="so" stroke-width="3.5"/><path d="M726 315.5L726 365.6" class="si" stroke-width="1.1"/>
<path d="M732.6 319.3L732.6 369.4" class="so" stroke-width="3.5"/><path d="M732.6 319.3L732.6 369.4" class="si" stroke-width="1.1"/>
<path d="M739.4 323.2L739.4 373.3" class="so" stroke-width="3.5"/><path d="M739.4 323.2L739.4 373.3" class="si" stroke-width="1.1"/>
<path d="M746 327L746 377.1" class="so" stroke-width="3.5"/><path d="M746 327L746 377.1" class="si" stroke-width="1.1"/>
<path d="M753 331.1L753 381.2" class="so" stroke-width="3.5"/><path d="M753 331.1L753 381.2" class="si" stroke-width="1.1"/>
<path d="M758.6 328.9Q758.6 322.9 763.8 325.9L792.8 342.6Q798 345.6 798 351.6L798 416.8L758.6 394.1Z" fill="#fff" stroke="#111" stroke-width="1.8"/>
<path d="M764 336.8L764 387.9" class="so" stroke-width="3.5"/><path d="M764 336.8L764 387.9" class="si" stroke-width="1.1"/>
<path d="M770.6 340.7L770.6 391.8" class="so" stroke-width="3.5"/><path d="M770.6 340.7L770.6 391.8" class="si" stroke-width="1.1"/>
<path d="M777.4 344.6L777.4 395.7" class="so" stroke-width="3.5"/><path d="M777.4 344.6L777.4 395.7" class="si" stroke-width="1.1"/>
<path d="M784 348.4L784 399.5" class="so" stroke-width="3.5"/><path d="M784 348.4L784 399.5" class="si" stroke-width="1.1"/>
<path d="M790.6 352.2L790.6 403.3" class="so" stroke-width="3.5"/><path d="M790.6 352.2L790.6 403.3" class="si" stroke-width="1.1"/>
<path d="M693 370L709 359L711 340L717 335L721 333L763 356L763 430L693 392Z" fill="#fff" stroke="none" stroke-width="0"/>
<path d="M717 336L721 333L763 356L763 385L709 360C709 352 712 342 717 336Z" fill="#fff" stroke="#111" stroke-width="1.3"/>
<path d="M717 336.5L761 360.5" fill="none" stroke="#111" stroke-width="0.9"/>
<path d="M719 334.8L762 358.3" fill="none" stroke="#111" stroke-width="0.9"/>
<path d="M693 370L709 360L763 390L763 409Z" fill="#fff" stroke="#111" stroke-width="1.2"/>
<path d="M725 404L763 425L763 430L725 409Z" fill="#fff" stroke="#111" stroke-width="1"/>
<path d="M725 410L763 431" fill="none" stroke="#111" stroke-width="1"/>
<path d="M608 370.6Q608 365.6 612.3 363.1L639.8 347.3Q645 344.3 645 350.3L645 415.5L614.1 433.3Q608 436.8 608 429.8Z" fill="#fff" stroke="#111" stroke-width="1"/>
<path d="M608 370.6L608 368.1Q608 365.6 612.3 363.1L639.8 347.3Q645 344.3 645 347.3L645 350.3" fill="none" stroke="#111" stroke-width="1.8"/>
<path d="M645 415.5L645 415.5L614.1 433.3Q608 436.8 608 433.3L608 429.8" fill="none" stroke="#111" stroke-width="1.8"/>
<path d="M614.1 433.3L611 435.1Q608 436.8 608 429.8L608 370.6Q608 365.6 610.2 364.4L612.3 363.1" fill="none" stroke="#111" stroke-width="1.8"/>
<path d="M620 370L620 419.1" class="so" stroke-width="3.5"/><path d="M620 370L620 419.1" class="si" stroke-width="1.1"/>
<path d="M626.4 366.3L626.4 415.4" class="so" stroke-width="3.5"/><path d="M626.4 366.3L626.4 415.4" class="si" stroke-width="1.1"/>
<path d="M633 362.5L633 411.6" class="so" stroke-width="3.5"/><path d="M633 362.5L633 411.6" class="si" stroke-width="1.1"/>
<path d="M639.6 358.7L639.6 407.8" class="so" stroke-width="3.5"/><path d="M639.6 358.7L639.6 407.8" class="si" stroke-width="1.1"/>
<path d="M646 348.6Q646 343.6 650.3 341.1L676.8 325.9Q682 322.8 682 328.9L682 394L646 414.8Z" fill="#fff" stroke="#111" stroke-width="1.8"/>
<path d="M650.4 341.6L677.4 326.6L677.4 356L650.4 371Z" fill="#fff" stroke="#111" stroke-width="1.2"/>
<path d="M650.4 371L651.5 373L678.5 358L677.4 356" fill="none" stroke="#111" stroke-width="1"/>
<path d="M654 378L654 400" fill="none" stroke="#111" stroke-width="1"/>
<path d="M657 380L657 402" fill="none" stroke="#111" stroke-width="1"/>
<path d="M662 382L662 410" fill="none" stroke="#111" stroke-width="1"/>
<path d="M669 386L669 410" fill="none" stroke="#111" stroke-width="1"/>
<path d="M674 388L674 405" fill="none" stroke="#111" stroke-width="1"/>
<path d="M677 390L677 404" fill="none" stroke="#111" stroke-width="1"/>
<path d="M671 392L675 398L681 392" fill="none" stroke="#111" stroke-width="1.6"/>
<path d="M652 377.6L679 363.6L733 397.6L706 412.6Z" fill="#fff" stroke="#111" stroke-width="1"/>
<path d="M652 376L679 362L733 396L706 411Z" fill="#fff" stroke="#111" stroke-width="1"/>
<path d="M661 372.5L676 364.5L678 366.5L663 374.5Z" fill="#111" stroke="#111" stroke-width="1"/>
<path d="M759 370.6Q759 365.6 763.3 363.1L792.8 346.1Q798 343.1 798 349.1L798 408.3Q798 414.3 792.8 417.3L764.2 433.8Q759 436.8 759 430.7Z" fill="#fff" stroke="#111" stroke-width="1.8"/>
<path d="M765.4 372.3L765.4 421.4" class="so" stroke-width="3.5"/><path d="M765.4 372.3L765.4 421.4" class="si" stroke-width="1.1"/>
<path d="M772 368.5L772 417.6" class="so" stroke-width="3.5"/><path d="M772 368.5L772 417.6" class="si" stroke-width="1.1"/>
<path d="M778.6 364.7L778.6 413.8" class="so" stroke-width="3.5"/><path d="M778.6 364.7L778.6 413.8" class="si" stroke-width="1.1"/>
<path d="M785.4 360.8L785.4 409.9" class="so" stroke-width="3.5"/><path d="M785.4 360.8L785.4 409.9" class="si" stroke-width="1.1"/>
<path d="M792 357L792 406.1" class="so" stroke-width="3.5"/><path d="M792 357L792 406.1" class="si" stroke-width="1.1"/>
<path d="M607 371.1Q607 365.1 612.2 368.1L641.7 385.1Q646 387.6 646 392.6L646 452.7Q646 458.8 640.8 455.8L611.3 438.8Q607 436.3 607 431.3Z" fill="#fff" stroke="#111" stroke-width="1.8"/>
<path d="M613 379L613 430.1" class="so" stroke-width="3.5"/><path d="M613 379L613 430.1" class="si" stroke-width="1.1"/>
<path d="M619.6 382.8L619.6 433.9" class="so" stroke-width="3.5"/><path d="M619.6 382.8L619.6 433.9" class="si" stroke-width="1.1"/>
<path d="M626.4 386.8L626.4 437.9" class="so" stroke-width="3.5"/><path d="M626.4 386.8L626.4 437.9" class="si" stroke-width="1.1"/>
<path d="M633 390.6L633 441.7" class="so" stroke-width="3.5"/><path d="M633 390.6L633 441.7" class="si" stroke-width="1.1"/>
<path d="M639.6 394.4L639.6 445.5" class="so" stroke-width="3.5"/><path d="M639.6 394.4L639.6 445.5" class="si" stroke-width="1.1"/>
<path d="M646 393.7Q646 387.7 651.2 390.7L679.7 407.1Q684 409.6 684 414.6L684 474.7Q684 480.8 678.8 477.8L650.3 461.4Q646 458.9 646 453.9Z" fill="#fff" stroke="#111" stroke-width="1.8"/>
<path d="M651.4 400.8L651.4 451.9" class="so" stroke-width="3.5"/><path d="M651.4 400.8L651.4 451.9" class="si" stroke-width="1.1"/>
<path d="M658 404.6L658 455.7" class="so" stroke-width="3.5"/><path d="M658 404.6L658 455.7" class="si" stroke-width="1.1"/>
<path d="M664.6 408.4L664.6 459.5" class="so" stroke-width="3.5"/><path d="M664.6 408.4L664.6 459.5" class="si" stroke-width="1.1"/>
<path d="M671.4 412.3L671.4 463.4" class="so" stroke-width="3.5"/><path d="M671.4 412.3L671.4 463.4" class="si" stroke-width="1.1"/>
<path d="M678 416.1L678 467.2" class="so" stroke-width="3.5"/><path d="M678 416.1L678 467.2" class="si" stroke-width="1.1"/>
<path d="M684 414.6Q684 409.6 688.3 407.1L715.8 391.3Q721 388.3 721 394.3L721 453.5Q721 459.5 715.8 462.4L689.2 477.8Q684 480.8 684 474.7Z" fill="#fff" stroke="#111" stroke-width="1.8"/>
<path d="M689 416.2L689 465.8" class="so" stroke-width="3.5"/><path d="M689 416.2L689 465.8" class="si" stroke-width="1.1"/>
<path d="M695.6 412.4L695.6 462" class="so" stroke-width="3.5"/><path d="M695.6 412.4L695.6 462" class="si" stroke-width="1.1"/>
<path d="M702.4 408.5L702.4 458.1" class="so" stroke-width="3.5"/><path d="M702.4 408.5L702.4 458.1" class="si" stroke-width="1.1"/>
<path d="M709 404.7L709 454.3" class="so" stroke-width="3.5"/><path d="M709 404.7L709 454.3" class="si" stroke-width="1.1"/>
<path d="M715.6 400.9L715.6 450.5" class="so" stroke-width="3.5"/><path d="M715.6 400.9L715.6 450.5" class="si" stroke-width="1.1"/>
<path d="M612.3 439.2V441.7Q614 442.9 615.7 441.7V439.2" fill="#fff" stroke="#111" stroke-width="1"/>
<path d="M683.3 481.7V484.2Q685 485.4 686.7 484.2V481.7" fill="#fff" stroke="#111" stroke-width="1"/>
<path d="M711.3 463.7V466.2Q713 467.4 714.7 466.2V463.7" fill="#fff" stroke="#111" stroke-width="1"/>
<path d="M760.3 436.7V439.2Q762 440.4 763.7 439.2V436.7" fill="#fff" stroke="#111" stroke-width="1"/>
<path d="M789.3 420.7V423.2Q791 424.4 792.7 423.2V420.7" fill="#fff" stroke="#111" stroke-width="1"/>
<path d="M606.7 373L610.3 372L610.3 373.6L606.7 374.6Z" fill="#fff" stroke="#111" stroke-width="0.8"/>
<path d="M606.7 429L610.3 428L610.3 429.6L606.7 430.6Z" fill="#fff" stroke="#111" stroke-width="0.8"/>
<path d="M644.2 396L647.8 395L647.8 396.6L644.2 397.6Z" fill="#fff" stroke="#111" stroke-width="0.8"/>
<path d="M644.2 452L647.8 451L647.8 452.6L644.2 453.6Z" fill="#fff" stroke="#111" stroke-width="0.8"/>
<path d="M682.7 416L686.3 415L686.3 416.6L682.7 417.6Z" fill="#fff" stroke="#111" stroke-width="0.8"/>
<path d="M682.7 472L686.3 471L686.3 472.6L682.7 473.6Z" fill="#fff" stroke="#111" stroke-width="0.8"/>
<path d="M795.2 353L798.8 352L798.8 353.6L795.2 354.6Z" fill="#fff" stroke="#111" stroke-width="0.8"/>
<path d="M795.2 408L798.8 407L798.8 408.6L795.2 409.6Z" fill="#fff" stroke="#111" stroke-width="0.8"/>
<text x="670.8" y="512.5" class="n">Ryze-SF05B</text>
<text x="670.3" y="526.5" class="d">2400L*1650W*1400H</text>
<g transform="translate(722,530.5)" fill="none" stroke="#666" stroke-width="1.25"><path d="M7 0.5L1 5M7 0.5L13 5M5 4.3H9.2M3.5 6.5H10.5L9.3 8.3M3.5 9.3H10.5V12.5H3.5Z"/><path transform="translate(14.5,0)" d="M7 0V3M7 1.5H11M3.5 3H10.5V7.6H3.5ZM3.5 5.3H10.5M1 9.2H13M7 7.6V13M6.5 9.6L1.8 12.6M7.5 9.6L12.2 12.6"/><path transform="translate(29,0)" d="M3 1.5H11L7.5 5V12Q7.5 13.2 5.3 12.6M1 7.2H13"/></g>
<text x="670.7" y="556.2" class="d">1270L*560W*750H</text>
<path d="M90 299.4Q90 291 97.3 295.2L136.1 317.6Q143 321.6 143 329.6L143 420.5L90 389.9Z" fill="#fff" stroke="#111" stroke-width="1"/>
<path d="M90 299.4L90 295.2Q90 291 97.3 295.2L136.1 317.6Q143 321.6 143 325.6L143 329.6" fill="none" stroke="#111" stroke-width="2"/>
<path d="M136.1 317.6L139.5 319.6Q143 321.6 143 329.6L143 420.5L143 420.5" fill="none" stroke="#111" stroke-width="2"/>
<path d="M143 420.5L143 420.5L90 389.9L90 389.9" fill="none" stroke="#111" stroke-width="2"/>
<path d="M97 307.2L97 380.3" class="so" stroke-width="4"/><path d="M97 307.2L97 380.3" class="si" stroke-width="1.4"/>
<path d="M106 312.4L106 385.5" class="so" stroke-width="4"/><path d="M106 312.4L106 385.5" class="si" stroke-width="1.4"/>
<path d="M115.6 317.9L115.6 391" class="so" stroke-width="4"/><path d="M115.6 317.9L115.6 391" class="si" stroke-width="1.4"/>
<path d="M125 323.3L125 396.4" class="so" stroke-width="4"/><path d="M125 323.3L125 396.4" class="si" stroke-width="1.4"/>
<path d="M134.6 328.9L134.6 402" class="so" stroke-width="4"/><path d="M134.6 328.9L134.6 402" class="si" stroke-width="1.4"/>
<path d="M144 329.2Q144 321 151.1 325.1L190.1 347.6Q197 351.6 197 359.6L197 440.2Q197 448.4 189.9 444.3L144 417.8Z" fill="#fff" stroke="#111" stroke-width="1"/>
<path d="M144 329.2L144 325.1Q144 321 151.1 325.1L190.1 347.6Q197 351.6 197 355.6L197 359.6" fill="none" stroke="#111" stroke-width="2"/>
<path d="M144 417.8L144 417.8L144 329.2Q144 321 147.6 323.1L151.1 325.1" fill="none" stroke="#111" stroke-width="2"/>
<path d="M150.6 337.8L150.6 408.9" class="so" stroke-width="4"/><path d="M150.6 337.8L150.6 408.9" class="si" stroke-width="1.4"/>
<path d="M160 343.2L160 414.3" class="so" stroke-width="4"/><path d="M160 343.2L160 414.3" class="si" stroke-width="1.4"/>
<path d="M169.4 348.7L169.4 419.8" class="so" stroke-width="4"/><path d="M169.4 348.7L169.4 419.8" class="si" stroke-width="1.4"/>
<path d="M178.6 354L178.6 425.1" class="so" stroke-width="4"/><path d="M178.6 354L178.6 425.1" class="si" stroke-width="1.4"/>
<path d="M188 359.4L188 430.5" class="so" stroke-width="4"/><path d="M188 359.4L188 430.5" class="si" stroke-width="1.4"/>
<path d="M182 436L190 397L196 394L196.3 444L187 448Z" fill="#fff" stroke="none" stroke-width="0"/>
<path d="M85 338L90 335L193 393.5L192 398C184 408 180 420 182 436L75 374.5C75 360 79 346 85 338Z" fill="#fff" stroke="#111" stroke-width="1.3"/>
<path d="M84.5 339.5L190.5 399" fill="none" stroke="#111" stroke-width="0.9"/>
<path d="M86 337L191.5 396.5" fill="none" stroke="#111" stroke-width="0.9"/>
<path d="M84 342L189 401.5" fill="none" stroke="#111" stroke-width="0.9"/>
<path d="M75 374L182 435C168 439 153 446 145 454.5L40 395C50 387 62 379 75 374Z" fill="#fff" stroke="#111" stroke-width="1.3"/>
<path d="M40 397Q40 395 41.7 396L145 454.5L145 471.5L41.7 414Q40 413 40 411Z" fill="#fff" stroke="#111" stroke-width="1.3"/>
<path d="M40.5 401L145 460" fill="none" stroke="#111" stroke-width="0.9"/>
<path d="M40.5 403L145 462" fill="none" stroke="#111" stroke-width="0.9"/>
<path d="M145 454.5C153 446 168 439 182 435L182 448L187 447L192 444L145 471.5Z" fill="#fff" stroke="#111" stroke-width="1.3"/>
<path d="M47 415V424Q49 425.5 51 424V415" fill="#fff" stroke="#111" stroke-width="1"/>
<path d="M147 471V482Q149 483.5 151 482V471" fill="#fff" stroke="#111" stroke-width="1"/>
<path d="M187 448V459Q189 460.5 191 459V448" fill="#fff" stroke="#111" stroke-width="1"/>
<text x="53.8" y="512.5" class="n">Ryze-SF04</text>
<text x="53.3" y="529.7" class="d">1600L*800W*1400H</text>
<path d="M49 52.6Q49 42.6 57.7 37.6L102.5 11.7Q111 6.8 111 16.6L111 122.1L57.5 153Q49 157.9 49 148.1Z" fill="#fff" stroke="#111" stroke-width="1"/>
<path d="M49 52.6L49 47.6Q49 42.6 57.7 37.6L102.5 11.7Q111 6.8 111 11.7L111 16.6" fill="none" stroke="#111" stroke-width="2.5"/>
<path d="M111 122.1L111 122.1L57.5 153Q49 157.9 49 153L49 148.1" fill="none" stroke="#111" stroke-width="2.5"/>
<path d="M57.5 153L53.2 155.4Q49 157.9 49 148.1L49 52.6Q49 42.6 53.3 40.1L57.7 37.6" fill="none" stroke="#111" stroke-width="2.5"/>
<path d="M59 52.9L59 136.8" class="so" stroke-width="4.7"/><path d="M59 52.9L59 136.8" class="si" stroke-width="1.8"/>
<path d="M69.4 46.9L69.4 130.8" class="so" stroke-width="4.7"/><path d="M69.4 46.9L69.4 130.8" class="si" stroke-width="1.8"/>
<path d="M80.4 40.5L80.4 124.4" class="so" stroke-width="4.7"/><path d="M80.4 40.5L80.4 124.4" class="si" stroke-width="1.8"/>
<path d="M91.4 34.2L91.4 118.1" class="so" stroke-width="4.7"/><path d="M91.4 34.2L91.4 118.1" class="si" stroke-width="1.8"/>
<path d="M102.4 27.8L102.4 111.7" class="so" stroke-width="4.7"/><path d="M102.4 27.8L102.4 111.7" class="si" stroke-width="1.8"/>
<path d="M51.4 52L51.4 148" fill="none" stroke="#111" stroke-width="1"/>
<path d="M111.4 16.5Q111.4 6.7 119.9 11.6L180.5 46.6Q187.4 50.6 187.4 58.6L187.4 165.9L111.4 122Z" fill="#fff" stroke="#111" stroke-width="1"/>
<path d="M111.4 16.5L111.4 11.6Q111.4 6.7 119.9 11.6L180.5 46.6Q187.4 50.6 187.4 54.6L187.4 58.6" fill="none" stroke="#111" stroke-width="2.5"/>
<path d="M180.5 46.6L183.9 48.6Q187.4 50.6 187.4 58.6L187.4 165.9L187.4 165.9" fill="none" stroke="#111" stroke-width="2.5"/>
<path d="M187.4 165.9L187.4 165.9L111.4 122L111.4 122" fill="none" stroke="#111" stroke-width="2.5"/>
<path d="M118.4 29.2L118.4 113.6" class="so" stroke-width="4.7"/><path d="M118.4 29.2L118.4 113.6" class="si" stroke-width="1.8"/>
<path d="M129.4 35.6L129.4 120" class="so" stroke-width="4.7"/><path d="M129.4 35.6L129.4 120" class="si" stroke-width="1.8"/>
<path d="M140.6 42L140.6 126.4" class="so" stroke-width="4.7"/><path d="M140.6 42L140.6 126.4" class="si" stroke-width="1.8"/>
<path d="M152 48.6L152 133" class="so" stroke-width="4.7"/><path d="M152 48.6L152 133" class="si" stroke-width="1.8"/>
<path d="M163.4 55.2L163.4 139.6" class="so" stroke-width="4.7"/><path d="M163.4 55.2L163.4 139.6" class="si" stroke-width="1.8"/>
<path d="M174.6 61.7L174.6 146.1" class="so" stroke-width="4.7"/><path d="M174.6 61.7L174.6 146.1" class="si" stroke-width="1.8"/>
<path d="M51.6 105.2L110.4 71.4L131 82L131 195L72 162L50.5 149Z" fill="#fff" stroke="none" stroke-width="0"/>
<path d="M53.8 147.7L71.3 138L71.3 161L51.6 148.6Z" fill="#fff" stroke="#111" stroke-width="1"/>
<path d="M74.8 147.7L75.9 143.1Q77 138.5 81 135.5L83 133.9Q86.2 131.5 89.8 129.8L101.9 124Q104.6 122.7 107.4 121.7L110.6 120.6Q113.4 119.6 116.3 120.5L130 125L130 181L124 177L74.8 149Z" fill="#fff" stroke="#111" stroke-width="1.6"/>
<path d="M75.7 142.9L126 168.8" fill="none" stroke="#111" stroke-width="1"/>
<path d="M74.8 148.6L126 177.5" fill="none" stroke="#111" stroke-width="0.9"/>
<path d="M75.2 150.8L126 179.7" fill="none" stroke="#111" stroke-width="0.9"/>
<path d="M72.2 161.8L126 193" fill="none" stroke="#111" stroke-width="1"/>
<path d="M71.3 123L74.8 125L74.8 162.5L71.3 161.8Z" fill="#fff" stroke="#111" stroke-width="1"/>
<path d="M124 78.9C117 88 115 100 114.3 118.8L130 125L130 80Z" fill="#fff" stroke="#111" stroke-width="1.6"/>
<path d="M123.5 79.5L131 75.5L134 77.5L126.5 82Z" fill="#fff" stroke="#111" stroke-width="1"/>
<path d="M51.6 106.6L110.4 72.8L124 80.4L117.8 93.4L91 108.5Q89.7 109.2 90.8 110.3L102.5 122Q104.6 124.1 103.8 126.5L103.6 127Q102.9 128.9 101.1 129.7L93.4 133Q90.6 134.2 88.4 133.6L88.1 133.5Q86.2 132.9 84.6 131.7Z" fill="#fff" stroke="#111" stroke-width="1"/>
<path d="M51.6 105.2L110.4 71.4L124 79L117.8 92L91 107.1Q89.7 107.8 90.8 108.9L102.5 120.6Q104.6 122.7 103.8 125.1L103.6 125.6Q102.9 127.5 101.1 128.3L93.4 131.6Q90.6 132.8 88.4 132.2L88.1 132.1Q86.2 131.5 84.6 130.3Z" fill="#fff" stroke="#111" stroke-width="1"/>
<path d="M49 106L49 148" fill="none" stroke="#111" stroke-width="2.2"/>
<path d="M53.8 108L53.8 147.7" fill="none" stroke="#111" stroke-width="1"/>
<path d="M124.4 91.6Q124.4 84.6 130.5 81.1L178.6 53.3Q187.4 48.2 187.4 58.4L187.4 158.6Q187.4 167.6 179.6 172.1L133.2 198.9Q124.4 204 124.4 193.8Z" fill="#fff" stroke="#111" stroke-width="2.5"/>
<path d="M134 97.5L134 182.4" class="so" stroke-width="4.7"/><path d="M134 97.5L134 182.4" class="si" stroke-width="1.8"/>
<path d="M144.9 91.2L144.9 176.1" class="so" stroke-width="4.7"/><path d="M144.9 91.2L144.9 176.1" class="si" stroke-width="1.8"/>
<path d="M155.9 84.8L155.9 169.7" class="so" stroke-width="4.7"/><path d="M155.9 84.8L155.9 169.7" class="si" stroke-width="1.8"/>
<path d="M166.8 78.5L166.8 163.4" class="so" stroke-width="4.7"/><path d="M166.8 78.5L166.8 163.4" class="si" stroke-width="1.8"/>
<path d="M177.8 72.2L177.8 157.1" class="so" stroke-width="4.7"/><path d="M177.8 72.2L177.8 157.1" class="si" stroke-width="1.8"/>
<path d="M126.3 90L126.3 194" fill="none" stroke="#111" stroke-width="1"/>
<path d="M183.5 67.5L188 65.2L188 66.8L183.5 69Z" fill="#fff" stroke="#111" stroke-width="0.9"/>
<path d="M183.5 156.5L188 154.2L188 155.8L183.5 158Z" fill="#fff" stroke="#111" stroke-width="0.9"/>
<path d="M60 156V165Q62 166.5 64 165V156" fill="#fff" stroke="#111" stroke-width="1"/>
<path d="M127.5 200V204Q129.5 205.5 131.5 204V200" fill="#fff" stroke="#111" stroke-width="1"/>
<path d="M174 174.5V177.5Q176 179 178 177.5V174.5" fill="#fff" stroke="#111" stroke-width="1"/>
<text x="53.8" y="231" class="n">Ryze-SF01A</text>
<text x="53.3" y="248.2" class="d">1000L*800W*1400H</text>
<path d="M346 52.6Q346 42.6 354.7 37.6L399.5 11.7Q408 6.8 408 16.6L408 122.1L354.5 153Q346 157.9 346 148.1Z" fill="#fff" stroke="#111" stroke-width="1"/>
<path d="M346 52.6L346 47.6Q346 42.6 354.7 37.6L399.5 11.7Q408 6.8 408 11.7L408 16.6" fill="none" stroke="#111" stroke-width="2.5"/>
<path d="M408 122.1L408 122.1L354.5 153Q346 157.9 346 153L346 148.1" fill="none" stroke="#111" stroke-width="2.5"/>
<path d="M354.5 153L350.2 155.4Q346 157.9 346 148.1L346 52.6Q346 42.6 350.3 40.1L354.7 37.6" fill="none" stroke="#111" stroke-width="2.5"/>
<path d="M356 52.9L356 136.8" class="so" stroke-width="4.7"/><path d="M356 52.9L356 136.8" class="si" stroke-width="1.8"/>
<path d="M366.4 46.9L366.4 130.8" class="so" stroke-width="4.7"/><path d="M366.4 46.9L366.4 130.8" class="si" stroke-width="1.8"/>
<path d="M377.4 40.5L377.4 124.4" class="so" stroke-width="4.7"/><path d="M377.4 40.5L377.4 124.4" class="si" stroke-width="1.8"/>
<path d="M388.4 34.2L388.4 118.1" class="so" stroke-width="4.7"/><path d="M388.4 34.2L388.4 118.1" class="si" stroke-width="1.8"/>
<path d="M399.4 27.8L399.4 111.7" class="so" stroke-width="4.7"/><path d="M399.4 27.8L399.4 111.7" class="si" stroke-width="1.8"/>
<path d="M348.4 52L348.4 148" fill="none" stroke="#111" stroke-width="1"/>
<path d="M408.4 16.5Q408.4 6.7 416.9 11.6L477.5 46.6Q484.4 50.6 484.4 58.6L484.4 165.9L408.4 122Z" fill="#fff" stroke="#111" stroke-width="1"/>
<path d="M408.4 16.5L408.4 11.6Q408.4 6.7 416.9 11.6L477.5 46.6Q484.4 50.6 484.4 54.6L484.4 58.6" fill="none" stroke="#111" stroke-width="2.5"/>
<path d="M477.5 46.6L480.9 48.6Q484.4 50.6 484.4 58.6L484.4 165.9L484.4 165.9" fill="none" stroke="#111" stroke-width="2.5"/>
<path d="M484.4 165.9L484.4 165.9L408.4 122L408.4 122" fill="none" stroke="#111" stroke-width="2.5"/>
<path d="M415.4 29.2L415.4 113.6" class="so" stroke-width="4.7"/><path d="M415.4 29.2L415.4 113.6" class="si" stroke-width="1.8"/>
<path d="M426.4 35.6L426.4 120" class="so" stroke-width="4.7"/><path d="M426.4 35.6L426.4 120" class="si" stroke-width="1.8"/>
<path d="M437.6 42L437.6 126.4" class="so" stroke-width="4.7"/><path d="M437.6 42L437.6 126.4" class="si" stroke-width="1.8"/>
<path d="M449 48.6L449 133" class="so" stroke-width="4.7"/><path d="M449 48.6L449 133" class="si" stroke-width="1.8"/>
<path d="M460.4 55.2L460.4 139.6" class="so" stroke-width="4.7"/><path d="M460.4 55.2L460.4 139.6" class="si" stroke-width="1.8"/>
<path d="M471.6 61.7L471.6 146.1" class="so" stroke-width="4.7"/><path d="M471.6 61.7L471.6 146.1" class="si" stroke-width="1.8"/>
<path d="M348.6 105.2L407.4 71.4L428 82L428 195L369 162L347.5 149Z" fill="#fff" stroke="none" stroke-width="0"/>
<path d="M350.8 147.7L368.3 138L368.3 161L348.6 148.6Z" fill="#fff" stroke="#111" stroke-width="1"/>
<path d="M371.8 147.7L372.9 143.1Q374 138.5 378 135.5L380 133.9Q383.2 131.5 386.8 129.8L398.9 124Q401.6 122.7 404.4 121.7L407.6 120.6Q410.4 119.6 413.3 120.5L427 125L427 181L421 177L371.8 149Z" fill="#fff" stroke="#111" stroke-width="1.6"/>
<path d="M372.7 142.9L423 168.8" fill="none" stroke="#111" stroke-width="1"/>
<path d="M371.8 148.6L423 177.5" fill="none" stroke="#111" stroke-width="0.9"/>
<path d="M372.2 150.8L423 179.7" fill="none" stroke="#111" stroke-width="0.9"/>
<path d="M369.2 161.8L423 193" fill="none" stroke="#111" stroke-width="1"/>
<path d="M368.3 123L371.8 125L371.8 162.5L368.3 161.8Z" fill="#fff" stroke="#111" stroke-width="1"/>
<path d="M421 78.9C414 88 412 100 411.3 118.8L427 125L427 80Z" fill="#fff" stroke="#111" stroke-width="1.6"/>
<path d="M420.5 79.5L428 75.5L431 77.5L423.5 82Z" fill="#fff" stroke="#111" stroke-width="1"/>
<path d="M348.6 106.6L407.4 72.8L421 80.4L414.8 93.4L388 108.5Q386.7 109.2 387.8 110.3L399.5 122Q401.6 124.1 400.8 126.5L400.6 127Q399.9 128.9 398.1 129.7L390.4 133Q387.6 134.2 385.4 133.6L385.1 133.5Q383.2 132.9 381.6 131.7Z" fill="#fff" stroke="#111" stroke-width="1"/>
<path d="M348.6 105.2L407.4 71.4L421 79L414.8 92L388 107.1Q386.7 107.8 387.8 108.9L399.5 120.6Q401.6 122.7 400.8 125.1L400.6 125.6Q399.9 127.5 398.1 128.3L390.4 131.6Q387.6 132.8 385.4 132.2L385.1 132.1Q383.2 131.5 381.6 130.3Z" fill="#fff" stroke="#111" stroke-width="1"/>
<path d="M346 106L346 148" fill="none" stroke="#111" stroke-width="2.2"/>
<path d="M350.8 108L350.8 147.7" fill="none" stroke="#111" stroke-width="1"/>
<path d="M421.4 91.6Q421.4 84.6 427.5 81.1L475.6 53.3Q484.4 48.2 484.4 58.4L484.4 158.6Q484.4 167.6 476.6 172.1L430.2 198.9Q421.4 204 421.4 193.8Z" fill="#fff" stroke="#111" stroke-width="2.5"/>
<path d="M431 97.5L431 182.4" class="so" stroke-width="4.7"/><path d="M431 97.5L431 182.4" class="si" stroke-width="1.8"/>
<path d="M441.9 91.2L441.9 176.1" class="so" stroke-width="4.7"/><path d="M441.9 91.2L441.9 176.1" class="si" stroke-width="1.8"/>
<path d="M452.9 84.8L452.9 169.7" class="so" stroke-width="4.7"/><path d="M452.9 84.8L452.9 169.7" class="si" stroke-width="1.8"/>
<path d="M463.9 78.5L463.9 163.4" class="so" stroke-width="4.7"/><path d="M463.9 78.5L463.9 163.4" class="si" stroke-width="1.8"/>
<path d="M474.8 72.2L474.8 157.1" class="so" stroke-width="4.7"/><path d="M474.8 72.2L474.8 157.1" class="si" stroke-width="1.8"/>
<path d="M423.3 90L423.3 194" fill="none" stroke="#111" stroke-width="1"/>
<path d="M480.5 67.5L485 65.2L485 66.8L480.5 69Z" fill="#fff" stroke="#111" stroke-width="0.9"/>
<path d="M480.5 156.5L485 154.2L485 155.8L480.5 158Z" fill="#fff" stroke="#111" stroke-width="0.9"/>
<path d="M357 156V165Q359 166.5 361 165V156" fill="#fff" stroke="#111" stroke-width="1"/>
<path d="M424.5 200V204Q426.5 205.5 428.5 204V200" fill="#fff" stroke="#111" stroke-width="1"/>
<path d="M471 174.5V177.5Q473 179 475 177.5V174.5" fill="#fff" stroke="#111" stroke-width="1"/>
<text x="361.8" y="231" class="n">Ryze-SF01B</text>
<text x="361.3" y="248.2" class="d">1000L*800W*1400H</text>
<path d="M643 54.6Q643 44.6 651.7 39.6L694.7 14.8Q703 10 703 19.6L703 123.2L651.3 153Q643 157.8 643 148.2Z" fill="#fff" stroke="#111" stroke-width="1"/>
<path d="M643 54.6L643 49.6Q643 44.6 651.7 39.6L694.7 14.8Q703 10 703 14.8L703 19.6" fill="none" stroke="#111" stroke-width="2.5"/>
<path d="M703 123.2L703 123.2L651.3 153Q643 157.8 643 153L643 148.2" fill="none" stroke="#111" stroke-width="2.5"/>
<path d="M651.3 153L647.2 155.4Q643 157.8 643 148.2L643 54.6Q643 44.6 647.3 42.1L651.7 39.6" fill="none" stroke="#111" stroke-width="2.5"/>
<path d="M653 54.7L653 136.6" class="so" stroke-width="4.7"/><path d="M653 54.7L653 136.6" class="si" stroke-width="1.8"/>
<path d="M663.6 48.6L663.6 130.5" class="so" stroke-width="4.7"/><path d="M663.6 48.6L663.6 130.5" class="si" stroke-width="1.8"/>
<path d="M674.4 42.4L674.4 124.3" class="so" stroke-width="4.7"/><path d="M674.4 42.4L674.4 124.3" class="si" stroke-width="1.8"/>
<path d="M685 36.3L685 118.2" class="so" stroke-width="4.7"/><path d="M685 36.3L685 118.2" class="si" stroke-width="1.8"/>
<path d="M695.4 30.3L695.4 112.2" class="so" stroke-width="4.7"/><path d="M695.4 30.3L695.4 112.2" class="si" stroke-width="1.8"/>
<path d="M703.4 18Q703.4 8.4 711.7 13.2L773.1 48.6Q780 52.6 780 60.6L780 165.8L703.4 121.6Z" fill="#fff" stroke="#111" stroke-width="1"/>
<path d="M703.4 18L703.4 13.2Q703.4 8.4 711.7 13.2L773.1 48.6Q780 52.6 780 56.6L780 60.6" fill="none" stroke="#111" stroke-width="2.5"/>
<path d="M773.1 48.6L776.5 50.6Q780 52.6 780 60.6L780 165.8L780 165.8" fill="none" stroke="#111" stroke-width="2.5"/>
<path d="M780 165.8L780 165.8L703.4 121.6L703.4 121.6" fill="none" stroke="#111" stroke-width="2.5"/>
<path d="M712.4 32.2L712.4 114.6" class="so" stroke-width="4.7"/><path d="M712.4 32.2L712.4 114.6" class="si" stroke-width="1.8"/>
<path d="M723.4 38.6L723.4 121" class="so" stroke-width="4.7"/><path d="M723.4 38.6L723.4 121" class="si" stroke-width="1.8"/>
<path d="M734.4 44.9L734.4 127.3" class="so" stroke-width="4.7"/><path d="M734.4 44.9L734.4 127.3" class="si" stroke-width="1.8"/>
<path d="M745.6 51.4L745.6 133.8" class="so" stroke-width="4.7"/><path d="M745.6 51.4L745.6 133.8" class="si" stroke-width="1.8"/>
<path d="M756.6 57.8L756.6 140.2" class="so" stroke-width="4.7"/><path d="M756.6 57.8L756.6 140.2" class="si" stroke-width="1.8"/>
<path d="M767.6 64.1L767.6 146.5" class="so" stroke-width="4.7"/><path d="M767.6 64.1L767.6 146.5" class="si" stroke-width="1.8"/>
<path d="M647 130L693 107L688 104L695 70L702 64L725 77L725 200L645 152Z" fill="#fff" stroke="none" stroke-width="0"/>
<path d="M695 70L702 64L726 77.5L726 125L718 120L693 107.5C686 104 689 80 695 70Z" fill="#fff" stroke="#111" stroke-width="1.5"/>
<path d="M695 70L720 84" fill="none" stroke="#111" stroke-width="1"/>
<path d="M697 68.3L722 82" fill="none" stroke="#111" stroke-width="0.9"/>
<path d="M700 66L724 79.5" fill="none" stroke="#111" stroke-width="0.9"/>
<path d="M649.6 131.5Q647 130 649.7 128.7L693 107L720 121L720 171Z" fill="#fff" stroke="#111" stroke-width="1.5"/>
<path d="M646 132.5Q646 130.5 647.8 131.5L720 171L720 190L648.7 152.4Q646 151 646 148Z" fill="#fff" stroke="#111" stroke-width="1.2"/>
<path d="M647 136.5L720 177" fill="none" stroke="#111" stroke-width="0.9"/>
<path d="M647 138.5L720 179" fill="none" stroke="#111" stroke-width="0.9"/>
<path d="M645.6 110L645.6 150" fill="none" stroke="#111" stroke-width="1"/>
<path d="M718 90.6Q718 83.6 724.1 80.1L771.3 52.9Q780 47.8 780 57.9L780 157.2Q780 166.2 772.2 170.7L726.7 196.9Q718 201.9 718 191.9Z" fill="#fff" stroke="#111" stroke-width="2.5"/>
<path d="M727.6 97.1L727.6 180" class="so" stroke-width="4.7"/><path d="M727.6 97.1L727.6 180" class="si" stroke-width="1.8"/>
<path d="M738.4 90.8L738.4 173.7" class="so" stroke-width="4.7"/><path d="M738.4 90.8L738.4 173.7" class="si" stroke-width="1.8"/>
<path d="M749 84.7L749 167.6" class="so" stroke-width="4.7"/><path d="M749 84.7L749 167.6" class="si" stroke-width="1.8"/>
<path d="M760 78.4L760 161.3" class="so" stroke-width="4.7"/><path d="M760 78.4L760 161.3" class="si" stroke-width="1.8"/>
<path d="M770.6 72.2L770.6 155.1" class="so" stroke-width="4.7"/><path d="M770.6 72.2L770.6 155.1" class="si" stroke-width="1.8"/>
<path d="M720 89L720 193" fill="none" stroke="#111" stroke-width="1"/>
<path d="M776 67.5L780.5 65.2L780.5 66.8L776 69Z" fill="#fff" stroke="#111" stroke-width="0.9"/>
<path d="M776 154.5L780.5 152.2L780.5 153.8L776 156Z" fill="#fff" stroke="#111" stroke-width="0.9"/>
<path d="M654 155V164Q656 165.5 658 164V155" fill="#fff" stroke="#111" stroke-width="1"/>
<path d="M720 198V202Q722 203.5 724 202V198" fill="#fff" stroke="#111" stroke-width="1"/>
<path d="M766 173V176Q768 177.5 770 176V173" fill="#fff" stroke="#111" stroke-width="1"/>
<text x="670.8" y="231" class="n">Ryze-SF02A</text>
<text x="670.3" y="248.2" class="d">1000L*800W*1400H</text>
<path d="M938 51.6Q938 42.6 945.8 38.1L983.3 16.5Q990.6 12.2 990.6 20.7L990.6 111.1L945.3 137.3Q938 141.5 938 133.1Z" fill="#fff" stroke="#111" stroke-width="1"/>
<path d="M938 51.6L938 47.1Q938 42.6 945.8 38.1L983.3 16.5Q990.6 12.2 990.6 16.5L990.6 20.7" fill="none" stroke="#111" stroke-width="2"/>
<path d="M990.6 111.1L990.6 111.1L945.3 137.3Q938 141.5 938 137.3L938 133.1" fill="none" stroke="#111" stroke-width="2"/>
<path d="M945.3 137.3L941.6 139.4Q938 141.5 938 133.1L938 51.6Q938 42.6 941.9 40.4L945.8 38.1" fill="none" stroke="#111" stroke-width="2"/>
<path d="M947 50.7L947 122.3" class="so" stroke-width="4"/><path d="M947 50.7L947 122.3" class="si" stroke-width="1.4"/>
<path d="M956.4 45.3L956.4 116.9" class="so" stroke-width="4"/><path d="M956.4 45.3L956.4 116.9" class="si" stroke-width="1.4"/>
<path d="M965.6 40L965.6 111.6" class="so" stroke-width="4"/><path d="M965.6 40L965.6 111.6" class="si" stroke-width="1.4"/>
<path d="M975 34.6L975 106.2" class="so" stroke-width="4"/><path d="M975 34.6L975 106.2" class="si" stroke-width="1.4"/>
<path d="M984 29.4L984 101" class="so" stroke-width="4"/><path d="M984 29.4L984 101" class="si" stroke-width="1.4"/>
<path d="M990.8 20.7Q990.8 12.2 998.1 16.5L1036.5 38.6Q1043.4 42.6 1043.4 50.6L1043.4 141.5L990.8 111.1Z" fill="#fff" stroke="#111" stroke-width="1"/>
<path d="M990.8 20.7L990.8 16.5Q990.8 12.2 998.1 16.5L1036.5 38.6Q1043.4 42.6 1043.4 46.6L1043.4 50.6" fill="none" stroke="#111" stroke-width="2"/>
<path d="M1036.5 38.6L1039.9 40.6Q1043.4 42.6 1043.4 50.6L1043.4 141.5L1043.4 141.5" fill="none" stroke="#111" stroke-width="2"/>
<path d="M1043.4 141.5L1043.4 141.5L990.8 111.1L990.8 111.1" fill="none" stroke="#111" stroke-width="2"/>
<path d="M998.4 30.9L998.4 102.5" class="so" stroke-width="4"/><path d="M998.4 30.9L998.4 102.5" class="si" stroke-width="1.4"/>
<path d="M1008 36.4L1008 108" class="so" stroke-width="4"/><path d="M1008 36.4L1008 108" class="si" stroke-width="1.4"/>
<path d="M1017.4 41.9L1017.4 113.5" class="so" stroke-width="4"/><path d="M1017.4 41.9L1017.4 113.5" class="si" stroke-width="1.4"/>
<path d="M1027 47.4L1027 119" class="so" stroke-width="4"/><path d="M1027 47.4L1027 119" class="si" stroke-width="1.4"/>
<path d="M1036.4 52.8L1036.4 124.4" class="so" stroke-width="4"/><path d="M1036.4 52.8L1036.4 124.4" class="si" stroke-width="1.4"/>
<path d="M1044.6 51.9Q1044.6 43.5 1051.9 47.7L1092.4 71.1Q1099.3 75.1 1099.3 83.1L1099.3 174L1044.6 142.4Z" fill="#fff" stroke="#111" stroke-width="2"/>
<path d="M1052 60.7L1052 134.3" class="so" stroke-width="4"/><path d="M1052 60.7L1052 134.3" class="si" stroke-width="1.4"/>
<path d="M1061 65.9L1061 139.5" class="so" stroke-width="4"/><path d="M1061 65.9L1061 139.5" class="si" stroke-width="1.4"/>
<path d="M1070.4 71.3L1070.4 144.9" class="so" stroke-width="4"/><path d="M1070.4 71.3L1070.4 144.9" class="si" stroke-width="1.4"/>
<path d="M1080 76.8L1080 150.4" class="so" stroke-width="4"/><path d="M1080 76.8L1080 150.4" class="si" stroke-width="1.4"/>
<path d="M1089.4 82.3L1089.4 155.9" class="so" stroke-width="4"/><path d="M1089.4 82.3L1089.4 155.9" class="si" stroke-width="1.4"/>
<path d="M942 120L977 98L977 80L982 66L989 60L1052 95L1052 200L940 139Z" fill="#fff" stroke="none" stroke-width="0"/>
<path d="M982 66L989 60L1052 95L1052 137L978 98.5C973 95 977 76 982 66Z" fill="#fff" stroke="#111" stroke-width="1.5"/>
<path d="M982 66.5L1048 103" fill="none" stroke="#111" stroke-width="1"/>
<path d="M984.6 64L1049 100" fill="none" stroke="#111" stroke-width="0.9"/>
<path d="M987.6 61.5L1051 97" fill="none" stroke="#111" stroke-width="0.9"/>
<path d="M944.7 121.4Q942 120 944.6 118.4L978 98L1048 135L1048 175Z" fill="#fff" stroke="#111" stroke-width="1.5"/>
<path d="M941 122.5Q941 120.5 942.8 121.4L1048 175.5L1048 192L943.7 138.9Q941 137.5 941 134.5Z" fill="#fff" stroke="#111" stroke-width="1.2"/>
<path d="M942 125.5L1048 180.5" fill="none" stroke="#111" stroke-width="0.9"/>
<path d="M942 127.5L1048 182.5" fill="none" stroke="#111" stroke-width="0.9"/>
<path d="M940.5 100L940.5 137" fill="none" stroke="#111" stroke-width="1"/>
<path d="M1045.6 110.1Q1045.6 103.1 1051.7 99.6L1091.9 76.4Q1099.3 72.1 1099.3 80.7L1099.3 164Q1099.3 173 1091.5 177.5L1053 199.7Q1045.6 204 1045.6 195.4Z" fill="#fff" stroke="#111" stroke-width="2"/>
<path d="M1053.6 112L1053.6 183.1" class="so" stroke-width="4"/><path d="M1053.6 112L1053.6 183.1" class="si" stroke-width="1.4"/>
<path d="M1063 106.6L1063 177.7" class="so" stroke-width="4"/><path d="M1063 106.6L1063 177.7" class="si" stroke-width="1.4"/>
<path d="M1072.4 101.2L1072.4 172.3" class="so" stroke-width="4"/><path d="M1072.4 101.2L1072.4 172.3" class="si" stroke-width="1.4"/>
<path d="M1081.8 95.8L1081.8 166.9" class="so" stroke-width="4"/><path d="M1081.8 95.8L1081.8 166.9" class="si" stroke-width="1.4"/>
<path d="M1091 90.4L1091 161.5" class="so" stroke-width="4"/><path d="M1091 90.4L1091 161.5" class="si" stroke-width="1.4"/>
<path d="M1047 109L1047 196" fill="none" stroke="#111" stroke-width="1"/>
<path d="M1095.3 86.5L1099.8 84.2L1099.8 85.8L1095.3 88Z" fill="#fff" stroke="#111" stroke-width="0.9"/>
<path d="M1095.3 162.5L1099.8 160.2L1099.8 161.8L1095.3 164Z" fill="#fff" stroke="#111" stroke-width="0.9"/>
<path d="M948 140V147Q950 148.5 952 147V140" fill="#fff" stroke="#111" stroke-width="1"/>
<path d="M1047 201V204.5Q1049 206 1051 204.5V201" fill="#fff" stroke="#111" stroke-width="1"/>
<path d="M1087 178.5V181.5Q1089 183 1091 181.5V178.5" fill="#fff" stroke="#111" stroke-width="1"/>
<text x="979.8" y="231" class="n">Ryze-SF03</text>
<text x="979.3" y="248.2" class="d">1600L*800W*1400H</text>
</svg>
</body></html>
